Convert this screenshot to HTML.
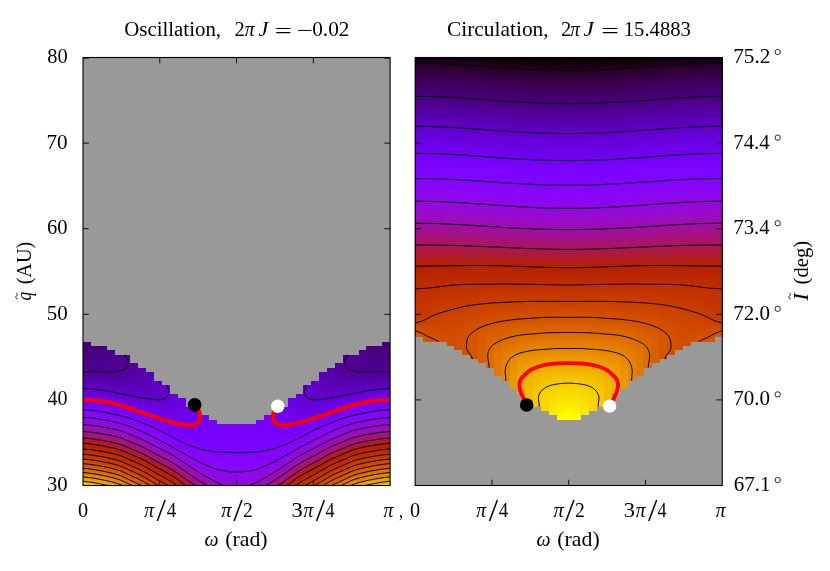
<!DOCTYPE html><html><head><meta charset="utf-8"><title>fig</title><style>html,body{margin:0;padding:0;background:#fff}svg{display:block}text{font-family:"Liberation Serif",serif;fill:#000;font-size:20.5px}.i{font-style:italic}</style></head><body>
<svg width="830" height="571" viewBox="0 0 830 571">
<defs><clipPath id="clL"><rect x="82.98" y="341.80" width="7.91" height="143.70"/><rect x="90.85" y="346.13" width="7.91" height="139.37"/><rect x="98.73" y="346.13" width="7.91" height="139.37"/><rect x="106.60" y="350.46" width="7.91" height="135.04"/><rect x="114.48" y="354.79" width="7.91" height="130.71"/><rect x="122.35" y="354.79" width="7.91" height="130.71"/><rect x="130.23" y="363.45" width="7.91" height="122.05"/><rect x="138.10" y="367.78" width="7.91" height="117.72"/><rect x="145.97" y="372.11" width="7.91" height="113.39"/><rect x="153.85" y="380.77" width="7.91" height="104.73"/><rect x="161.72" y="385.10" width="7.91" height="100.40"/><rect x="169.60" y="393.76" width="7.91" height="91.74"/><rect x="177.47" y="398.09" width="7.91" height="87.41"/><rect x="185.35" y="406.75" width="7.91" height="78.75"/><rect x="193.22" y="411.08" width="7.91" height="74.42"/><rect x="201.10" y="415.41" width="7.91" height="70.09"/><rect x="208.97" y="419.74" width="7.91" height="65.76"/><rect x="216.84" y="424.07" width="7.91" height="61.43"/><rect x="224.72" y="424.07" width="7.91" height="61.43"/><rect x="232.59" y="424.07" width="7.91" height="61.43"/><rect x="240.47" y="424.07" width="7.91" height="61.43"/><rect x="248.34" y="424.07" width="7.91" height="61.43"/><rect x="256.22" y="419.74" width="7.91" height="65.76"/><rect x="264.09" y="415.41" width="7.91" height="70.09"/><rect x="271.96" y="411.08" width="7.91" height="74.42"/><rect x="279.84" y="406.75" width="7.91" height="78.75"/><rect x="287.71" y="398.09" width="7.91" height="87.41"/><rect x="295.59" y="393.76" width="7.91" height="91.74"/><rect x="303.46" y="385.10" width="7.91" height="100.40"/><rect x="311.34" y="380.77" width="7.91" height="104.73"/><rect x="319.21" y="372.11" width="7.91" height="113.39"/><rect x="327.09" y="367.78" width="7.91" height="117.72"/><rect x="334.96" y="363.45" width="7.91" height="122.05"/><rect x="342.83" y="354.79" width="7.91" height="130.71"/><rect x="350.71" y="354.79" width="7.91" height="130.71"/><rect x="358.58" y="350.46" width="7.91" height="135.04"/><rect x="366.46" y="346.13" width="7.91" height="139.37"/><rect x="374.33" y="346.13" width="7.91" height="139.37"/><rect x="382.21" y="341.80" width="7.91" height="143.70"/></clipPath><clipPath id="clR"><rect x="415.13" y="57.50" width="7.91" height="279.97"/><rect x="423.00" y="57.50" width="7.91" height="284.30"/><rect x="430.88" y="57.50" width="7.91" height="284.30"/><rect x="438.75" y="57.50" width="7.91" height="284.30"/><rect x="446.63" y="57.50" width="7.91" height="288.63"/><rect x="454.50" y="57.50" width="7.91" height="292.96"/><rect x="462.38" y="57.50" width="7.91" height="297.29"/><rect x="470.25" y="57.50" width="7.91" height="301.62"/><rect x="478.12" y="57.50" width="7.91" height="305.95"/><rect x="486.00" y="57.50" width="7.91" height="310.28"/><rect x="493.87" y="57.50" width="7.91" height="318.94"/><rect x="501.75" y="57.50" width="7.91" height="323.27"/><rect x="509.62" y="57.50" width="7.91" height="331.93"/><rect x="517.50" y="57.50" width="7.91" height="336.26"/><rect x="525.37" y="57.50" width="7.91" height="344.92"/><rect x="533.25" y="57.50" width="7.91" height="349.25"/><rect x="541.12" y="57.50" width="7.91" height="353.58"/><rect x="548.99" y="57.50" width="7.91" height="357.91"/><rect x="556.87" y="57.50" width="7.91" height="362.24"/><rect x="564.74" y="57.50" width="7.91" height="362.24"/><rect x="572.62" y="57.50" width="7.91" height="362.24"/><rect x="580.49" y="57.50" width="7.91" height="357.91"/><rect x="588.37" y="57.50" width="7.91" height="353.58"/><rect x="596.24" y="57.50" width="7.91" height="349.25"/><rect x="604.11" y="57.50" width="7.91" height="344.92"/><rect x="611.99" y="57.50" width="7.91" height="336.26"/><rect x="619.86" y="57.50" width="7.91" height="331.93"/><rect x="627.74" y="57.50" width="7.91" height="323.27"/><rect x="635.61" y="57.50" width="7.91" height="318.94"/><rect x="643.49" y="57.50" width="7.91" height="310.28"/><rect x="651.36" y="57.50" width="7.91" height="305.95"/><rect x="659.24" y="57.50" width="7.91" height="301.62"/><rect x="667.11" y="57.50" width="7.91" height="297.29"/><rect x="674.98" y="57.50" width="7.91" height="292.96"/><rect x="682.86" y="57.50" width="7.91" height="288.63"/><rect x="690.73" y="57.50" width="7.91" height="284.30"/><rect x="698.61" y="57.50" width="7.91" height="284.30"/><rect x="706.48" y="57.50" width="7.91" height="284.30"/><rect x="714.36" y="57.50" width="7.91" height="279.97"/></clipPath><linearGradient id="gl0" x1="0" y1="0" x2="0" y2="1"><stop offset="0" stop-color="#450072"/><stop offset="0.0303" stop-color="#470078"/><stop offset="0.06061" stop-color="#48007c"/><stop offset="0.09091" stop-color="#4a007f"/><stop offset="0.1212" stop-color="#4b0083"/><stop offset="0.1515" stop-color="#4c0088"/><stop offset="0.1818" stop-color="#4e008e"/><stop offset="0.2121" stop-color="#510097"/><stop offset="0.2424" stop-color="#5500a4"/><stop offset="0.2727" stop-color="#5900b2"/><stop offset="0.303" stop-color="#5e01c2"/><stop offset="0.3333" stop-color="#6401d2"/><stop offset="0.3636" stop-color="#6a01e1"/><stop offset="0.3939" stop-color="#6f02ee"/><stop offset="0.4242" stop-color="#7502f7"/><stop offset="0.4545" stop-color="#7b03fd"/><stop offset="0.4848" stop-color="#8104ff"/><stop offset="0.5152" stop-color="#8806f9"/><stop offset="0.5455" stop-color="#8f08eb"/><stop offset="0.5758" stop-color="#950ad5"/><stop offset="0.6061" stop-color="#9c0db7"/><stop offset="0.6364" stop-color="#a21191"/><stop offset="0.6667" stop-color="#a81563"/><stop offset="0.697" stop-color="#b01b27"/><stop offset="0.7273" stop-color="#b72300"/><stop offset="0.7576" stop-color="#be2b00"/><stop offset="0.7879" stop-color="#c43500"/><stop offset="0.8182" stop-color="#cc4200"/><stop offset="0.8485" stop-color="#d35100"/><stop offset="0.8788" stop-color="#da6300"/><stop offset="0.9091" stop-color="#e17800"/><stop offset="0.9394" stop-color="#e89000"/><stop offset="0.9697" stop-color="#efab00"/><stop offset="1" stop-color="#f5c900"/></linearGradient><linearGradient id="gl1" x1="0" y1="0" x2="0" y2="1"><stop offset="0" stop-color="#48007a"/><stop offset="0.03125" stop-color="#49007e"/><stop offset="0.0625" stop-color="#4a0082"/><stop offset="0.09375" stop-color="#4b0085"/><stop offset="0.125" stop-color="#4d008a"/><stop offset="0.1563" stop-color="#4f0090"/><stop offset="0.1875" stop-color="#510098"/><stop offset="0.2188" stop-color="#5500a3"/><stop offset="0.25" stop-color="#5900b0"/><stop offset="0.2812" stop-color="#5e01bf"/><stop offset="0.3125" stop-color="#6301cf"/><stop offset="0.3437" stop-color="#6901df"/><stop offset="0.375" stop-color="#6f02ec"/><stop offset="0.4062" stop-color="#7402f6"/><stop offset="0.4375" stop-color="#7a03fd"/><stop offset="0.4687" stop-color="#8004ff"/><stop offset="0.5" stop-color="#8706fb"/><stop offset="0.5313" stop-color="#8d07ef"/><stop offset="0.5625" stop-color="#940ada"/><stop offset="0.5938" stop-color="#9a0dbd"/><stop offset="0.625" stop-color="#a11099"/><stop offset="0.6563" stop-color="#a7146e"/><stop offset="0.6875" stop-color="#ae1a35"/><stop offset="0.7188" stop-color="#b52100"/><stop offset="0.75" stop-color="#bc2900"/><stop offset="0.7812" stop-color="#c33300"/><stop offset="0.8125" stop-color="#ca3f00"/><stop offset="0.8437" stop-color="#d14e00"/><stop offset="0.875" stop-color="#d85e00"/><stop offset="0.9062" stop-color="#df7300"/><stop offset="0.9375" stop-color="#e68a00"/><stop offset="0.9688" stop-color="#eda400"/><stop offset="1" stop-color="#f3c100"/></linearGradient><linearGradient id="gl2" x1="0" y1="0" x2="0" y2="1"><stop offset="0" stop-color="#49007f"/><stop offset="0.03125" stop-color="#4b0082"/><stop offset="0.0625" stop-color="#4b0085"/><stop offset="0.09375" stop-color="#4c0088"/><stop offset="0.125" stop-color="#4d008c"/><stop offset="0.1563" stop-color="#4f0090"/><stop offset="0.1875" stop-color="#510097"/><stop offset="0.2188" stop-color="#5400a1"/><stop offset="0.25" stop-color="#5800ae"/><stop offset="0.2812" stop-color="#5d01bc"/><stop offset="0.3125" stop-color="#6201cc"/><stop offset="0.3437" stop-color="#6801dc"/><stop offset="0.375" stop-color="#6e02ea"/><stop offset="0.4062" stop-color="#7302f4"/><stop offset="0.4375" stop-color="#7803fb"/><stop offset="0.4687" stop-color="#7e04ff"/><stop offset="0.5" stop-color="#8505fd"/><stop offset="0.5313" stop-color="#8b07f3"/><stop offset="0.5625" stop-color="#9209e1"/><stop offset="0.5938" stop-color="#990cc6"/><stop offset="0.625" stop-color="#9f0fa4"/><stop offset="0.6563" stop-color="#a5137b"/><stop offset="0.6875" stop-color="#ac1847"/><stop offset="0.7188" stop-color="#b31f08"/><stop offset="0.75" stop-color="#ba2700"/><stop offset="0.7812" stop-color="#c13000"/><stop offset="0.8125" stop-color="#c83b00"/><stop offset="0.8437" stop-color="#cf4900"/><stop offset="0.875" stop-color="#d65900"/><stop offset="0.9062" stop-color="#dd6c00"/><stop offset="0.9375" stop-color="#e48200"/><stop offset="0.9688" stop-color="#eb9b00"/><stop offset="1" stop-color="#f1b700"/></linearGradient><linearGradient id="gl3" x1="0" y1="0" x2="0" y2="1"><stop offset="0" stop-color="#4c0088"/><stop offset="0.03226" stop-color="#4d008b"/><stop offset="0.06452" stop-color="#4e008d"/><stop offset="0.09677" stop-color="#4e008e"/><stop offset="0.129" stop-color="#4f0092"/><stop offset="0.1613" stop-color="#510097"/><stop offset="0.1935" stop-color="#54009f"/><stop offset="0.2258" stop-color="#5700ab"/><stop offset="0.2581" stop-color="#5b01b8"/><stop offset="0.2903" stop-color="#6001c7"/><stop offset="0.3226" stop-color="#6601d6"/><stop offset="0.3548" stop-color="#6b01e5"/><stop offset="0.3871" stop-color="#7102f1"/><stop offset="0.4194" stop-color="#7603f9"/><stop offset="0.4516" stop-color="#7c03fe"/><stop offset="0.4839" stop-color="#8205fe"/><stop offset="0.5161" stop-color="#8906f8"/><stop offset="0.5484" stop-color="#9008e8"/><stop offset="0.5806" stop-color="#960bd0"/><stop offset="0.6129" stop-color="#9d0eb0"/><stop offset="0.6452" stop-color="#a3118a"/><stop offset="0.6774" stop-color="#aa165b"/><stop offset="0.7097" stop-color="#b11c1e"/><stop offset="0.7419" stop-color="#b82400"/><stop offset="0.7742" stop-color="#be2c00"/><stop offset="0.8065" stop-color="#c53600"/><stop offset="0.8387" stop-color="#cc4300"/><stop offset="0.871" stop-color="#d35200"/><stop offset="0.9032" stop-color="#da6400"/><stop offset="0.9355" stop-color="#e17900"/><stop offset="0.9677" stop-color="#e89100"/><stop offset="1" stop-color="#efab00"/></linearGradient><linearGradient id="gl4" x1="0" y1="0" x2="0" y2="1"><stop offset="0" stop-color="#4f0092"/><stop offset="0.03333" stop-color="#500092"/><stop offset="0.06667" stop-color="#500092"/><stop offset="0.1" stop-color="#500094"/><stop offset="0.1333" stop-color="#510098"/><stop offset="0.1667" stop-color="#53009f"/><stop offset="0.2" stop-color="#5600a8"/><stop offset="0.2333" stop-color="#5a00b4"/><stop offset="0.2667" stop-color="#5e01c2"/><stop offset="0.3" stop-color="#6401d0"/><stop offset="0.3333" stop-color="#6901e0"/><stop offset="0.3667" stop-color="#6f02ed"/><stop offset="0.4" stop-color="#7502f6"/><stop offset="0.4333" stop-color="#7a03fd"/><stop offset="0.4667" stop-color="#8004ff"/><stop offset="0.5" stop-color="#8605fb"/><stop offset="0.5333" stop-color="#8d07f0"/><stop offset="0.5667" stop-color="#940adb"/><stop offset="0.6" stop-color="#9a0cbf"/><stop offset="0.6333" stop-color="#a0109b"/><stop offset="0.6667" stop-color="#a71471"/><stop offset="0.7" stop-color="#ae193a"/><stop offset="0.7333" stop-color="#b52000"/><stop offset="0.7667" stop-color="#bb2800"/><stop offset="0.8" stop-color="#c23100"/><stop offset="0.8333" stop-color="#c93d00"/><stop offset="0.8667" stop-color="#d04b00"/><stop offset="0.9" stop-color="#d75b00"/><stop offset="0.9333" stop-color="#de6e00"/><stop offset="0.9667" stop-color="#e58400"/><stop offset="1" stop-color="#eb9d00"/></linearGradient><linearGradient id="gl5" x1="0" y1="0" x2="0" y2="1"><stop offset="0" stop-color="#510097"/><stop offset="0.03333" stop-color="#510096"/><stop offset="0.06667" stop-color="#510096"/><stop offset="0.1" stop-color="#510097"/><stop offset="0.1333" stop-color="#52009b"/><stop offset="0.1667" stop-color="#5400a1"/><stop offset="0.2" stop-color="#5600a9"/><stop offset="0.2333" stop-color="#5a00b3"/><stop offset="0.2667" stop-color="#5d01be"/><stop offset="0.3" stop-color="#6201cb"/><stop offset="0.3333" stop-color="#6701d9"/><stop offset="0.3667" stop-color="#6c01e7"/><stop offset="0.4" stop-color="#7102f1"/><stop offset="0.4333" stop-color="#7703fa"/><stop offset="0.4667" stop-color="#7d04fe"/><stop offset="0.5" stop-color="#8305fe"/><stop offset="0.5333" stop-color="#8a06f7"/><stop offset="0.5667" stop-color="#9008e8"/><stop offset="0.6" stop-color="#960bd2"/><stop offset="0.6333" stop-color="#9c0eb4"/><stop offset="0.6667" stop-color="#a2118e"/><stop offset="0.7" stop-color="#a91561"/><stop offset="0.7333" stop-color="#b01b27"/><stop offset="0.7667" stop-color="#b72300"/><stop offset="0.8" stop-color="#bd2a00"/><stop offset="0.8333" stop-color="#c43400"/><stop offset="0.8667" stop-color="#cb4000"/><stop offset="0.9" stop-color="#d24f00"/><stop offset="0.9333" stop-color="#d85f00"/><stop offset="0.9667" stop-color="#df7300"/><stop offset="1" stop-color="#e68900"/></linearGradient><linearGradient id="gl6" x1="0" y1="0" x2="0" y2="1"><stop offset="0" stop-color="#52009b"/><stop offset="0.03571" stop-color="#53009d"/><stop offset="0.07143" stop-color="#5400a0"/><stop offset="0.1071" stop-color="#5500a5"/><stop offset="0.1429" stop-color="#5700ab"/><stop offset="0.1786" stop-color="#5a00b3"/><stop offset="0.2143" stop-color="#5d01bd"/><stop offset="0.25" stop-color="#6001c7"/><stop offset="0.2857" stop-color="#6501d3"/><stop offset="0.3214" stop-color="#6901df"/><stop offset="0.3571" stop-color="#6e02eb"/><stop offset="0.3929" stop-color="#7302f5"/><stop offset="0.4286" stop-color="#7903fc"/><stop offset="0.4643" stop-color="#7f04ff"/><stop offset="0.5" stop-color="#8505fc"/><stop offset="0.5357" stop-color="#8c07f3"/><stop offset="0.5714" stop-color="#9209e2"/><stop offset="0.6071" stop-color="#980bca"/><stop offset="0.6429" stop-color="#9e0eaa"/><stop offset="0.6786" stop-color="#a41283"/><stop offset="0.7143" stop-color="#aa1754"/><stop offset="0.75" stop-color="#b21d18"/><stop offset="0.7857" stop-color="#b82400"/><stop offset="0.8214" stop-color="#bf2c00"/><stop offset="0.8571" stop-color="#c53600"/><stop offset="0.8929" stop-color="#cc4300"/><stop offset="0.9286" stop-color="#d35100"/><stop offset="0.9643" stop-color="#d96200"/><stop offset="1" stop-color="#e07600"/></linearGradient><linearGradient id="gl7" x1="0" y1="0" x2="0" y2="1"><stop offset="0" stop-color="#5500a5"/><stop offset="0.03704" stop-color="#5600a8"/><stop offset="0.07407" stop-color="#5700ac"/><stop offset="0.1111" stop-color="#5900b0"/><stop offset="0.1481" stop-color="#5b01b6"/><stop offset="0.1852" stop-color="#5d01bd"/><stop offset="0.2222" stop-color="#6001c5"/><stop offset="0.2593" stop-color="#6301cf"/><stop offset="0.2963" stop-color="#6701da"/><stop offset="0.3333" stop-color="#6b01e4"/><stop offset="0.3704" stop-color="#7002ef"/><stop offset="0.4074" stop-color="#7602f8"/><stop offset="0.4444" stop-color="#7b03fe"/><stop offset="0.4815" stop-color="#8104ff"/><stop offset="0.5185" stop-color="#8706fb"/><stop offset="0.5556" stop-color="#8d07f0"/><stop offset="0.5926" stop-color="#9309dd"/><stop offset="0.6296" stop-color="#990cc3"/><stop offset="0.6667" stop-color="#9f0fa2"/><stop offset="0.7037" stop-color="#a5137a"/><stop offset="0.7407" stop-color="#ac1848"/><stop offset="0.7778" stop-color="#b31e0c"/><stop offset="0.8148" stop-color="#b92600"/><stop offset="0.8519" stop-color="#c02e00"/><stop offset="0.8889" stop-color="#c63800"/><stop offset="0.9259" stop-color="#cd4500"/><stop offset="0.963" stop-color="#d45300"/><stop offset="1" stop-color="#da6400"/></linearGradient><linearGradient id="gl8" x1="0" y1="0" x2="0" y2="1"><stop offset="0" stop-color="#5900b1"/><stop offset="0.03846" stop-color="#5a00b4"/><stop offset="0.07692" stop-color="#5b01b7"/><stop offset="0.1154" stop-color="#5c01bb"/><stop offset="0.1538" stop-color="#5e01c0"/><stop offset="0.1923" stop-color="#6001c5"/><stop offset="0.2308" stop-color="#6201cc"/><stop offset="0.2692" stop-color="#6501d5"/><stop offset="0.3077" stop-color="#6901df"/><stop offset="0.3462" stop-color="#6d02e9"/><stop offset="0.3846" stop-color="#7202f3"/><stop offset="0.4231" stop-color="#7703fa"/><stop offset="0.4615" stop-color="#7d03fe"/><stop offset="0.5" stop-color="#8205fe"/><stop offset="0.5385" stop-color="#8806f9"/><stop offset="0.5769" stop-color="#8e07ee"/><stop offset="0.6154" stop-color="#940adc"/><stop offset="0.6538" stop-color="#9a0cc2"/><stop offset="0.6923" stop-color="#a00fa0"/><stop offset="0.7308" stop-color="#a61378"/><stop offset="0.7692" stop-color="#ac1847"/><stop offset="0.8077" stop-color="#b31e0c"/><stop offset="0.8462" stop-color="#b92600"/><stop offset="0.8846" stop-color="#bf2e00"/><stop offset="0.9231" stop-color="#c63800"/><stop offset="0.9615" stop-color="#cd4400"/><stop offset="1" stop-color="#d35200"/></linearGradient><linearGradient id="gl9" x1="0" y1="0" x2="0" y2="1"><stop offset="0" stop-color="#5e01c1"/><stop offset="0.04167" stop-color="#5f01c3"/><stop offset="0.08333" stop-color="#5f01c5"/><stop offset="0.125" stop-color="#6001c7"/><stop offset="0.1667" stop-color="#6201cc"/><stop offset="0.2083" stop-color="#6401d3"/><stop offset="0.25" stop-color="#6701db"/><stop offset="0.2917" stop-color="#6b01e5"/><stop offset="0.3333" stop-color="#6f02ee"/><stop offset="0.375" stop-color="#7402f6"/><stop offset="0.4167" stop-color="#7903fc"/><stop offset="0.4583" stop-color="#7e04ff"/><stop offset="0.5" stop-color="#8305fe"/><stop offset="0.5417" stop-color="#8806f9"/><stop offset="0.5833" stop-color="#8e08ed"/><stop offset="0.625" stop-color="#940ada"/><stop offset="0.6667" stop-color="#9a0cc0"/><stop offset="0.7083" stop-color="#a00f9f"/><stop offset="0.75" stop-color="#a61378"/><stop offset="0.7917" stop-color="#ac1847"/><stop offset="0.8333" stop-color="#b31e0d"/><stop offset="0.875" stop-color="#b92500"/><stop offset="0.9167" stop-color="#bf2d00"/><stop offset="0.9583" stop-color="#c63700"/><stop offset="1" stop-color="#cc4300"/></linearGradient><linearGradient id="gl10" x1="0" y1="0" x2="0" y2="1"><stop offset="0" stop-color="#6201cc"/><stop offset="0.04348" stop-color="#6201cb"/><stop offset="0.08696" stop-color="#6201cb"/><stop offset="0.1304" stop-color="#6301ce"/><stop offset="0.1739" stop-color="#6501d4"/><stop offset="0.2174" stop-color="#6701db"/><stop offset="0.2609" stop-color="#6a01e2"/><stop offset="0.3043" stop-color="#6e02ea"/><stop offset="0.3478" stop-color="#7102f1"/><stop offset="0.3913" stop-color="#7502f8"/><stop offset="0.4348" stop-color="#7a03fc"/><stop offset="0.4783" stop-color="#7e04ff"/><stop offset="0.5217" stop-color="#8305fe"/><stop offset="0.5652" stop-color="#8906f8"/><stop offset="0.6087" stop-color="#8e08ec"/><stop offset="0.6522" stop-color="#940ad8"/><stop offset="0.6957" stop-color="#9a0dbd"/><stop offset="0.7391" stop-color="#a0109c"/><stop offset="0.7826" stop-color="#a61474"/><stop offset="0.8261" stop-color="#ac1843"/><stop offset="0.8696" stop-color="#b31f09"/><stop offset="0.913" stop-color="#b92600"/><stop offset="0.9565" stop-color="#bf2e00"/><stop offset="1" stop-color="#c63700"/></linearGradient><linearGradient id="gl11" x1="0" y1="0" x2="0" y2="1"><stop offset="0" stop-color="#6501d4"/><stop offset="0.04762" stop-color="#6601d6"/><stop offset="0.09524" stop-color="#6701da"/><stop offset="0.1429" stop-color="#6901de"/><stop offset="0.1905" stop-color="#6b01e3"/><stop offset="0.2381" stop-color="#6d02e9"/><stop offset="0.2857" stop-color="#7002ee"/><stop offset="0.3333" stop-color="#7302f4"/><stop offset="0.381" stop-color="#7603f9"/><stop offset="0.4286" stop-color="#7a03fd"/><stop offset="0.4762" stop-color="#7e04ff"/><stop offset="0.5238" stop-color="#8305fe"/><stop offset="0.5714" stop-color="#8906f8"/><stop offset="0.619" stop-color="#8f08ec"/><stop offset="0.6667" stop-color="#950ad8"/><stop offset="0.7143" stop-color="#9b0dbd"/><stop offset="0.7619" stop-color="#a0109c"/><stop offset="0.8095" stop-color="#a61375"/><stop offset="0.8571" stop-color="#ac1845"/><stop offset="0.9048" stop-color="#b31e0c"/><stop offset="0.9524" stop-color="#b92500"/><stop offset="1" stop-color="#bf2d00"/></linearGradient><linearGradient id="gl12" x1="0" y1="0" x2="0" y2="1"><stop offset="0" stop-color="#6901e0"/><stop offset="0.05" stop-color="#6a01e2"/><stop offset="0.1" stop-color="#6b01e5"/><stop offset="0.15" stop-color="#6d02e8"/><stop offset="0.2" stop-color="#6e02eb"/><stop offset="0.25" stop-color="#7002ee"/><stop offset="0.3" stop-color="#7202f2"/><stop offset="0.35" stop-color="#7402f6"/><stop offset="0.4" stop-color="#7703fa"/><stop offset="0.45" stop-color="#7b03fd"/><stop offset="0.5" stop-color="#7f04ff"/><stop offset="0.55" stop-color="#8405fe"/><stop offset="0.6" stop-color="#8906f8"/><stop offset="0.65" stop-color="#8e08ec"/><stop offset="0.7" stop-color="#940adb"/><stop offset="0.75" stop-color="#990cc3"/><stop offset="0.8" stop-color="#9f0fa3"/><stop offset="0.85" stop-color="#a5137e"/><stop offset="0.9" stop-color="#ab1751"/><stop offset="0.95" stop-color="#b11d1a"/><stop offset="1" stop-color="#b72300"/></linearGradient><linearGradient id="gl13" x1="0" y1="0" x2="0" y2="1"><stop offset="0" stop-color="#6f02ec"/><stop offset="0.05556" stop-color="#6f02ed"/><stop offset="0.1111" stop-color="#6f02ee"/><stop offset="0.1667" stop-color="#7002ef"/><stop offset="0.2222" stop-color="#7102f1"/><stop offset="0.2778" stop-color="#7302f4"/><stop offset="0.3333" stop-color="#7502f7"/><stop offset="0.3889" stop-color="#7803fb"/><stop offset="0.4444" stop-color="#7c03fe"/><stop offset="0.5" stop-color="#8004ff"/><stop offset="0.5556" stop-color="#8405fd"/><stop offset="0.6111" stop-color="#8906f8"/><stop offset="0.6667" stop-color="#8e08ee"/><stop offset="0.7222" stop-color="#9309de"/><stop offset="0.7778" stop-color="#980bc9"/><stop offset="0.8333" stop-color="#9e0eab"/><stop offset="0.8889" stop-color="#a31288"/><stop offset="0.9444" stop-color="#a9165f"/><stop offset="1" stop-color="#af1b2b"/></linearGradient><linearGradient id="gl14" x1="0" y1="0" x2="0" y2="1"><stop offset="0" stop-color="#7102f1"/><stop offset="0.05882" stop-color="#7102f1"/><stop offset="0.1176" stop-color="#7102f1"/><stop offset="0.1765" stop-color="#7202f2"/><stop offset="0.2353" stop-color="#7302f4"/><stop offset="0.2941" stop-color="#7502f7"/><stop offset="0.3529" stop-color="#7703fa"/><stop offset="0.4118" stop-color="#7a03fd"/><stop offset="0.4706" stop-color="#7d04ff"/><stop offset="0.5294" stop-color="#8104ff"/><stop offset="0.5882" stop-color="#8505fd"/><stop offset="0.6471" stop-color="#8906f7"/><stop offset="0.7059" stop-color="#8d07ee"/><stop offset="0.7647" stop-color="#9209e1"/><stop offset="0.8235" stop-color="#970bce"/><stop offset="0.8824" stop-color="#9d0eb2"/><stop offset="0.9412" stop-color="#a21190"/><stop offset="1" stop-color="#a81569"/></linearGradient><linearGradient id="gl15" x1="0" y1="0" x2="0" y2="1"><stop offset="0" stop-color="#7302f3"/><stop offset="0.0625" stop-color="#7302f4"/><stop offset="0.125" stop-color="#7302f4"/><stop offset="0.1875" stop-color="#7402f6"/><stop offset="0.25" stop-color="#7502f7"/><stop offset="0.3125" stop-color="#7703fa"/><stop offset="0.375" stop-color="#7903fc"/><stop offset="0.4375" stop-color="#7c03fe"/><stop offset="0.5" stop-color="#7f04ff"/><stop offset="0.5625" stop-color="#8305fe"/><stop offset="0.625" stop-color="#8605fb"/><stop offset="0.6875" stop-color="#8a06f6"/><stop offset="0.75" stop-color="#8e08ee"/><stop offset="0.8125" stop-color="#9209e1"/><stop offset="0.875" stop-color="#960bd0"/><stop offset="0.9375" stop-color="#9c0db5"/><stop offset="1" stop-color="#a21194"/></linearGradient><linearGradient id="gl16" x1="0" y1="0" x2="0" y2="1"><stop offset="0" stop-color="#7402f6"/><stop offset="0.06667" stop-color="#7502f7"/><stop offset="0.1333" stop-color="#7502f8"/><stop offset="0.2" stop-color="#7603f9"/><stop offset="0.2667" stop-color="#7703fa"/><stop offset="0.3333" stop-color="#7903fc"/><stop offset="0.4" stop-color="#7b03fe"/><stop offset="0.4667" stop-color="#7e04ff"/><stop offset="0.5333" stop-color="#8104ff"/><stop offset="0.6" stop-color="#8405fd"/><stop offset="0.6667" stop-color="#8706fa"/><stop offset="0.7333" stop-color="#8b07f4"/><stop offset="0.8" stop-color="#8f08eb"/><stop offset="0.8667" stop-color="#9209e0"/><stop offset="0.9333" stop-color="#960bd0"/><stop offset="1" stop-color="#9c0db4"/></linearGradient><linearGradient id="gl17" x1="0" y1="0" x2="0" y2="1"><stop offset="0" stop-color="#7602f8"/><stop offset="0.07143" stop-color="#7603f9"/><stop offset="0.1429" stop-color="#7703fa"/><stop offset="0.2143" stop-color="#7803fb"/><stop offset="0.2857" stop-color="#7903fc"/><stop offset="0.3571" stop-color="#7b03fe"/><stop offset="0.4286" stop-color="#7e04ff"/><stop offset="0.5" stop-color="#8004ff"/><stop offset="0.5714" stop-color="#8305fe"/><stop offset="0.6429" stop-color="#8605fb"/><stop offset="0.7143" stop-color="#8906f7"/><stop offset="0.7857" stop-color="#8c07f1"/><stop offset="0.8571" stop-color="#9008e8"/><stop offset="0.9286" stop-color="#9309de"/><stop offset="1" stop-color="#970bce"/></linearGradient><linearGradient id="gl18" x1="0" y1="0" x2="0" y2="1"><stop offset="0" stop-color="#7603f9"/><stop offset="0.07143" stop-color="#7703f9"/><stop offset="0.1429" stop-color="#7703fa"/><stop offset="0.2143" stop-color="#7803fb"/><stop offset="0.2857" stop-color="#7a03fc"/><stop offset="0.3571" stop-color="#7b03fe"/><stop offset="0.4286" stop-color="#7e04ff"/><stop offset="0.5" stop-color="#8004ff"/><stop offset="0.5714" stop-color="#8305fe"/><stop offset="0.6429" stop-color="#8605fc"/><stop offset="0.7143" stop-color="#8806f9"/><stop offset="0.7857" stop-color="#8b07f3"/><stop offset="0.8571" stop-color="#8f08ec"/><stop offset="0.9286" stop-color="#9109e3"/><stop offset="1" stop-color="#940ad8"/></linearGradient><linearGradient id="gl19" x1="0" y1="0" x2="0" y2="1"><stop offset="0" stop-color="#7603f9"/><stop offset="0.07143" stop-color="#7703fa"/><stop offset="0.1429" stop-color="#7803fa"/><stop offset="0.2143" stop-color="#7803fb"/><stop offset="0.2857" stop-color="#7a03fd"/><stop offset="0.3571" stop-color="#7b03fe"/><stop offset="0.4286" stop-color="#7e04ff"/><stop offset="0.5" stop-color="#8004ff"/><stop offset="0.5714" stop-color="#8305fe"/><stop offset="0.6429" stop-color="#8605fc"/><stop offset="0.7143" stop-color="#8806f9"/><stop offset="0.7857" stop-color="#8b07f4"/><stop offset="0.8571" stop-color="#8e08ed"/><stop offset="0.9286" stop-color="#9109e5"/><stop offset="1" stop-color="#940adc"/></linearGradient><linearGradient id="gl20" x1="0" y1="0" x2="0" y2="1"><stop offset="0" stop-color="#7603f9"/><stop offset="0.07143" stop-color="#7703f9"/><stop offset="0.1429" stop-color="#7703fa"/><stop offset="0.2143" stop-color="#7803fb"/><stop offset="0.2857" stop-color="#7a03fc"/><stop offset="0.3571" stop-color="#7b03fe"/><stop offset="0.4286" stop-color="#7e04ff"/><stop offset="0.5" stop-color="#8004ff"/><stop offset="0.5714" stop-color="#8305fe"/><stop offset="0.6429" stop-color="#8605fc"/><stop offset="0.7143" stop-color="#8806f9"/><stop offset="0.7857" stop-color="#8b07f3"/><stop offset="0.8571" stop-color="#8f08ec"/><stop offset="0.9286" stop-color="#9109e3"/><stop offset="1" stop-color="#940ad8"/></linearGradient><linearGradient id="gl21" x1="0" y1="0" x2="0" y2="1"><stop offset="0" stop-color="#7602f8"/><stop offset="0.07143" stop-color="#7603f9"/><stop offset="0.1429" stop-color="#7703fa"/><stop offset="0.2143" stop-color="#7803fb"/><stop offset="0.2857" stop-color="#7903fc"/><stop offset="0.3571" stop-color="#7b03fe"/><stop offset="0.4286" stop-color="#7e04ff"/><stop offset="0.5" stop-color="#8004ff"/><stop offset="0.5714" stop-color="#8305fe"/><stop offset="0.6429" stop-color="#8605fb"/><stop offset="0.7143" stop-color="#8906f7"/><stop offset="0.7857" stop-color="#8c07f1"/><stop offset="0.8571" stop-color="#9008e8"/><stop offset="0.9286" stop-color="#9309de"/><stop offset="1" stop-color="#970bce"/></linearGradient><linearGradient id="gl22" x1="0" y1="0" x2="0" y2="1"><stop offset="0" stop-color="#7402f6"/><stop offset="0.06667" stop-color="#7502f7"/><stop offset="0.1333" stop-color="#7502f8"/><stop offset="0.2" stop-color="#7603f9"/><stop offset="0.2667" stop-color="#7703fa"/><stop offset="0.3333" stop-color="#7903fc"/><stop offset="0.4" stop-color="#7b03fe"/><stop offset="0.4667" stop-color="#7e04ff"/><stop offset="0.5333" stop-color="#8104ff"/><stop offset="0.6" stop-color="#8405fd"/><stop offset="0.6667" stop-color="#8706fa"/><stop offset="0.7333" stop-color="#8b07f4"/><stop offset="0.8" stop-color="#8f08eb"/><stop offset="0.8667" stop-color="#9209e0"/><stop offset="0.9333" stop-color="#960bd0"/><stop offset="1" stop-color="#9c0db4"/></linearGradient><linearGradient id="gl23" x1="0" y1="0" x2="0" y2="1"><stop offset="0" stop-color="#7302f3"/><stop offset="0.0625" stop-color="#7302f4"/><stop offset="0.125" stop-color="#7302f4"/><stop offset="0.1875" stop-color="#7402f6"/><stop offset="0.25" stop-color="#7502f7"/><stop offset="0.3125" stop-color="#7703fa"/><stop offset="0.375" stop-color="#7903fc"/><stop offset="0.4375" stop-color="#7c03fe"/><stop offset="0.5" stop-color="#7f04ff"/><stop offset="0.5625" stop-color="#8305fe"/><stop offset="0.625" stop-color="#8605fb"/><stop offset="0.6875" stop-color="#8a06f6"/><stop offset="0.75" stop-color="#8e08ee"/><stop offset="0.8125" stop-color="#9209e1"/><stop offset="0.875" stop-color="#960bd0"/><stop offset="0.9375" stop-color="#9c0db5"/><stop offset="1" stop-color="#a21194"/></linearGradient><linearGradient id="gl24" x1="0" y1="0" x2="0" y2="1"><stop offset="0" stop-color="#7102f1"/><stop offset="0.05882" stop-color="#7102f1"/><stop offset="0.1176" stop-color="#7102f1"/><stop offset="0.1765" stop-color="#7202f2"/><stop offset="0.2353" stop-color="#7302f4"/><stop offset="0.2941" stop-color="#7502f7"/><stop offset="0.3529" stop-color="#7703fa"/><stop offset="0.4118" stop-color="#7a03fd"/><stop offset="0.4706" stop-color="#7d04ff"/><stop offset="0.5294" stop-color="#8104ff"/><stop offset="0.5882" stop-color="#8505fd"/><stop offset="0.6471" stop-color="#8906f7"/><stop offset="0.7059" stop-color="#8d07ee"/><stop offset="0.7647" stop-color="#9209e1"/><stop offset="0.8235" stop-color="#970bce"/><stop offset="0.8824" stop-color="#9d0eb2"/><stop offset="0.9412" stop-color="#a21190"/><stop offset="1" stop-color="#a81569"/></linearGradient><linearGradient id="gl25" x1="0" y1="0" x2="0" y2="1"><stop offset="0" stop-color="#6f02ec"/><stop offset="0.05556" stop-color="#6f02ed"/><stop offset="0.1111" stop-color="#6f02ee"/><stop offset="0.1667" stop-color="#7002ef"/><stop offset="0.2222" stop-color="#7102f1"/><stop offset="0.2778" stop-color="#7302f4"/><stop offset="0.3333" stop-color="#7502f7"/><stop offset="0.3889" stop-color="#7803fb"/><stop offset="0.4444" stop-color="#7c03fe"/><stop offset="0.5" stop-color="#8004ff"/><stop offset="0.5556" stop-color="#8405fd"/><stop offset="0.6111" stop-color="#8906f8"/><stop offset="0.6667" stop-color="#8e08ee"/><stop offset="0.7222" stop-color="#9309de"/><stop offset="0.7778" stop-color="#980bc9"/><stop offset="0.8333" stop-color="#9e0eab"/><stop offset="0.8889" stop-color="#a31288"/><stop offset="0.9444" stop-color="#a9165f"/><stop offset="1" stop-color="#af1b2b"/></linearGradient><linearGradient id="gl26" x1="0" y1="0" x2="0" y2="1"><stop offset="0" stop-color="#6901e0"/><stop offset="0.05" stop-color="#6a01e2"/><stop offset="0.1" stop-color="#6b01e5"/><stop offset="0.15" stop-color="#6d02e8"/><stop offset="0.2" stop-color="#6e02eb"/><stop offset="0.25" stop-color="#7002ee"/><stop offset="0.3" stop-color="#7202f2"/><stop offset="0.35" stop-color="#7402f6"/><stop offset="0.4" stop-color="#7703fa"/><stop offset="0.45" stop-color="#7b03fd"/><stop offset="0.5" stop-color="#7f04ff"/><stop offset="0.55" stop-color="#8405fe"/><stop offset="0.6" stop-color="#8906f8"/><stop offset="0.65" stop-color="#8e08ec"/><stop offset="0.7" stop-color="#940adb"/><stop offset="0.75" stop-color="#990cc3"/><stop offset="0.8" stop-color="#9f0fa3"/><stop offset="0.85" stop-color="#a5137e"/><stop offset="0.9" stop-color="#ab1751"/><stop offset="0.95" stop-color="#b11d1a"/><stop offset="1" stop-color="#b72300"/></linearGradient><linearGradient id="gl27" x1="0" y1="0" x2="0" y2="1"><stop offset="0" stop-color="#6501d4"/><stop offset="0.04762" stop-color="#6601d6"/><stop offset="0.09524" stop-color="#6701da"/><stop offset="0.1429" stop-color="#6901de"/><stop offset="0.1905" stop-color="#6b01e3"/><stop offset="0.2381" stop-color="#6d02e9"/><stop offset="0.2857" stop-color="#7002ee"/><stop offset="0.3333" stop-color="#7302f4"/><stop offset="0.381" stop-color="#7603f9"/><stop offset="0.4286" stop-color="#7a03fd"/><stop offset="0.4762" stop-color="#7e04ff"/><stop offset="0.5238" stop-color="#8305fe"/><stop offset="0.5714" stop-color="#8906f8"/><stop offset="0.619" stop-color="#8f08ec"/><stop offset="0.6667" stop-color="#950ad8"/><stop offset="0.7143" stop-color="#9b0dbd"/><stop offset="0.7619" stop-color="#a0109c"/><stop offset="0.8095" stop-color="#a61375"/><stop offset="0.8571" stop-color="#ac1845"/><stop offset="0.9048" stop-color="#b31e0c"/><stop offset="0.9524" stop-color="#b92500"/><stop offset="1" stop-color="#bf2d00"/></linearGradient><linearGradient id="gl28" x1="0" y1="0" x2="0" y2="1"><stop offset="0" stop-color="#6201cc"/><stop offset="0.04348" stop-color="#6201cb"/><stop offset="0.08696" stop-color="#6201cb"/><stop offset="0.1304" stop-color="#6301ce"/><stop offset="0.1739" stop-color="#6501d4"/><stop offset="0.2174" stop-color="#6701db"/><stop offset="0.2609" stop-color="#6a01e2"/><stop offset="0.3043" stop-color="#6e02ea"/><stop offset="0.3478" stop-color="#7102f1"/><stop offset="0.3913" stop-color="#7502f8"/><stop offset="0.4348" stop-color="#7a03fc"/><stop offset="0.4783" stop-color="#7e04ff"/><stop offset="0.5217" stop-color="#8305fe"/><stop offset="0.5652" stop-color="#8906f8"/><stop offset="0.6087" stop-color="#8e08ec"/><stop offset="0.6522" stop-color="#940ad8"/><stop offset="0.6957" stop-color="#9a0dbd"/><stop offset="0.7391" stop-color="#a0109c"/><stop offset="0.7826" stop-color="#a61474"/><stop offset="0.8261" stop-color="#ac1843"/><stop offset="0.8696" stop-color="#b31f09"/><stop offset="0.913" stop-color="#b92600"/><stop offset="0.9565" stop-color="#bf2e00"/><stop offset="1" stop-color="#c63700"/></linearGradient><linearGradient id="gl29" x1="0" y1="0" x2="0" y2="1"><stop offset="0" stop-color="#5e01c1"/><stop offset="0.04167" stop-color="#5f01c3"/><stop offset="0.08333" stop-color="#5f01c5"/><stop offset="0.125" stop-color="#6001c7"/><stop offset="0.1667" stop-color="#6201cc"/><stop offset="0.2083" stop-color="#6401d3"/><stop offset="0.25" stop-color="#6701db"/><stop offset="0.2917" stop-color="#6b01e5"/><stop offset="0.3333" stop-color="#6f02ee"/><stop offset="0.375" stop-color="#7402f6"/><stop offset="0.4167" stop-color="#7903fc"/><stop offset="0.4583" stop-color="#7e04ff"/><stop offset="0.5" stop-color="#8305fe"/><stop offset="0.5417" stop-color="#8806f9"/><stop offset="0.5833" stop-color="#8e08ed"/><stop offset="0.625" stop-color="#940ada"/><stop offset="0.6667" stop-color="#9a0cc0"/><stop offset="0.7083" stop-color="#a00f9f"/><stop offset="0.75" stop-color="#a61378"/><stop offset="0.7917" stop-color="#ac1847"/><stop offset="0.8333" stop-color="#b31e0d"/><stop offset="0.875" stop-color="#b92500"/><stop offset="0.9167" stop-color="#bf2d00"/><stop offset="0.9583" stop-color="#c63700"/><stop offset="1" stop-color="#cc4300"/></linearGradient><linearGradient id="gl30" x1="0" y1="0" x2="0" y2="1"><stop offset="0" stop-color="#5900b1"/><stop offset="0.03846" stop-color="#5a00b4"/><stop offset="0.07692" stop-color="#5b01b7"/><stop offset="0.1154" stop-color="#5c01bb"/><stop offset="0.1538" stop-color="#5e01c0"/><stop offset="0.1923" stop-color="#6001c5"/><stop offset="0.2308" stop-color="#6201cc"/><stop offset="0.2692" stop-color="#6501d5"/><stop offset="0.3077" stop-color="#6901df"/><stop offset="0.3462" stop-color="#6d02e9"/><stop offset="0.3846" stop-color="#7202f3"/><stop offset="0.4231" stop-color="#7703fa"/><stop offset="0.4615" stop-color="#7d03fe"/><stop offset="0.5" stop-color="#8205fe"/><stop offset="0.5385" stop-color="#8806f9"/><stop offset="0.5769" stop-color="#8e07ee"/><stop offset="0.6154" stop-color="#940adc"/><stop offset="0.6538" stop-color="#9a0cc2"/><stop offset="0.6923" stop-color="#a00fa0"/><stop offset="0.7308" stop-color="#a61378"/><stop offset="0.7692" stop-color="#ac1847"/><stop offset="0.8077" stop-color="#b31e0c"/><stop offset="0.8462" stop-color="#b92600"/><stop offset="0.8846" stop-color="#bf2e00"/><stop offset="0.9231" stop-color="#c63800"/><stop offset="0.9615" stop-color="#cd4400"/><stop offset="1" stop-color="#d35200"/></linearGradient><linearGradient id="gl31" x1="0" y1="0" x2="0" y2="1"><stop offset="0" stop-color="#5500a5"/><stop offset="0.03704" stop-color="#5600a8"/><stop offset="0.07407" stop-color="#5700ac"/><stop offset="0.1111" stop-color="#5900b0"/><stop offset="0.1481" stop-color="#5b01b6"/><stop offset="0.1852" stop-color="#5d01bd"/><stop offset="0.2222" stop-color="#6001c5"/><stop offset="0.2593" stop-color="#6301cf"/><stop offset="0.2963" stop-color="#6701da"/><stop offset="0.3333" stop-color="#6b01e4"/><stop offset="0.3704" stop-color="#7002ef"/><stop offset="0.4074" stop-color="#7602f8"/><stop offset="0.4444" stop-color="#7b03fe"/><stop offset="0.4815" stop-color="#8104ff"/><stop offset="0.5185" stop-color="#8706fb"/><stop offset="0.5556" stop-color="#8d07f0"/><stop offset="0.5926" stop-color="#9309dd"/><stop offset="0.6296" stop-color="#990cc3"/><stop offset="0.6667" stop-color="#9f0fa2"/><stop offset="0.7037" stop-color="#a5137a"/><stop offset="0.7407" stop-color="#ac1848"/><stop offset="0.7778" stop-color="#b31e0c"/><stop offset="0.8148" stop-color="#b92600"/><stop offset="0.8519" stop-color="#c02e00"/><stop offset="0.8889" stop-color="#c63800"/><stop offset="0.9259" stop-color="#cd4500"/><stop offset="0.963" stop-color="#d45300"/><stop offset="1" stop-color="#da6400"/></linearGradient><linearGradient id="gl32" x1="0" y1="0" x2="0" y2="1"><stop offset="0" stop-color="#52009b"/><stop offset="0.03571" stop-color="#53009d"/><stop offset="0.07143" stop-color="#5400a0"/><stop offset="0.1071" stop-color="#5500a5"/><stop offset="0.1429" stop-color="#5700ab"/><stop offset="0.1786" stop-color="#5a00b3"/><stop offset="0.2143" stop-color="#5d01bd"/><stop offset="0.25" stop-color="#6001c7"/><stop offset="0.2857" stop-color="#6501d3"/><stop offset="0.3214" stop-color="#6901df"/><stop offset="0.3571" stop-color="#6e02eb"/><stop offset="0.3929" stop-color="#7302f5"/><stop offset="0.4286" stop-color="#7903fc"/><stop offset="0.4643" stop-color="#7f04ff"/><stop offset="0.5" stop-color="#8505fc"/><stop offset="0.5357" stop-color="#8c07f3"/><stop offset="0.5714" stop-color="#9209e2"/><stop offset="0.6071" stop-color="#980bca"/><stop offset="0.6429" stop-color="#9e0eaa"/><stop offset="0.6786" stop-color="#a41283"/><stop offset="0.7143" stop-color="#aa1754"/><stop offset="0.75" stop-color="#b21d18"/><stop offset="0.7857" stop-color="#b82400"/><stop offset="0.8214" stop-color="#bf2c00"/><stop offset="0.8571" stop-color="#c53600"/><stop offset="0.8929" stop-color="#cc4300"/><stop offset="0.9286" stop-color="#d35100"/><stop offset="0.9643" stop-color="#d96200"/><stop offset="1" stop-color="#e07600"/></linearGradient><linearGradient id="gl33" x1="0" y1="0" x2="0" y2="1"><stop offset="0" stop-color="#510097"/><stop offset="0.03333" stop-color="#510096"/><stop offset="0.06667" stop-color="#510096"/><stop offset="0.1" stop-color="#510097"/><stop offset="0.1333" stop-color="#52009b"/><stop offset="0.1667" stop-color="#5400a1"/><stop offset="0.2" stop-color="#5600a9"/><stop offset="0.2333" stop-color="#5a00b3"/><stop offset="0.2667" stop-color="#5d01be"/><stop offset="0.3" stop-color="#6201cb"/><stop offset="0.3333" stop-color="#6701d9"/><stop offset="0.3667" stop-color="#6c01e7"/><stop offset="0.4" stop-color="#7102f1"/><stop offset="0.4333" stop-color="#7703fa"/><stop offset="0.4667" stop-color="#7d04fe"/><stop offset="0.5" stop-color="#8305fe"/><stop offset="0.5333" stop-color="#8a06f7"/><stop offset="0.5667" stop-color="#9008e8"/><stop offset="0.6" stop-color="#960bd2"/><stop offset="0.6333" stop-color="#9c0eb4"/><stop offset="0.6667" stop-color="#a2118e"/><stop offset="0.7" stop-color="#a91561"/><stop offset="0.7333" stop-color="#b01b27"/><stop offset="0.7667" stop-color="#b72300"/><stop offset="0.8" stop-color="#bd2a00"/><stop offset="0.8333" stop-color="#c43400"/><stop offset="0.8667" stop-color="#cb4000"/><stop offset="0.9" stop-color="#d24f00"/><stop offset="0.9333" stop-color="#d85f00"/><stop offset="0.9667" stop-color="#df7300"/><stop offset="1" stop-color="#e68900"/></linearGradient><linearGradient id="gl34" x1="0" y1="0" x2="0" y2="1"><stop offset="0" stop-color="#4f0092"/><stop offset="0.03333" stop-color="#500092"/><stop offset="0.06667" stop-color="#500092"/><stop offset="0.1" stop-color="#500094"/><stop offset="0.1333" stop-color="#510098"/><stop offset="0.1667" stop-color="#53009f"/><stop offset="0.2" stop-color="#5600a8"/><stop offset="0.2333" stop-color="#5a00b4"/><stop offset="0.2667" stop-color="#5e01c2"/><stop offset="0.3" stop-color="#6401d0"/><stop offset="0.3333" stop-color="#6901e0"/><stop offset="0.3667" stop-color="#6f02ed"/><stop offset="0.4" stop-color="#7502f6"/><stop offset="0.4333" stop-color="#7a03fd"/><stop offset="0.4667" stop-color="#8004ff"/><stop offset="0.5" stop-color="#8605fb"/><stop offset="0.5333" stop-color="#8d07f0"/><stop offset="0.5667" stop-color="#940adb"/><stop offset="0.6" stop-color="#9a0cbf"/><stop offset="0.6333" stop-color="#a0109b"/><stop offset="0.6667" stop-color="#a71471"/><stop offset="0.7" stop-color="#ae193a"/><stop offset="0.7333" stop-color="#b52000"/><stop offset="0.7667" stop-color="#bb2800"/><stop offset="0.8" stop-color="#c23100"/><stop offset="0.8333" stop-color="#c93d00"/><stop offset="0.8667" stop-color="#d04b00"/><stop offset="0.9" stop-color="#d75b00"/><stop offset="0.9333" stop-color="#de6e00"/><stop offset="0.9667" stop-color="#e58400"/><stop offset="1" stop-color="#eb9d00"/></linearGradient><linearGradient id="gl35" x1="0" y1="0" x2="0" y2="1"><stop offset="0" stop-color="#4c0088"/><stop offset="0.03226" stop-color="#4d008b"/><stop offset="0.06452" stop-color="#4e008d"/><stop offset="0.09677" stop-color="#4e008e"/><stop offset="0.129" stop-color="#4f0092"/><stop offset="0.1613" stop-color="#510097"/><stop offset="0.1935" stop-color="#54009f"/><stop offset="0.2258" stop-color="#5700ab"/><stop offset="0.2581" stop-color="#5b01b8"/><stop offset="0.2903" stop-color="#6001c7"/><stop offset="0.3226" stop-color="#6601d6"/><stop offset="0.3548" stop-color="#6b01e5"/><stop offset="0.3871" stop-color="#7102f1"/><stop offset="0.4194" stop-color="#7603f9"/><stop offset="0.4516" stop-color="#7c03fe"/><stop offset="0.4839" stop-color="#8205fe"/><stop offset="0.5161" stop-color="#8906f8"/><stop offset="0.5484" stop-color="#9008e8"/><stop offset="0.5806" stop-color="#960bd0"/><stop offset="0.6129" stop-color="#9d0eb0"/><stop offset="0.6452" stop-color="#a3118a"/><stop offset="0.6774" stop-color="#aa165b"/><stop offset="0.7097" stop-color="#b11c1e"/><stop offset="0.7419" stop-color="#b82400"/><stop offset="0.7742" stop-color="#be2c00"/><stop offset="0.8065" stop-color="#c53600"/><stop offset="0.8387" stop-color="#cc4300"/><stop offset="0.871" stop-color="#d35200"/><stop offset="0.9032" stop-color="#da6400"/><stop offset="0.9355" stop-color="#e17900"/><stop offset="0.9677" stop-color="#e89100"/><stop offset="1" stop-color="#efab00"/></linearGradient><linearGradient id="gl36" x1="0" y1="0" x2="0" y2="1"><stop offset="0" stop-color="#49007f"/><stop offset="0.03125" stop-color="#4b0082"/><stop offset="0.0625" stop-color="#4b0085"/><stop offset="0.09375" stop-color="#4c0088"/><stop offset="0.125" stop-color="#4d008c"/><stop offset="0.1563" stop-color="#4f0090"/><stop offset="0.1875" stop-color="#510097"/><stop offset="0.2188" stop-color="#5400a1"/><stop offset="0.25" stop-color="#5800ae"/><stop offset="0.2812" stop-color="#5d01bc"/><stop offset="0.3125" stop-color="#6201cc"/><stop offset="0.3437" stop-color="#6801dc"/><stop offset="0.375" stop-color="#6e02ea"/><stop offset="0.4062" stop-color="#7302f4"/><stop offset="0.4375" stop-color="#7803fb"/><stop offset="0.4687" stop-color="#7e04ff"/><stop offset="0.5" stop-color="#8505fd"/><stop offset="0.5313" stop-color="#8b07f3"/><stop offset="0.5625" stop-color="#9209e1"/><stop offset="0.5938" stop-color="#990cc6"/><stop offset="0.625" stop-color="#9f0fa4"/><stop offset="0.6563" stop-color="#a5137b"/><stop offset="0.6875" stop-color="#ac1847"/><stop offset="0.7188" stop-color="#b31f08"/><stop offset="0.75" stop-color="#ba2700"/><stop offset="0.7812" stop-color="#c13000"/><stop offset="0.8125" stop-color="#c83b00"/><stop offset="0.8437" stop-color="#cf4900"/><stop offset="0.875" stop-color="#d65900"/><stop offset="0.9062" stop-color="#dd6c00"/><stop offset="0.9375" stop-color="#e48200"/><stop offset="0.9688" stop-color="#eb9b00"/><stop offset="1" stop-color="#f1b700"/></linearGradient><linearGradient id="gl37" x1="0" y1="0" x2="0" y2="1"><stop offset="0" stop-color="#48007a"/><stop offset="0.03125" stop-color="#49007e"/><stop offset="0.0625" stop-color="#4a0082"/><stop offset="0.09375" stop-color="#4b0085"/><stop offset="0.125" stop-color="#4d008a"/><stop offset="0.1563" stop-color="#4f0090"/><stop offset="0.1875" stop-color="#510098"/><stop offset="0.2188" stop-color="#5500a3"/><stop offset="0.25" stop-color="#5900b0"/><stop offset="0.2812" stop-color="#5e01bf"/><stop offset="0.3125" stop-color="#6301cf"/><stop offset="0.3437" stop-color="#6901df"/><stop offset="0.375" stop-color="#6f02ec"/><stop offset="0.4062" stop-color="#7402f6"/><stop offset="0.4375" stop-color="#7a03fd"/><stop offset="0.4687" stop-color="#8004ff"/><stop offset="0.5" stop-color="#8706fb"/><stop offset="0.5313" stop-color="#8d07ef"/><stop offset="0.5625" stop-color="#940ada"/><stop offset="0.5938" stop-color="#9a0dbd"/><stop offset="0.625" stop-color="#a11099"/><stop offset="0.6563" stop-color="#a7146e"/><stop offset="0.6875" stop-color="#ae1a35"/><stop offset="0.7188" stop-color="#b52100"/><stop offset="0.75" stop-color="#bc2900"/><stop offset="0.7812" stop-color="#c33300"/><stop offset="0.8125" stop-color="#ca3f00"/><stop offset="0.8437" stop-color="#d14e00"/><stop offset="0.875" stop-color="#d85e00"/><stop offset="0.9062" stop-color="#df7300"/><stop offset="0.9375" stop-color="#e68a00"/><stop offset="0.9688" stop-color="#eda400"/><stop offset="1" stop-color="#f3c100"/></linearGradient><linearGradient id="gl38" x1="0" y1="0" x2="0" y2="1"><stop offset="0" stop-color="#450072"/><stop offset="0.0303" stop-color="#470078"/><stop offset="0.06061" stop-color="#48007c"/><stop offset="0.09091" stop-color="#4a007f"/><stop offset="0.1212" stop-color="#4b0083"/><stop offset="0.1515" stop-color="#4c0088"/><stop offset="0.1818" stop-color="#4e008e"/><stop offset="0.2121" stop-color="#510097"/><stop offset="0.2424" stop-color="#5500a4"/><stop offset="0.2727" stop-color="#5900b2"/><stop offset="0.303" stop-color="#5e01c2"/><stop offset="0.3333" stop-color="#6401d2"/><stop offset="0.3636" stop-color="#6a01e1"/><stop offset="0.3939" stop-color="#6f02ee"/><stop offset="0.4242" stop-color="#7502f7"/><stop offset="0.4545" stop-color="#7b03fd"/><stop offset="0.4848" stop-color="#8104ff"/><stop offset="0.5152" stop-color="#8806f9"/><stop offset="0.5455" stop-color="#8f08eb"/><stop offset="0.5758" stop-color="#950ad5"/><stop offset="0.6061" stop-color="#9c0db7"/><stop offset="0.6364" stop-color="#a21191"/><stop offset="0.6667" stop-color="#a81563"/><stop offset="0.697" stop-color="#b01b27"/><stop offset="0.7273" stop-color="#b72300"/><stop offset="0.7576" stop-color="#be2b00"/><stop offset="0.7879" stop-color="#c43500"/><stop offset="0.8182" stop-color="#cc4200"/><stop offset="0.8485" stop-color="#d35100"/><stop offset="0.8788" stop-color="#da6300"/><stop offset="0.9091" stop-color="#e17800"/><stop offset="0.9394" stop-color="#e89000"/><stop offset="0.9697" stop-color="#efab00"/><stop offset="1" stop-color="#f5c900"/></linearGradient><linearGradient id="gr0" x1="0" y1="0" x2="0" y2="1"><stop offset="0" stop-color="#100006"/><stop offset="0.02326" stop-color="#270026"/><stop offset="0.04651" stop-color="#33003e"/><stop offset="0.06977" stop-color="#3a0051"/><stop offset="0.09302" stop-color="#3f0061"/><stop offset="0.1163" stop-color="#44006f"/><stop offset="0.1395" stop-color="#49007d"/><stop offset="0.1628" stop-color="#4e008d"/><stop offset="0.186" stop-color="#53009e"/><stop offset="0.2093" stop-color="#5800ae"/><stop offset="0.2326" stop-color="#5d01be"/><stop offset="0.2558" stop-color="#6201cc"/><stop offset="0.2791" stop-color="#6701d9"/><stop offset="0.3023" stop-color="#6b01e5"/><stop offset="0.3256" stop-color="#7002ee"/><stop offset="0.3488" stop-color="#7402f6"/><stop offset="0.3721" stop-color="#7803fb"/><stop offset="0.3953" stop-color="#7c03fe"/><stop offset="0.4186" stop-color="#8004ff"/><stop offset="0.4419" stop-color="#8405fd"/><stop offset="0.4651" stop-color="#8906f8"/><stop offset="0.4884" stop-color="#8d07f0"/><stop offset="0.5116" stop-color="#9108e6"/><stop offset="0.5349" stop-color="#950ad8"/><stop offset="0.5581" stop-color="#980cc7"/><stop offset="0.5814" stop-color="#9c0db4"/><stop offset="0.6047" stop-color="#a0109e"/><stop offset="0.6279" stop-color="#a41287"/><stop offset="0.6512" stop-color="#a7146e"/><stop offset="0.6744" stop-color="#ab1753"/><stop offset="0.6977" stop-color="#ae1a36"/><stop offset="0.7209" stop-color="#b21d19"/><stop offset="0.7442" stop-color="#b52100"/><stop offset="0.7674" stop-color="#b82400"/><stop offset="0.7907" stop-color="#bc2800"/><stop offset="0.814" stop-color="#be2c00"/><stop offset="0.8372" stop-color="#c12f00"/><stop offset="0.8605" stop-color="#c23200"/><stop offset="0.8837" stop-color="#c33400"/><stop offset="0.907" stop-color="#c53600"/><stop offset="0.9302" stop-color="#c73a00"/><stop offset="0.9535" stop-color="#cc4200"/><stop offset="0.9767" stop-color="#d25000"/><stop offset="1" stop-color="#d65900"/></linearGradient><linearGradient id="gr1" x1="0" y1="0" x2="0" y2="1"><stop offset="0" stop-color="#100006"/><stop offset="0.02273" stop-color="#270025"/><stop offset="0.04545" stop-color="#32003e"/><stop offset="0.06818" stop-color="#3a0051"/><stop offset="0.09091" stop-color="#3f0060"/><stop offset="0.1136" stop-color="#44006e"/><stop offset="0.1364" stop-color="#49007d"/><stop offset="0.1591" stop-color="#4e008c"/><stop offset="0.1818" stop-color="#53009c"/><stop offset="0.2045" stop-color="#5800ad"/><stop offset="0.2273" stop-color="#5d01bc"/><stop offset="0.25" stop-color="#6201cb"/><stop offset="0.2727" stop-color="#6601d8"/><stop offset="0.2955" stop-color="#6b01e3"/><stop offset="0.3182" stop-color="#6f02ed"/><stop offset="0.3409" stop-color="#7302f5"/><stop offset="0.3636" stop-color="#7703fa"/><stop offset="0.3864" stop-color="#7c03fe"/><stop offset="0.4091" stop-color="#8004ff"/><stop offset="0.4318" stop-color="#8405fe"/><stop offset="0.4545" stop-color="#8806f9"/><stop offset="0.4773" stop-color="#8c07f2"/><stop offset="0.5" stop-color="#9008e8"/><stop offset="0.5227" stop-color="#940adb"/><stop offset="0.5455" stop-color="#980bcb"/><stop offset="0.5682" stop-color="#9b0db8"/><stop offset="0.5909" stop-color="#9f0fa3"/><stop offset="0.6136" stop-color="#a3118c"/><stop offset="0.6364" stop-color="#a61473"/><stop offset="0.6591" stop-color="#aa1659"/><stop offset="0.6818" stop-color="#ad193d"/><stop offset="0.7045" stop-color="#b11c20"/><stop offset="0.7273" stop-color="#b42002"/><stop offset="0.75" stop-color="#b82300"/><stop offset="0.7727" stop-color="#bb2700"/><stop offset="0.7955" stop-color="#be2b00"/><stop offset="0.8182" stop-color="#c02f00"/><stop offset="0.8409" stop-color="#c23200"/><stop offset="0.8636" stop-color="#c43500"/><stop offset="0.8864" stop-color="#c63800"/><stop offset="0.9091" stop-color="#c83c00"/><stop offset="0.9318" stop-color="#cc4200"/><stop offset="0.9545" stop-color="#cf4a00"/><stop offset="0.9773" stop-color="#d35100"/><stop offset="1" stop-color="#d55800"/></linearGradient><linearGradient id="gr2" x1="0" y1="0" x2="0" y2="1"><stop offset="0" stop-color="#0f0005"/><stop offset="0.02273" stop-color="#260024"/><stop offset="0.04545" stop-color="#32003c"/><stop offset="0.06818" stop-color="#390050"/><stop offset="0.09091" stop-color="#3f0060"/><stop offset="0.1136" stop-color="#44006e"/><stop offset="0.1364" stop-color="#48007c"/><stop offset="0.1591" stop-color="#4d008b"/><stop offset="0.1818" stop-color="#52009c"/><stop offset="0.2045" stop-color="#5800ac"/><stop offset="0.2273" stop-color="#5d01bc"/><stop offset="0.25" stop-color="#6201cb"/><stop offset="0.2727" stop-color="#6601d8"/><stop offset="0.2955" stop-color="#6b01e3"/><stop offset="0.3182" stop-color="#6f02ed"/><stop offset="0.3409" stop-color="#7302f4"/><stop offset="0.3636" stop-color="#7703fa"/><stop offset="0.3864" stop-color="#7b03fe"/><stop offset="0.4091" stop-color="#8004ff"/><stop offset="0.4318" stop-color="#8405fe"/><stop offset="0.4545" stop-color="#8806f9"/><stop offset="0.4773" stop-color="#8c07f2"/><stop offset="0.5" stop-color="#9008e8"/><stop offset="0.5227" stop-color="#940adb"/><stop offset="0.5455" stop-color="#980bcb"/><stop offset="0.5682" stop-color="#9b0db9"/><stop offset="0.5909" stop-color="#9f0fa4"/><stop offset="0.6136" stop-color="#a3118d"/><stop offset="0.6364" stop-color="#a61474"/><stop offset="0.6591" stop-color="#aa1659"/><stop offset="0.6818" stop-color="#ad193d"/><stop offset="0.7045" stop-color="#b11c20"/><stop offset="0.7273" stop-color="#b42002"/><stop offset="0.75" stop-color="#b82400"/><stop offset="0.7727" stop-color="#bb2800"/><stop offset="0.7955" stop-color="#be2c00"/><stop offset="0.8182" stop-color="#c13000"/><stop offset="0.8409" stop-color="#c33300"/><stop offset="0.8636" stop-color="#c53700"/><stop offset="0.8864" stop-color="#c83b00"/><stop offset="0.9091" stop-color="#ca3f00"/><stop offset="0.9318" stop-color="#cd4400"/><stop offset="0.9545" stop-color="#cf4900"/><stop offset="0.9773" stop-color="#d24f00"/><stop offset="1" stop-color="#d45400"/></linearGradient><linearGradient id="gr3" x1="0" y1="0" x2="0" y2="1"><stop offset="0" stop-color="#0c0004"/><stop offset="0.02273" stop-color="#250022"/><stop offset="0.04545" stop-color="#31003b"/><stop offset="0.06818" stop-color="#39004e"/><stop offset="0.09091" stop-color="#3f005f"/><stop offset="0.1136" stop-color="#44006d"/><stop offset="0.1364" stop-color="#48007b"/><stop offset="0.1591" stop-color="#4d008b"/><stop offset="0.1818" stop-color="#52009b"/><stop offset="0.2045" stop-color="#5700ac"/><stop offset="0.2273" stop-color="#5c01bb"/><stop offset="0.25" stop-color="#6101ca"/><stop offset="0.2727" stop-color="#6601d7"/><stop offset="0.2955" stop-color="#6a01e3"/><stop offset="0.3182" stop-color="#6f02ec"/><stop offset="0.3409" stop-color="#7302f4"/><stop offset="0.3636" stop-color="#7703fa"/><stop offset="0.3864" stop-color="#7b03fe"/><stop offset="0.4091" stop-color="#7f04ff"/><stop offset="0.4318" stop-color="#8305fe"/><stop offset="0.4545" stop-color="#8806fa"/><stop offset="0.4773" stop-color="#8c07f3"/><stop offset="0.5" stop-color="#9008e9"/><stop offset="0.5227" stop-color="#940adc"/><stop offset="0.5455" stop-color="#970bcc"/><stop offset="0.5682" stop-color="#9b0db9"/><stop offset="0.5909" stop-color="#9f0fa5"/><stop offset="0.6136" stop-color="#a3118e"/><stop offset="0.6364" stop-color="#a61474"/><stop offset="0.6591" stop-color="#aa165a"/><stop offset="0.6818" stop-color="#ad193d"/><stop offset="0.7045" stop-color="#b11c20"/><stop offset="0.7273" stop-color="#b42001"/><stop offset="0.75" stop-color="#b82400"/><stop offset="0.7727" stop-color="#bb2800"/><stop offset="0.7955" stop-color="#be2c00"/><stop offset="0.8182" stop-color="#c13000"/><stop offset="0.8409" stop-color="#c43400"/><stop offset="0.8636" stop-color="#c63800"/><stop offset="0.8864" stop-color="#c93d00"/><stop offset="0.9091" stop-color="#cb4100"/><stop offset="0.9318" stop-color="#cd4500"/><stop offset="0.9545" stop-color="#cf4900"/><stop offset="0.9773" stop-color="#d14d00"/><stop offset="1" stop-color="#d25100"/></linearGradient><linearGradient id="gr4" x1="0" y1="0" x2="0" y2="1"><stop offset="0" stop-color="#090002"/><stop offset="0.02273" stop-color="#250021"/><stop offset="0.04545" stop-color="#31003a"/><stop offset="0.06818" stop-color="#39004e"/><stop offset="0.09091" stop-color="#3f005e"/><stop offset="0.1136" stop-color="#44006d"/><stop offset="0.1364" stop-color="#48007c"/><stop offset="0.1591" stop-color="#4d008c"/><stop offset="0.1818" stop-color="#53009c"/><stop offset="0.2045" stop-color="#5800ad"/><stop offset="0.2273" stop-color="#5d01bd"/><stop offset="0.25" stop-color="#6201cb"/><stop offset="0.2727" stop-color="#6601d9"/><stop offset="0.2955" stop-color="#6b01e4"/><stop offset="0.3182" stop-color="#6f02ee"/><stop offset="0.3409" stop-color="#7402f5"/><stop offset="0.3636" stop-color="#7803fb"/><stop offset="0.3864" stop-color="#7c03fe"/><stop offset="0.4091" stop-color="#8004ff"/><stop offset="0.4318" stop-color="#8405fd"/><stop offset="0.4545" stop-color="#8906f8"/><stop offset="0.4773" stop-color="#8d07f0"/><stop offset="0.5" stop-color="#9109e5"/><stop offset="0.5227" stop-color="#950ad7"/><stop offset="0.5455" stop-color="#990cc6"/><stop offset="0.5682" stop-color="#9c0eb3"/><stop offset="0.5909" stop-color="#a0109d"/><stop offset="0.6136" stop-color="#a41285"/><stop offset="0.6364" stop-color="#a8156a"/><stop offset="0.6591" stop-color="#ab174e"/><stop offset="0.6818" stop-color="#af1a30"/><stop offset="0.7045" stop-color="#b21e11"/><stop offset="0.7273" stop-color="#b62200"/><stop offset="0.75" stop-color="#ba2600"/><stop offset="0.7727" stop-color="#bd2b00"/><stop offset="0.7955" stop-color="#c02f00"/><stop offset="0.8182" stop-color="#c33400"/><stop offset="0.8409" stop-color="#c63800"/><stop offset="0.8636" stop-color="#c83c00"/><stop offset="0.8864" stop-color="#cb4100"/><stop offset="0.9091" stop-color="#cd4500"/><stop offset="0.9318" stop-color="#cf4900"/><stop offset="0.9545" stop-color="#d04c00"/><stop offset="0.9773" stop-color="#d14e00"/><stop offset="1" stop-color="#d24f00"/></linearGradient><linearGradient id="gr5" x1="0" y1="0" x2="0" y2="1"><stop offset="0" stop-color="#040000"/><stop offset="0.02222" stop-color="#24001f"/><stop offset="0.04444" stop-color="#300038"/><stop offset="0.06667" stop-color="#38004c"/><stop offset="0.08889" stop-color="#3e005c"/><stop offset="0.1111" stop-color="#43006b"/><stop offset="0.1333" stop-color="#48007a"/><stop offset="0.1556" stop-color="#4d008a"/><stop offset="0.1778" stop-color="#52009a"/><stop offset="0.2" stop-color="#5700ab"/><stop offset="0.2222" stop-color="#5c01ba"/><stop offset="0.2444" stop-color="#6101c9"/><stop offset="0.2667" stop-color="#6601d7"/><stop offset="0.2889" stop-color="#6a01e2"/><stop offset="0.3111" stop-color="#6f02ec"/><stop offset="0.3333" stop-color="#7302f4"/><stop offset="0.3556" stop-color="#7703fa"/><stop offset="0.3778" stop-color="#7b03fe"/><stop offset="0.4" stop-color="#7f04ff"/><stop offset="0.4222" stop-color="#8405fe"/><stop offset="0.4444" stop-color="#8806f9"/><stop offset="0.4667" stop-color="#8c07f2"/><stop offset="0.4889" stop-color="#9008e8"/><stop offset="0.5111" stop-color="#940adb"/><stop offset="0.5333" stop-color="#980bcb"/><stop offset="0.5556" stop-color="#9b0db8"/><stop offset="0.5778" stop-color="#9f0fa3"/><stop offset="0.6" stop-color="#a3118b"/><stop offset="0.6222" stop-color="#a71471"/><stop offset="0.6444" stop-color="#aa1755"/><stop offset="0.6667" stop-color="#ae1a37"/><stop offset="0.6889" stop-color="#b21d18"/><stop offset="0.7111" stop-color="#b52100"/><stop offset="0.7333" stop-color="#b92500"/><stop offset="0.7556" stop-color="#bd2a00"/><stop offset="0.7778" stop-color="#c02e00"/><stop offset="0.8" stop-color="#c33300"/><stop offset="0.8222" stop-color="#c63800"/><stop offset="0.8444" stop-color="#c83c00"/><stop offset="0.8667" stop-color="#cb4100"/><stop offset="0.8889" stop-color="#cd4500"/><stop offset="0.9111" stop-color="#cf4900"/><stop offset="0.9333" stop-color="#d04c00"/><stop offset="0.9556" stop-color="#d14e00"/><stop offset="0.9778" stop-color="#d24f00"/><stop offset="1" stop-color="#d25000"/></linearGradient><linearGradient id="gr6" x1="0" y1="0" x2="0" y2="1"><stop offset="0" stop-color="#000000"/><stop offset="0.02174" stop-color="#22001d"/><stop offset="0.04348" stop-color="#2f0035"/><stop offset="0.06522" stop-color="#370049"/><stop offset="0.08696" stop-color="#3d005a"/><stop offset="0.1087" stop-color="#420069"/><stop offset="0.1304" stop-color="#470078"/><stop offset="0.1522" stop-color="#4c0088"/><stop offset="0.1739" stop-color="#510098"/><stop offset="0.1957" stop-color="#5600a8"/><stop offset="0.2174" stop-color="#5b01b8"/><stop offset="0.2391" stop-color="#6001c7"/><stop offset="0.2609" stop-color="#6501d4"/><stop offset="0.2826" stop-color="#6901e0"/><stop offset="0.3043" stop-color="#6e02ea"/><stop offset="0.3261" stop-color="#7202f3"/><stop offset="0.3478" stop-color="#7603f9"/><stop offset="0.3696" stop-color="#7a03fd"/><stop offset="0.3913" stop-color="#7f04ff"/><stop offset="0.413" stop-color="#8305fe"/><stop offset="0.4348" stop-color="#8706fb"/><stop offset="0.4565" stop-color="#8b07f4"/><stop offset="0.4783" stop-color="#8f08eb"/><stop offset="0.5" stop-color="#9309de"/><stop offset="0.5217" stop-color="#970bcf"/><stop offset="0.5435" stop-color="#9a0dbd"/><stop offset="0.5652" stop-color="#9e0fa9"/><stop offset="0.587" stop-color="#a21192"/><stop offset="0.6087" stop-color="#a61378"/><stop offset="0.6304" stop-color="#a9165c"/><stop offset="0.6522" stop-color="#ad193f"/><stop offset="0.6739" stop-color="#b11c20"/><stop offset="0.6957" stop-color="#b42000"/><stop offset="0.7174" stop-color="#b82400"/><stop offset="0.7391" stop-color="#bc2900"/><stop offset="0.7609" stop-color="#bf2d00"/><stop offset="0.7826" stop-color="#c33200"/><stop offset="0.8043" stop-color="#c63700"/><stop offset="0.8261" stop-color="#c83c00"/><stop offset="0.8478" stop-color="#cb4100"/><stop offset="0.8696" stop-color="#cd4600"/><stop offset="0.8913" stop-color="#cf4a00"/><stop offset="0.913" stop-color="#d14e00"/><stop offset="0.9348" stop-color="#d35100"/><stop offset="0.9565" stop-color="#d35200"/><stop offset="0.9783" stop-color="#d35200"/><stop offset="1" stop-color="#d25100"/></linearGradient><linearGradient id="gr7" x1="0" y1="0" x2="0" y2="1"><stop offset="0" stop-color="#000000"/><stop offset="0.02174" stop-color="#21001b"/><stop offset="0.04348" stop-color="#2e0034"/><stop offset="0.06522" stop-color="#360048"/><stop offset="0.08696" stop-color="#3d0059"/><stop offset="0.1087" stop-color="#420069"/><stop offset="0.1304" stop-color="#470078"/><stop offset="0.1522" stop-color="#4c0088"/><stop offset="0.1739" stop-color="#510098"/><stop offset="0.1957" stop-color="#5700a9"/><stop offset="0.2174" stop-color="#5c01b9"/><stop offset="0.2391" stop-color="#6101c8"/><stop offset="0.2609" stop-color="#6501d6"/><stop offset="0.2826" stop-color="#6a01e1"/><stop offset="0.3043" stop-color="#6e02eb"/><stop offset="0.3261" stop-color="#7302f4"/><stop offset="0.3478" stop-color="#7703fa"/><stop offset="0.3696" stop-color="#7b03fe"/><stop offset="0.3913" stop-color="#7f04ff"/><stop offset="0.413" stop-color="#8405fe"/><stop offset="0.4348" stop-color="#8806fa"/><stop offset="0.4565" stop-color="#8c07f2"/><stop offset="0.4783" stop-color="#9008e8"/><stop offset="0.5" stop-color="#940adb"/><stop offset="0.5217" stop-color="#980bcb"/><stop offset="0.5435" stop-color="#9c0db8"/><stop offset="0.5652" stop-color="#9f0fa2"/><stop offset="0.587" stop-color="#a31289"/><stop offset="0.6087" stop-color="#a7146e"/><stop offset="0.6304" stop-color="#ab1751"/><stop offset="0.6522" stop-color="#af1a32"/><stop offset="0.6739" stop-color="#b21e11"/><stop offset="0.6957" stop-color="#b62200"/><stop offset="0.7174" stop-color="#ba2600"/><stop offset="0.7391" stop-color="#be2b00"/><stop offset="0.7609" stop-color="#c13000"/><stop offset="0.7826" stop-color="#c43500"/><stop offset="0.8043" stop-color="#c83a00"/><stop offset="0.8261" stop-color="#ca4000"/><stop offset="0.8478" stop-color="#cd4500"/><stop offset="0.8696" stop-color="#d04a00"/><stop offset="0.8913" stop-color="#d24f00"/><stop offset="0.913" stop-color="#d45300"/><stop offset="0.9348" stop-color="#d55600"/><stop offset="0.9565" stop-color="#d55700"/><stop offset="0.9783" stop-color="#d55600"/><stop offset="1" stop-color="#d45400"/></linearGradient><linearGradient id="gr8" x1="0" y1="0" x2="0" y2="1"><stop offset="0" stop-color="#000000"/><stop offset="0.02128" stop-color="#200019"/><stop offset="0.04255" stop-color="#2d0031"/><stop offset="0.06383" stop-color="#350046"/><stop offset="0.08511" stop-color="#3c0057"/><stop offset="0.1064" stop-color="#410067"/><stop offset="0.1277" stop-color="#470076"/><stop offset="0.1489" stop-color="#4c0086"/><stop offset="0.1702" stop-color="#510096"/><stop offset="0.1915" stop-color="#5600a7"/><stop offset="0.2128" stop-color="#5b01b7"/><stop offset="0.234" stop-color="#6001c6"/><stop offset="0.2553" stop-color="#6501d3"/><stop offset="0.2766" stop-color="#6901df"/><stop offset="0.2979" stop-color="#6e02ea"/><stop offset="0.3191" stop-color="#7202f2"/><stop offset="0.3404" stop-color="#7603f9"/><stop offset="0.3617" stop-color="#7a03fd"/><stop offset="0.383" stop-color="#7e04ff"/><stop offset="0.4043" stop-color="#8305fe"/><stop offset="0.4255" stop-color="#8706fb"/><stop offset="0.4468" stop-color="#8b07f4"/><stop offset="0.4681" stop-color="#8f08eb"/><stop offset="0.4894" stop-color="#9309de"/><stop offset="0.5106" stop-color="#970bcf"/><stop offset="0.5319" stop-color="#9b0dbd"/><stop offset="0.5532" stop-color="#9e0fa8"/><stop offset="0.5745" stop-color="#a21190"/><stop offset="0.5957" stop-color="#a61376"/><stop offset="0.617" stop-color="#aa1659"/><stop offset="0.6383" stop-color="#ae193a"/><stop offset="0.6596" stop-color="#b11d19"/><stop offset="0.6809" stop-color="#b52100"/><stop offset="0.7021" stop-color="#b92500"/><stop offset="0.7234" stop-color="#bd2a00"/><stop offset="0.7447" stop-color="#c02f00"/><stop offset="0.766" stop-color="#c43400"/><stop offset="0.7872" stop-color="#c73a00"/><stop offset="0.8085" stop-color="#ca3f00"/><stop offset="0.8298" stop-color="#cd4500"/><stop offset="0.8511" stop-color="#d04a00"/><stop offset="0.8723" stop-color="#d25000"/><stop offset="0.8936" stop-color="#d55600"/><stop offset="0.9149" stop-color="#d75b00"/><stop offset="0.9362" stop-color="#d85e00"/><stop offset="0.9574" stop-color="#d96000"/><stop offset="0.9787" stop-color="#d96000"/><stop offset="1" stop-color="#d85f00"/></linearGradient><linearGradient id="gr9" x1="0" y1="0" x2="0" y2="1"><stop offset="0" stop-color="#000000"/><stop offset="0.02083" stop-color="#1e0016"/><stop offset="0.04167" stop-color="#2c002f"/><stop offset="0.0625" stop-color="#340043"/><stop offset="0.08333" stop-color="#3b0055"/><stop offset="0.1042" stop-color="#410064"/><stop offset="0.125" stop-color="#460074"/><stop offset="0.1458" stop-color="#4b0083"/><stop offset="0.1667" stop-color="#500094"/><stop offset="0.1875" stop-color="#5500a4"/><stop offset="0.2083" stop-color="#5a00b4"/><stop offset="0.2292" stop-color="#5f01c3"/><stop offset="0.25" stop-color="#6401d1"/><stop offset="0.2708" stop-color="#6801dd"/><stop offset="0.2917" stop-color="#6d02e8"/><stop offset="0.3125" stop-color="#7102f1"/><stop offset="0.3333" stop-color="#7502f8"/><stop offset="0.3542" stop-color="#7903fc"/><stop offset="0.375" stop-color="#7e04ff"/><stop offset="0.3958" stop-color="#8204ff"/><stop offset="0.4167" stop-color="#8605fc"/><stop offset="0.4375" stop-color="#8a06f6"/><stop offset="0.4583" stop-color="#8e08ed"/><stop offset="0.4792" stop-color="#9209e2"/><stop offset="0.5" stop-color="#960ad3"/><stop offset="0.5208" stop-color="#9a0cc2"/><stop offset="0.5417" stop-color="#9d0eae"/><stop offset="0.5625" stop-color="#a11097"/><stop offset="0.5833" stop-color="#a5137d"/><stop offset="0.6042" stop-color="#a91561"/><stop offset="0.625" stop-color="#ad1942"/><stop offset="0.6458" stop-color="#b11c21"/><stop offset="0.6667" stop-color="#b42000"/><stop offset="0.6875" stop-color="#b82400"/><stop offset="0.7083" stop-color="#bc2900"/><stop offset="0.7292" stop-color="#bf2e00"/><stop offset="0.75" stop-color="#c33300"/><stop offset="0.7708" stop-color="#c63900"/><stop offset="0.7917" stop-color="#ca3e00"/><stop offset="0.8125" stop-color="#cd4400"/><stop offset="0.8333" stop-color="#d04a00"/><stop offset="0.8542" stop-color="#d25100"/><stop offset="0.875" stop-color="#d55700"/><stop offset="0.8958" stop-color="#d85e00"/><stop offset="0.9167" stop-color="#da6500"/><stop offset="0.9375" stop-color="#dc6a00"/><stop offset="0.9583" stop-color="#dd6d00"/><stop offset="0.9792" stop-color="#dd6c00"/><stop offset="1" stop-color="#dd6b00"/></linearGradient><linearGradient id="gr10" x1="0" y1="0" x2="0" y2="1"><stop offset="0" stop-color="#000000"/><stop offset="0.02041" stop-color="#1d0015"/><stop offset="0.04082" stop-color="#2b002d"/><stop offset="0.06122" stop-color="#340041"/><stop offset="0.08163" stop-color="#3b0053"/><stop offset="0.102" stop-color="#400063"/><stop offset="0.1224" stop-color="#460073"/><stop offset="0.1429" stop-color="#4b0083"/><stop offset="0.1633" stop-color="#500093"/><stop offset="0.1837" stop-color="#5500a4"/><stop offset="0.2041" stop-color="#5a00b4"/><stop offset="0.2245" stop-color="#5f01c3"/><stop offset="0.2449" stop-color="#6401d1"/><stop offset="0.2653" stop-color="#6801dd"/><stop offset="0.2857" stop-color="#6d02e8"/><stop offset="0.3061" stop-color="#7102f1"/><stop offset="0.3265" stop-color="#7502f8"/><stop offset="0.3469" stop-color="#7a03fc"/><stop offset="0.3673" stop-color="#7e04ff"/><stop offset="0.3878" stop-color="#8204ff"/><stop offset="0.4082" stop-color="#8605fc"/><stop offset="0.4286" stop-color="#8a06f6"/><stop offset="0.449" stop-color="#8e08ed"/><stop offset="0.4694" stop-color="#9209e1"/><stop offset="0.4898" stop-color="#960bd2"/><stop offset="0.5102" stop-color="#9a0cc0"/><stop offset="0.5306" stop-color="#9e0eac"/><stop offset="0.551" stop-color="#a21194"/><stop offset="0.5714" stop-color="#a51379"/><stop offset="0.5918" stop-color="#a9165c"/><stop offset="0.6122" stop-color="#ad193d"/><stop offset="0.6327" stop-color="#b11d1b"/><stop offset="0.6531" stop-color="#b52100"/><stop offset="0.6735" stop-color="#b92500"/><stop offset="0.6939" stop-color="#bd2a00"/><stop offset="0.7143" stop-color="#c02f00"/><stop offset="0.7347" stop-color="#c43400"/><stop offset="0.7551" stop-color="#c73a00"/><stop offset="0.7755" stop-color="#cb4000"/><stop offset="0.7959" stop-color="#ce4700"/><stop offset="0.8163" stop-color="#d14e00"/><stop offset="0.8367" stop-color="#d45500"/><stop offset="0.8571" stop-color="#d75d00"/><stop offset="0.8776" stop-color="#da6400"/><stop offset="0.898" stop-color="#dd6c00"/><stop offset="0.9184" stop-color="#df7300"/><stop offset="0.9388" stop-color="#e17700"/><stop offset="0.9592" stop-color="#e17800"/><stop offset="0.9796" stop-color="#e17800"/><stop offset="1" stop-color="#e17800"/></linearGradient><linearGradient id="gr11" x1="0" y1="0" x2="0" y2="1"><stop offset="0" stop-color="#000000"/><stop offset="0.02" stop-color="#1b0012"/><stop offset="0.04" stop-color="#2a002a"/><stop offset="0.06" stop-color="#33003f"/><stop offset="0.08" stop-color="#3a0051"/><stop offset="0.1" stop-color="#400061"/><stop offset="0.12" stop-color="#450071"/><stop offset="0.14" stop-color="#4a0081"/><stop offset="0.16" stop-color="#4f0091"/><stop offset="0.18" stop-color="#5400a2"/><stop offset="0.2" stop-color="#5900b2"/><stop offset="0.22" stop-color="#5e01c1"/><stop offset="0.24" stop-color="#6301cf"/><stop offset="0.26" stop-color="#6701db"/><stop offset="0.28" stop-color="#6c01e6"/><stop offset="0.3" stop-color="#7002ef"/><stop offset="0.32" stop-color="#7502f7"/><stop offset="0.34" stop-color="#7903fc"/><stop offset="0.36" stop-color="#7d04ff"/><stop offset="0.38" stop-color="#8104ff"/><stop offset="0.4" stop-color="#8505fc"/><stop offset="0.42" stop-color="#8906f7"/><stop offset="0.44" stop-color="#8d07ef"/><stop offset="0.46" stop-color="#9109e4"/><stop offset="0.48" stop-color="#950ad6"/><stop offset="0.5" stop-color="#990cc5"/><stop offset="0.52" stop-color="#9d0eb1"/><stop offset="0.54" stop-color="#a1109a"/><stop offset="0.56" stop-color="#a41280"/><stop offset="0.58" stop-color="#a81564"/><stop offset="0.6" stop-color="#ac1845"/><stop offset="0.62" stop-color="#b01c24"/><stop offset="0.64" stop-color="#b42001"/><stop offset="0.66" stop-color="#b82400"/><stop offset="0.68" stop-color="#bc2900"/><stop offset="0.7" stop-color="#bf2e00"/><stop offset="0.72" stop-color="#c33300"/><stop offset="0.74" stop-color="#c73900"/><stop offset="0.76" stop-color="#ca3f00"/><stop offset="0.78" stop-color="#cd4600"/><stop offset="0.8" stop-color="#d14d00"/><stop offset="0.82" stop-color="#d45500"/><stop offset="0.84" stop-color="#d85d00"/><stop offset="0.86" stop-color="#db6600"/><stop offset="0.88" stop-color="#de6e00"/><stop offset="0.9" stop-color="#e17700"/><stop offset="0.92" stop-color="#e37e00"/><stop offset="0.94" stop-color="#e48300"/><stop offset="0.96" stop-color="#e58600"/><stop offset="0.98" stop-color="#e58600"/><stop offset="1" stop-color="#e58500"/></linearGradient><linearGradient id="gr12" x1="0" y1="0" x2="0" y2="1"><stop offset="0" stop-color="#000000"/><stop offset="0.01961" stop-color="#1a0011"/><stop offset="0.03922" stop-color="#290029"/><stop offset="0.05882" stop-color="#32003d"/><stop offset="0.07843" stop-color="#390050"/><stop offset="0.09804" stop-color="#3f0060"/><stop offset="0.1176" stop-color="#450070"/><stop offset="0.1373" stop-color="#4a0080"/><stop offset="0.1569" stop-color="#4f0091"/><stop offset="0.1765" stop-color="#5400a1"/><stop offset="0.1961" stop-color="#5900b1"/><stop offset="0.2157" stop-color="#5e01c1"/><stop offset="0.2353" stop-color="#6301cf"/><stop offset="0.2549" stop-color="#6701db"/><stop offset="0.2745" stop-color="#6c01e6"/><stop offset="0.2941" stop-color="#7002ef"/><stop offset="0.3137" stop-color="#7502f7"/><stop offset="0.3333" stop-color="#7903fc"/><stop offset="0.3529" stop-color="#7d04ff"/><stop offset="0.3725" stop-color="#8104ff"/><stop offset="0.3922" stop-color="#8505fc"/><stop offset="0.4118" stop-color="#8906f7"/><stop offset="0.4314" stop-color="#8d07ee"/><stop offset="0.451" stop-color="#9109e3"/><stop offset="0.4706" stop-color="#950ad5"/><stop offset="0.4902" stop-color="#990cc3"/><stop offset="0.5098" stop-color="#9d0eaf"/><stop offset="0.5294" stop-color="#a11097"/><stop offset="0.549" stop-color="#a5137d"/><stop offset="0.5686" stop-color="#a91660"/><stop offset="0.5882" stop-color="#ad1940"/><stop offset="0.6078" stop-color="#b11c1e"/><stop offset="0.6275" stop-color="#b52000"/><stop offset="0.6471" stop-color="#b92500"/><stop offset="0.6667" stop-color="#bd2a00"/><stop offset="0.6863" stop-color="#c02f00"/><stop offset="0.7059" stop-color="#c43500"/><stop offset="0.7255" stop-color="#c83b00"/><stop offset="0.7451" stop-color="#cb4100"/><stop offset="0.7647" stop-color="#cf4800"/><stop offset="0.7843" stop-color="#d25000"/><stop offset="0.8039" stop-color="#d65800"/><stop offset="0.8235" stop-color="#d96200"/><stop offset="0.8431" stop-color="#dd6b00"/><stop offset="0.8627" stop-color="#e07500"/><stop offset="0.8824" stop-color="#e37e00"/><stop offset="0.902" stop-color="#e58700"/><stop offset="0.9216" stop-color="#e78e00"/><stop offset="0.9412" stop-color="#e99300"/><stop offset="0.9608" stop-color="#ea9700"/><stop offset="0.9804" stop-color="#ea9a00"/><stop offset="1" stop-color="#eb9b00"/></linearGradient><linearGradient id="gr13" x1="0" y1="0" x2="0" y2="1"><stop offset="0" stop-color="#000000"/><stop offset="0.01923" stop-color="#19000f"/><stop offset="0.03846" stop-color="#280027"/><stop offset="0.05769" stop-color="#31003b"/><stop offset="0.07692" stop-color="#39004d"/><stop offset="0.09615" stop-color="#3f005e"/><stop offset="0.1154" stop-color="#44006e"/><stop offset="0.1346" stop-color="#49007e"/><stop offset="0.1538" stop-color="#4e008f"/><stop offset="0.1731" stop-color="#54009f"/><stop offset="0.1923" stop-color="#5900af"/><stop offset="0.2115" stop-color="#5d01bf"/><stop offset="0.2308" stop-color="#6201cd"/><stop offset="0.25" stop-color="#6701d9"/><stop offset="0.2692" stop-color="#6b01e4"/><stop offset="0.2885" stop-color="#7002ee"/><stop offset="0.3077" stop-color="#7402f6"/><stop offset="0.3269" stop-color="#7803fb"/><stop offset="0.3462" stop-color="#7c03fe"/><stop offset="0.3654" stop-color="#8004ff"/><stop offset="0.3846" stop-color="#8505fd"/><stop offset="0.4038" stop-color="#8906f8"/><stop offset="0.4231" stop-color="#8d07f0"/><stop offset="0.4423" stop-color="#9108e6"/><stop offset="0.4615" stop-color="#940ad8"/><stop offset="0.4808" stop-color="#980cc8"/><stop offset="0.5" stop-color="#9c0db4"/><stop offset="0.5192" stop-color="#a0109d"/><stop offset="0.5385" stop-color="#a41284"/><stop offset="0.5577" stop-color="#a81567"/><stop offset="0.5769" stop-color="#ac1848"/><stop offset="0.5962" stop-color="#b01b27"/><stop offset="0.6154" stop-color="#b41f04"/><stop offset="0.6346" stop-color="#b82400"/><stop offset="0.6538" stop-color="#bc2800"/><stop offset="0.6731" stop-color="#bf2e00"/><stop offset="0.6923" stop-color="#c33300"/><stop offset="0.7115" stop-color="#c73900"/><stop offset="0.7308" stop-color="#ca4000"/><stop offset="0.75" stop-color="#ce4700"/><stop offset="0.7692" stop-color="#d24f00"/><stop offset="0.7885" stop-color="#d55700"/><stop offset="0.8077" stop-color="#d96100"/><stop offset="0.8269" stop-color="#dd6b00"/><stop offset="0.8462" stop-color="#e07500"/><stop offset="0.8654" stop-color="#e37f00"/><stop offset="0.8846" stop-color="#e68900"/><stop offset="0.9038" stop-color="#e99300"/><stop offset="0.9231" stop-color="#eb9c00"/><stop offset="0.9423" stop-color="#eda400"/><stop offset="0.9615" stop-color="#eeab00"/><stop offset="0.9808" stop-color="#efad00"/><stop offset="1" stop-color="#eeaa00"/></linearGradient><linearGradient id="gr14" x1="0" y1="0" x2="0" y2="1"><stop offset="0" stop-color="#000000"/><stop offset="0.01887" stop-color="#18000e"/><stop offset="0.03774" stop-color="#270026"/><stop offset="0.0566" stop-color="#31003a"/><stop offset="0.07547" stop-color="#38004d"/><stop offset="0.09434" stop-color="#3e005e"/><stop offset="0.1132" stop-color="#44006e"/><stop offset="0.1321" stop-color="#49007e"/><stop offset="0.1509" stop-color="#4e008f"/><stop offset="0.1698" stop-color="#54009f"/><stop offset="0.1887" stop-color="#5900af"/><stop offset="0.2075" stop-color="#5e01bf"/><stop offset="0.2264" stop-color="#6201cd"/><stop offset="0.2453" stop-color="#6701da"/><stop offset="0.2642" stop-color="#6b01e5"/><stop offset="0.283" stop-color="#7002ee"/><stop offset="0.3019" stop-color="#7402f6"/><stop offset="0.3208" stop-color="#7803fb"/><stop offset="0.3396" stop-color="#7d03fe"/><stop offset="0.3585" stop-color="#8104ff"/><stop offset="0.3774" stop-color="#8505fd"/><stop offset="0.3962" stop-color="#8906f8"/><stop offset="0.4151" stop-color="#8d07f0"/><stop offset="0.434" stop-color="#9109e5"/><stop offset="0.4528" stop-color="#950ad7"/><stop offset="0.4717" stop-color="#990cc6"/><stop offset="0.4906" stop-color="#9d0eb1"/><stop offset="0.5094" stop-color="#a1109a"/><stop offset="0.5283" stop-color="#a51280"/><stop offset="0.5472" stop-color="#a81563"/><stop offset="0.566" stop-color="#ac1843"/><stop offset="0.5849" stop-color="#b01c22"/><stop offset="0.6038" stop-color="#b42000"/><stop offset="0.6226" stop-color="#b82500"/><stop offset="0.6415" stop-color="#bc2900"/><stop offset="0.6604" stop-color="#c02f00"/><stop offset="0.6792" stop-color="#c43500"/><stop offset="0.6981" stop-color="#c83b00"/><stop offset="0.717" stop-color="#cc4200"/><stop offset="0.7358" stop-color="#cf4900"/><stop offset="0.7547" stop-color="#d35100"/><stop offset="0.7736" stop-color="#d75a00"/><stop offset="0.7925" stop-color="#da6400"/><stop offset="0.8113" stop-color="#de6f00"/><stop offset="0.8302" stop-color="#e17a00"/><stop offset="0.8491" stop-color="#e58500"/><stop offset="0.8679" stop-color="#e89000"/><stop offset="0.8868" stop-color="#eb9b00"/><stop offset="0.9057" stop-color="#eda600"/><stop offset="0.9245" stop-color="#f0b000"/><stop offset="0.9434" stop-color="#f1b700"/><stop offset="0.9623" stop-color="#f2ba00"/><stop offset="0.9811" stop-color="#f2b900"/><stop offset="1" stop-color="#f2b800"/></linearGradient><linearGradient id="gr15" x1="0" y1="0" x2="0" y2="1"><stop offset="0" stop-color="#000000"/><stop offset="0.01852" stop-color="#17000d"/><stop offset="0.03704" stop-color="#260024"/><stop offset="0.05556" stop-color="#300039"/><stop offset="0.07407" stop-color="#38004b"/><stop offset="0.09259" stop-color="#3e005c"/><stop offset="0.1111" stop-color="#43006c"/><stop offset="0.1296" stop-color="#49007d"/><stop offset="0.1481" stop-color="#4e008d"/><stop offset="0.1667" stop-color="#53009e"/><stop offset="0.1852" stop-color="#5800ae"/><stop offset="0.2037" stop-color="#5d01bd"/><stop offset="0.2222" stop-color="#6201cb"/><stop offset="0.2407" stop-color="#6601d8"/><stop offset="0.2593" stop-color="#6b01e3"/><stop offset="0.2778" stop-color="#6f02ed"/><stop offset="0.2963" stop-color="#7302f5"/><stop offset="0.3148" stop-color="#7803fb"/><stop offset="0.3333" stop-color="#7c03fe"/><stop offset="0.3519" stop-color="#8004ff"/><stop offset="0.3704" stop-color="#8405fd"/><stop offset="0.3889" stop-color="#8806f9"/><stop offset="0.4074" stop-color="#8c07f2"/><stop offset="0.4259" stop-color="#9008e7"/><stop offset="0.4444" stop-color="#940ada"/><stop offset="0.463" stop-color="#980bc9"/><stop offset="0.4815" stop-color="#9c0db6"/><stop offset="0.5" stop-color="#a00f9f"/><stop offset="0.5185" stop-color="#a41286"/><stop offset="0.537" stop-color="#a8156a"/><stop offset="0.5556" stop-color="#ac184b"/><stop offset="0.5741" stop-color="#b01b2a"/><stop offset="0.5926" stop-color="#b41f07"/><stop offset="0.6111" stop-color="#b72300"/><stop offset="0.6296" stop-color="#bb2800"/><stop offset="0.6481" stop-color="#bf2d00"/><stop offset="0.6667" stop-color="#c33300"/><stop offset="0.6852" stop-color="#c73a00"/><stop offset="0.7037" stop-color="#cb4000"/><stop offset="0.7222" stop-color="#ce4800"/><stop offset="0.7407" stop-color="#d25000"/><stop offset="0.7593" stop-color="#d65900"/><stop offset="0.7778" stop-color="#da6300"/><stop offset="0.7963" stop-color="#dd6d00"/><stop offset="0.8148" stop-color="#e17800"/><stop offset="0.8333" stop-color="#e48300"/><stop offset="0.8519" stop-color="#e88f00"/><stop offset="0.8704" stop-color="#eb9c00"/><stop offset="0.8889" stop-color="#eea800"/><stop offset="0.9074" stop-color="#f0b300"/><stop offset="0.9259" stop-color="#f3bd00"/><stop offset="0.9444" stop-color="#f4c400"/><stop offset="0.963" stop-color="#f5c800"/><stop offset="0.9815" stop-color="#f5c900"/><stop offset="1" stop-color="#f5c800"/></linearGradient><linearGradient id="gr16" x1="0" y1="0" x2="0" y2="1"><stop offset="0" stop-color="#000000"/><stop offset="0.01852" stop-color="#16000c"/><stop offset="0.03704" stop-color="#260024"/><stop offset="0.05556" stop-color="#300038"/><stop offset="0.07407" stop-color="#38004b"/><stop offset="0.09259" stop-color="#3e005c"/><stop offset="0.1111" stop-color="#44006d"/><stop offset="0.1296" stop-color="#49007d"/><stop offset="0.1481" stop-color="#4e008e"/><stop offset="0.1667" stop-color="#53009f"/><stop offset="0.1852" stop-color="#5800af"/><stop offset="0.2037" stop-color="#5d01be"/><stop offset="0.2222" stop-color="#6201cd"/><stop offset="0.2407" stop-color="#6701d9"/><stop offset="0.2593" stop-color="#6b01e5"/><stop offset="0.2778" stop-color="#7002ee"/><stop offset="0.2963" stop-color="#7402f6"/><stop offset="0.3148" stop-color="#7803fb"/><stop offset="0.3333" stop-color="#7d03fe"/><stop offset="0.3519" stop-color="#8104ff"/><stop offset="0.3704" stop-color="#8505fd"/><stop offset="0.3889" stop-color="#8906f7"/><stop offset="0.4074" stop-color="#8d07ef"/><stop offset="0.4259" stop-color="#9109e4"/><stop offset="0.4444" stop-color="#950ad6"/><stop offset="0.463" stop-color="#990cc4"/><stop offset="0.4815" stop-color="#9d0eb0"/><stop offset="0.5" stop-color="#a11098"/><stop offset="0.5185" stop-color="#a5137d"/><stop offset="0.537" stop-color="#a91660"/><stop offset="0.5556" stop-color="#ad1940"/><stop offset="0.5741" stop-color="#b11c1e"/><stop offset="0.5926" stop-color="#b52100"/><stop offset="0.6111" stop-color="#b92500"/><stop offset="0.6296" stop-color="#bd2a00"/><stop offset="0.6481" stop-color="#c13000"/><stop offset="0.6667" stop-color="#c53600"/><stop offset="0.6852" stop-color="#c93d00"/><stop offset="0.7037" stop-color="#cd4400"/><stop offset="0.7222" stop-color="#d04c00"/><stop offset="0.7407" stop-color="#d45500"/><stop offset="0.7593" stop-color="#d85f00"/><stop offset="0.7778" stop-color="#dc6900"/><stop offset="0.7963" stop-color="#e07400"/><stop offset="0.8148" stop-color="#e37f00"/><stop offset="0.8333" stop-color="#e78b00"/><stop offset="0.8519" stop-color="#ea9900"/><stop offset="0.8704" stop-color="#eea700"/><stop offset="0.8889" stop-color="#f0b300"/><stop offset="0.9074" stop-color="#f3be00"/><stop offset="0.9259" stop-color="#f5c800"/><stop offset="0.9444" stop-color="#f6cf00"/><stop offset="0.963" stop-color="#f7d400"/><stop offset="0.9815" stop-color="#f8d600"/><stop offset="1" stop-color="#f8d900"/></linearGradient><linearGradient id="gr17" x1="0" y1="0" x2="0" y2="1"><stop offset="0" stop-color="#000000"/><stop offset="0.01818" stop-color="#16000c"/><stop offset="0.03636" stop-color="#260023"/><stop offset="0.05455" stop-color="#300037"/><stop offset="0.07273" stop-color="#37004a"/><stop offset="0.09091" stop-color="#3d005b"/><stop offset="0.1091" stop-color="#43006c"/><stop offset="0.1273" stop-color="#49007c"/><stop offset="0.1455" stop-color="#4e008d"/><stop offset="0.1636" stop-color="#53009d"/><stop offset="0.1818" stop-color="#5800ae"/><stop offset="0.2" stop-color="#5d01bd"/><stop offset="0.2182" stop-color="#6201cb"/><stop offset="0.2364" stop-color="#6601d8"/><stop offset="0.2545" stop-color="#6b01e3"/><stop offset="0.2727" stop-color="#6f02ed"/><stop offset="0.2909" stop-color="#7302f5"/><stop offset="0.3091" stop-color="#7803fb"/><stop offset="0.3273" stop-color="#7c03fe"/><stop offset="0.3455" stop-color="#8004ff"/><stop offset="0.3636" stop-color="#8405fd"/><stop offset="0.3818" stop-color="#8806f9"/><stop offset="0.4" stop-color="#8c07f1"/><stop offset="0.4182" stop-color="#9008e7"/><stop offset="0.4364" stop-color="#940ad9"/><stop offset="0.4545" stop-color="#980cc8"/><stop offset="0.4727" stop-color="#9c0db4"/><stop offset="0.4909" stop-color="#a0109d"/><stop offset="0.5091" stop-color="#a41283"/><stop offset="0.5273" stop-color="#a81566"/><stop offset="0.5455" stop-color="#ac1847"/><stop offset="0.5636" stop-color="#b01c26"/><stop offset="0.5818" stop-color="#b42003"/><stop offset="0.6" stop-color="#b82400"/><stop offset="0.6182" stop-color="#bc2900"/><stop offset="0.6364" stop-color="#c02e00"/><stop offset="0.6545" stop-color="#c43400"/><stop offset="0.6727" stop-color="#c83b00"/><stop offset="0.6909" stop-color="#cc4200"/><stop offset="0.7091" stop-color="#d04a00"/><stop offset="0.7273" stop-color="#d35300"/><stop offset="0.7455" stop-color="#d75d00"/><stop offset="0.7636" stop-color="#db6700"/><stop offset="0.7818" stop-color="#df7100"/><stop offset="0.8" stop-color="#e27d00"/><stop offset="0.8182" stop-color="#e68900"/><stop offset="0.8364" stop-color="#ea9700"/><stop offset="0.8545" stop-color="#eda500"/><stop offset="0.8727" stop-color="#f0b200"/><stop offset="0.8909" stop-color="#f3be00"/><stop offset="0.9091" stop-color="#f5c800"/><stop offset="0.9273" stop-color="#f7d100"/><stop offset="0.9455" stop-color="#f8d900"/><stop offset="0.9636" stop-color="#f9df00"/><stop offset="0.9818" stop-color="#fae500"/><stop offset="1" stop-color="#fcec00"/></linearGradient><linearGradient id="gr18" x1="0" y1="0" x2="0" y2="1"><stop offset="0" stop-color="#000000"/><stop offset="0.01786" stop-color="#15000b"/><stop offset="0.03571" stop-color="#250022"/><stop offset="0.05357" stop-color="#2f0036"/><stop offset="0.07143" stop-color="#370049"/><stop offset="0.08929" stop-color="#3d005a"/><stop offset="0.1071" stop-color="#43006b"/><stop offset="0.125" stop-color="#48007b"/><stop offset="0.1429" stop-color="#4d008c"/><stop offset="0.1607" stop-color="#53009c"/><stop offset="0.1786" stop-color="#5800ac"/><stop offset="0.1964" stop-color="#5d01bc"/><stop offset="0.2143" stop-color="#6101ca"/><stop offset="0.2321" stop-color="#6601d7"/><stop offset="0.25" stop-color="#6a01e2"/><stop offset="0.2679" stop-color="#6f02ec"/><stop offset="0.2857" stop-color="#7302f4"/><stop offset="0.3036" stop-color="#7703fa"/><stop offset="0.3214" stop-color="#7c03fe"/><stop offset="0.3393" stop-color="#8004ff"/><stop offset="0.3571" stop-color="#8405fe"/><stop offset="0.375" stop-color="#8806f9"/><stop offset="0.3929" stop-color="#8c07f2"/><stop offset="0.4107" stop-color="#9008e8"/><stop offset="0.4286" stop-color="#940adb"/><stop offset="0.4464" stop-color="#980bcb"/><stop offset="0.4643" stop-color="#9c0db8"/><stop offset="0.4821" stop-color="#9f0fa1"/><stop offset="0.5" stop-color="#a31288"/><stop offset="0.5179" stop-color="#a7146c"/><stop offset="0.5357" stop-color="#ab174d"/><stop offset="0.5536" stop-color="#af1b2d"/><stop offset="0.5714" stop-color="#b31f0a"/><stop offset="0.5893" stop-color="#b72300"/><stop offset="0.6071" stop-color="#bb2800"/><stop offset="0.625" stop-color="#bf2d00"/><stop offset="0.6429" stop-color="#c33300"/><stop offset="0.6607" stop-color="#c73900"/><stop offset="0.6786" stop-color="#cb4000"/><stop offset="0.6964" stop-color="#cf4800"/><stop offset="0.7143" stop-color="#d35100"/><stop offset="0.7321" stop-color="#d65a00"/><stop offset="0.75" stop-color="#da6400"/><stop offset="0.7679" stop-color="#de6f00"/><stop offset="0.7857" stop-color="#e17a00"/><stop offset="0.8036" stop-color="#e58600"/><stop offset="0.8214" stop-color="#e99400"/><stop offset="0.8393" stop-color="#eca200"/><stop offset="0.8571" stop-color="#f0b000"/><stop offset="0.875" stop-color="#f2bc00"/><stop offset="0.8929" stop-color="#f5c700"/><stop offset="0.9107" stop-color="#f7d100"/><stop offset="0.9286" stop-color="#f8da00"/><stop offset="0.9464" stop-color="#fae200"/><stop offset="0.9643" stop-color="#fceb00"/><stop offset="0.9821" stop-color="#fdf500"/><stop offset="1" stop-color="#fffd00"/></linearGradient><linearGradient id="gr19" x1="0" y1="0" x2="0" y2="1"><stop offset="0" stop-color="#000000"/><stop offset="0.01786" stop-color="#15000b"/><stop offset="0.03571" stop-color="#250022"/><stop offset="0.05357" stop-color="#2f0036"/><stop offset="0.07143" stop-color="#370049"/><stop offset="0.08929" stop-color="#3d005a"/><stop offset="0.1071" stop-color="#43006b"/><stop offset="0.125" stop-color="#48007b"/><stop offset="0.1429" stop-color="#4d008c"/><stop offset="0.1607" stop-color="#53009c"/><stop offset="0.1786" stop-color="#5800ac"/><stop offset="0.1964" stop-color="#5d01bc"/><stop offset="0.2143" stop-color="#6101ca"/><stop offset="0.2321" stop-color="#6601d7"/><stop offset="0.25" stop-color="#6a01e2"/><stop offset="0.2679" stop-color="#6f02ec"/><stop offset="0.2857" stop-color="#7302f4"/><stop offset="0.3036" stop-color="#7703fa"/><stop offset="0.3214" stop-color="#7b03fe"/><stop offset="0.3393" stop-color="#8004ff"/><stop offset="0.3571" stop-color="#8405fe"/><stop offset="0.375" stop-color="#8806f9"/><stop offset="0.3929" stop-color="#8c07f2"/><stop offset="0.4107" stop-color="#9008e8"/><stop offset="0.4286" stop-color="#940adb"/><stop offset="0.4464" stop-color="#980bcb"/><stop offset="0.4643" stop-color="#9c0db8"/><stop offset="0.4821" stop-color="#9f0fa1"/><stop offset="0.5" stop-color="#a31288"/><stop offset="0.5179" stop-color="#a7146c"/><stop offset="0.5357" stop-color="#ab174e"/><stop offset="0.5536" stop-color="#af1b2d"/><stop offset="0.5714" stop-color="#b31f0a"/><stop offset="0.5893" stop-color="#b72300"/><stop offset="0.6071" stop-color="#bb2800"/><stop offset="0.625" stop-color="#bf2d00"/><stop offset="0.6429" stop-color="#c33300"/><stop offset="0.6607" stop-color="#c73900"/><stop offset="0.6786" stop-color="#cb4000"/><stop offset="0.6964" stop-color="#cf4800"/><stop offset="0.7143" stop-color="#d25100"/><stop offset="0.7321" stop-color="#d65a00"/><stop offset="0.75" stop-color="#da6500"/><stop offset="0.7679" stop-color="#de6f00"/><stop offset="0.7857" stop-color="#e17a00"/><stop offset="0.8036" stop-color="#e58600"/><stop offset="0.8214" stop-color="#e99400"/><stop offset="0.8393" stop-color="#eda300"/><stop offset="0.8571" stop-color="#f0b000"/><stop offset="0.875" stop-color="#f3bd00"/><stop offset="0.8929" stop-color="#f5c800"/><stop offset="0.9107" stop-color="#f7d200"/><stop offset="0.9286" stop-color="#f9db00"/><stop offset="0.9464" stop-color="#fae400"/><stop offset="0.9643" stop-color="#fcee00"/><stop offset="0.9821" stop-color="#fef900"/><stop offset="1" stop-color="#ffff00"/></linearGradient><linearGradient id="gr20" x1="0" y1="0" x2="0" y2="1"><stop offset="0" stop-color="#000000"/><stop offset="0.01786" stop-color="#15000b"/><stop offset="0.03571" stop-color="#250022"/><stop offset="0.05357" stop-color="#2f0036"/><stop offset="0.07143" stop-color="#370049"/><stop offset="0.08929" stop-color="#3d005a"/><stop offset="0.1071" stop-color="#43006b"/><stop offset="0.125" stop-color="#48007b"/><stop offset="0.1429" stop-color="#4d008c"/><stop offset="0.1607" stop-color="#53009c"/><stop offset="0.1786" stop-color="#5800ac"/><stop offset="0.1964" stop-color="#5d01bc"/><stop offset="0.2143" stop-color="#6101ca"/><stop offset="0.2321" stop-color="#6601d7"/><stop offset="0.25" stop-color="#6a01e2"/><stop offset="0.2679" stop-color="#6f02ec"/><stop offset="0.2857" stop-color="#7302f4"/><stop offset="0.3036" stop-color="#7703fa"/><stop offset="0.3214" stop-color="#7c03fe"/><stop offset="0.3393" stop-color="#8004ff"/><stop offset="0.3571" stop-color="#8405fe"/><stop offset="0.375" stop-color="#8806f9"/><stop offset="0.3929" stop-color="#8c07f2"/><stop offset="0.4107" stop-color="#9008e8"/><stop offset="0.4286" stop-color="#940adb"/><stop offset="0.4464" stop-color="#980bcb"/><stop offset="0.4643" stop-color="#9c0db8"/><stop offset="0.4821" stop-color="#9f0fa1"/><stop offset="0.5" stop-color="#a31288"/><stop offset="0.5179" stop-color="#a7146c"/><stop offset="0.5357" stop-color="#ab174d"/><stop offset="0.5536" stop-color="#af1b2d"/><stop offset="0.5714" stop-color="#b31f0a"/><stop offset="0.5893" stop-color="#b72300"/><stop offset="0.6071" stop-color="#bb2800"/><stop offset="0.625" stop-color="#bf2d00"/><stop offset="0.6429" stop-color="#c33300"/><stop offset="0.6607" stop-color="#c73900"/><stop offset="0.6786" stop-color="#cb4000"/><stop offset="0.6964" stop-color="#cf4800"/><stop offset="0.7143" stop-color="#d35100"/><stop offset="0.7321" stop-color="#d65a00"/><stop offset="0.75" stop-color="#da6400"/><stop offset="0.7679" stop-color="#de6f00"/><stop offset="0.7857" stop-color="#e17a00"/><stop offset="0.8036" stop-color="#e58600"/><stop offset="0.8214" stop-color="#e99400"/><stop offset="0.8393" stop-color="#eca200"/><stop offset="0.8571" stop-color="#f0b000"/><stop offset="0.875" stop-color="#f2bc00"/><stop offset="0.8929" stop-color="#f5c700"/><stop offset="0.9107" stop-color="#f7d100"/><stop offset="0.9286" stop-color="#f8da00"/><stop offset="0.9464" stop-color="#fae200"/><stop offset="0.9643" stop-color="#fceb00"/><stop offset="0.9821" stop-color="#fdf500"/><stop offset="1" stop-color="#fffd00"/></linearGradient><linearGradient id="gr21" x1="0" y1="0" x2="0" y2="1"><stop offset="0" stop-color="#000000"/><stop offset="0.01818" stop-color="#16000c"/><stop offset="0.03636" stop-color="#260023"/><stop offset="0.05455" stop-color="#300037"/><stop offset="0.07273" stop-color="#37004a"/><stop offset="0.09091" stop-color="#3d005b"/><stop offset="0.1091" stop-color="#43006c"/><stop offset="0.1273" stop-color="#49007c"/><stop offset="0.1455" stop-color="#4e008d"/><stop offset="0.1636" stop-color="#53009d"/><stop offset="0.1818" stop-color="#5800ae"/><stop offset="0.2" stop-color="#5d01bd"/><stop offset="0.2182" stop-color="#6201cb"/><stop offset="0.2364" stop-color="#6601d8"/><stop offset="0.2545" stop-color="#6b01e3"/><stop offset="0.2727" stop-color="#6f02ed"/><stop offset="0.2909" stop-color="#7302f5"/><stop offset="0.3091" stop-color="#7803fb"/><stop offset="0.3273" stop-color="#7c03fe"/><stop offset="0.3455" stop-color="#8004ff"/><stop offset="0.3636" stop-color="#8405fd"/><stop offset="0.3818" stop-color="#8806f9"/><stop offset="0.4" stop-color="#8c07f1"/><stop offset="0.4182" stop-color="#9008e7"/><stop offset="0.4364" stop-color="#940ad9"/><stop offset="0.4545" stop-color="#980cc8"/><stop offset="0.4727" stop-color="#9c0db4"/><stop offset="0.4909" stop-color="#a0109d"/><stop offset="0.5091" stop-color="#a41283"/><stop offset="0.5273" stop-color="#a81566"/><stop offset="0.5455" stop-color="#ac1847"/><stop offset="0.5636" stop-color="#b01c26"/><stop offset="0.5818" stop-color="#b42003"/><stop offset="0.6" stop-color="#b82400"/><stop offset="0.6182" stop-color="#bc2900"/><stop offset="0.6364" stop-color="#c02e00"/><stop offset="0.6545" stop-color="#c43400"/><stop offset="0.6727" stop-color="#c83b00"/><stop offset="0.6909" stop-color="#cc4200"/><stop offset="0.7091" stop-color="#d04a00"/><stop offset="0.7273" stop-color="#d35300"/><stop offset="0.7455" stop-color="#d75d00"/><stop offset="0.7636" stop-color="#db6700"/><stop offset="0.7818" stop-color="#df7100"/><stop offset="0.8" stop-color="#e27d00"/><stop offset="0.8182" stop-color="#e68900"/><stop offset="0.8364" stop-color="#ea9700"/><stop offset="0.8545" stop-color="#eda500"/><stop offset="0.8727" stop-color="#f0b200"/><stop offset="0.8909" stop-color="#f3be00"/><stop offset="0.9091" stop-color="#f5c800"/><stop offset="0.9273" stop-color="#f7d100"/><stop offset="0.9455" stop-color="#f8d900"/><stop offset="0.9636" stop-color="#f9df00"/><stop offset="0.9818" stop-color="#fae500"/><stop offset="1" stop-color="#fcec00"/></linearGradient><linearGradient id="gr22" x1="0" y1="0" x2="0" y2="1"><stop offset="0" stop-color="#000000"/><stop offset="0.01852" stop-color="#16000c"/><stop offset="0.03704" stop-color="#260024"/><stop offset="0.05556" stop-color="#300038"/><stop offset="0.07407" stop-color="#38004b"/><stop offset="0.09259" stop-color="#3e005c"/><stop offset="0.1111" stop-color="#44006d"/><stop offset="0.1296" stop-color="#49007d"/><stop offset="0.1481" stop-color="#4e008e"/><stop offset="0.1667" stop-color="#53009f"/><stop offset="0.1852" stop-color="#5800af"/><stop offset="0.2037" stop-color="#5d01be"/><stop offset="0.2222" stop-color="#6201cd"/><stop offset="0.2407" stop-color="#6701d9"/><stop offset="0.2593" stop-color="#6b01e5"/><stop offset="0.2778" stop-color="#7002ee"/><stop offset="0.2963" stop-color="#7402f6"/><stop offset="0.3148" stop-color="#7803fb"/><stop offset="0.3333" stop-color="#7d03fe"/><stop offset="0.3519" stop-color="#8104ff"/><stop offset="0.3704" stop-color="#8505fd"/><stop offset="0.3889" stop-color="#8906f7"/><stop offset="0.4074" stop-color="#8d07ef"/><stop offset="0.4259" stop-color="#9109e4"/><stop offset="0.4444" stop-color="#950ad6"/><stop offset="0.463" stop-color="#990cc4"/><stop offset="0.4815" stop-color="#9d0eb0"/><stop offset="0.5" stop-color="#a11098"/><stop offset="0.5185" stop-color="#a5137d"/><stop offset="0.537" stop-color="#a91660"/><stop offset="0.5556" stop-color="#ad1940"/><stop offset="0.5741" stop-color="#b11c1e"/><stop offset="0.5926" stop-color="#b52100"/><stop offset="0.6111" stop-color="#b92500"/><stop offset="0.6296" stop-color="#bd2a00"/><stop offset="0.6481" stop-color="#c13000"/><stop offset="0.6667" stop-color="#c53600"/><stop offset="0.6852" stop-color="#c93d00"/><stop offset="0.7037" stop-color="#cd4400"/><stop offset="0.7222" stop-color="#d04c00"/><stop offset="0.7407" stop-color="#d45500"/><stop offset="0.7593" stop-color="#d85f00"/><stop offset="0.7778" stop-color="#dc6900"/><stop offset="0.7963" stop-color="#e07400"/><stop offset="0.8148" stop-color="#e37f00"/><stop offset="0.8333" stop-color="#e78b00"/><stop offset="0.8519" stop-color="#ea9900"/><stop offset="0.8704" stop-color="#eea700"/><stop offset="0.8889" stop-color="#f0b300"/><stop offset="0.9074" stop-color="#f3be00"/><stop offset="0.9259" stop-color="#f5c800"/><stop offset="0.9444" stop-color="#f6cf00"/><stop offset="0.963" stop-color="#f7d400"/><stop offset="0.9815" stop-color="#f8d600"/><stop offset="1" stop-color="#f8d900"/></linearGradient><linearGradient id="gr23" x1="0" y1="0" x2="0" y2="1"><stop offset="0" stop-color="#000000"/><stop offset="0.01852" stop-color="#17000d"/><stop offset="0.03704" stop-color="#260024"/><stop offset="0.05556" stop-color="#300039"/><stop offset="0.07407" stop-color="#38004b"/><stop offset="0.09259" stop-color="#3e005c"/><stop offset="0.1111" stop-color="#43006c"/><stop offset="0.1296" stop-color="#49007d"/><stop offset="0.1481" stop-color="#4e008d"/><stop offset="0.1667" stop-color="#53009e"/><stop offset="0.1852" stop-color="#5800ae"/><stop offset="0.2037" stop-color="#5d01bd"/><stop offset="0.2222" stop-color="#6201cb"/><stop offset="0.2407" stop-color="#6601d8"/><stop offset="0.2593" stop-color="#6b01e3"/><stop offset="0.2778" stop-color="#6f02ed"/><stop offset="0.2963" stop-color="#7302f5"/><stop offset="0.3148" stop-color="#7803fb"/><stop offset="0.3333" stop-color="#7c03fe"/><stop offset="0.3519" stop-color="#8004ff"/><stop offset="0.3704" stop-color="#8405fd"/><stop offset="0.3889" stop-color="#8806f9"/><stop offset="0.4074" stop-color="#8c07f2"/><stop offset="0.4259" stop-color="#9008e7"/><stop offset="0.4444" stop-color="#940ada"/><stop offset="0.463" stop-color="#980bc9"/><stop offset="0.4815" stop-color="#9c0db6"/><stop offset="0.5" stop-color="#a00f9f"/><stop offset="0.5185" stop-color="#a41286"/><stop offset="0.537" stop-color="#a8156a"/><stop offset="0.5556" stop-color="#ac184b"/><stop offset="0.5741" stop-color="#b01b2a"/><stop offset="0.5926" stop-color="#b41f07"/><stop offset="0.6111" stop-color="#b72300"/><stop offset="0.6296" stop-color="#bb2800"/><stop offset="0.6481" stop-color="#bf2d00"/><stop offset="0.6667" stop-color="#c33300"/><stop offset="0.6852" stop-color="#c73a00"/><stop offset="0.7037" stop-color="#cb4000"/><stop offset="0.7222" stop-color="#ce4800"/><stop offset="0.7407" stop-color="#d25000"/><stop offset="0.7593" stop-color="#d65900"/><stop offset="0.7778" stop-color="#da6300"/><stop offset="0.7963" stop-color="#dd6d00"/><stop offset="0.8148" stop-color="#e17800"/><stop offset="0.8333" stop-color="#e48300"/><stop offset="0.8519" stop-color="#e88f00"/><stop offset="0.8704" stop-color="#eb9c00"/><stop offset="0.8889" stop-color="#eea800"/><stop offset="0.9074" stop-color="#f0b300"/><stop offset="0.9259" stop-color="#f3bd00"/><stop offset="0.9444" stop-color="#f4c400"/><stop offset="0.963" stop-color="#f5c800"/><stop offset="0.9815" stop-color="#f5c900"/><stop offset="1" stop-color="#f5c800"/></linearGradient><linearGradient id="gr24" x1="0" y1="0" x2="0" y2="1"><stop offset="0" stop-color="#000000"/><stop offset="0.01887" stop-color="#18000e"/><stop offset="0.03774" stop-color="#270026"/><stop offset="0.0566" stop-color="#31003a"/><stop offset="0.07547" stop-color="#38004d"/><stop offset="0.09434" stop-color="#3e005e"/><stop offset="0.1132" stop-color="#44006e"/><stop offset="0.1321" stop-color="#49007e"/><stop offset="0.1509" stop-color="#4e008f"/><stop offset="0.1698" stop-color="#54009f"/><stop offset="0.1887" stop-color="#5900af"/><stop offset="0.2075" stop-color="#5e01bf"/><stop offset="0.2264" stop-color="#6201cd"/><stop offset="0.2453" stop-color="#6701da"/><stop offset="0.2642" stop-color="#6b01e5"/><stop offset="0.283" stop-color="#7002ee"/><stop offset="0.3019" stop-color="#7402f6"/><stop offset="0.3208" stop-color="#7803fb"/><stop offset="0.3396" stop-color="#7d03fe"/><stop offset="0.3585" stop-color="#8104ff"/><stop offset="0.3774" stop-color="#8505fd"/><stop offset="0.3962" stop-color="#8906f8"/><stop offset="0.4151" stop-color="#8d07f0"/><stop offset="0.434" stop-color="#9109e5"/><stop offset="0.4528" stop-color="#950ad7"/><stop offset="0.4717" stop-color="#990cc6"/><stop offset="0.4906" stop-color="#9d0eb1"/><stop offset="0.5094" stop-color="#a1109a"/><stop offset="0.5283" stop-color="#a51280"/><stop offset="0.5472" stop-color="#a81563"/><stop offset="0.566" stop-color="#ac1843"/><stop offset="0.5849" stop-color="#b01c22"/><stop offset="0.6038" stop-color="#b42000"/><stop offset="0.6226" stop-color="#b82500"/><stop offset="0.6415" stop-color="#bc2900"/><stop offset="0.6604" stop-color="#c02f00"/><stop offset="0.6792" stop-color="#c43500"/><stop offset="0.6981" stop-color="#c83b00"/><stop offset="0.717" stop-color="#cc4200"/><stop offset="0.7358" stop-color="#cf4900"/><stop offset="0.7547" stop-color="#d35100"/><stop offset="0.7736" stop-color="#d75a00"/><stop offset="0.7925" stop-color="#da6400"/><stop offset="0.8113" stop-color="#de6f00"/><stop offset="0.8302" stop-color="#e17a00"/><stop offset="0.8491" stop-color="#e58500"/><stop offset="0.8679" stop-color="#e89000"/><stop offset="0.8868" stop-color="#eb9b00"/><stop offset="0.9057" stop-color="#eda600"/><stop offset="0.9245" stop-color="#f0b000"/><stop offset="0.9434" stop-color="#f1b700"/><stop offset="0.9623" stop-color="#f2ba00"/><stop offset="0.9811" stop-color="#f2b900"/><stop offset="1" stop-color="#f2b800"/></linearGradient><linearGradient id="gr25" x1="0" y1="0" x2="0" y2="1"><stop offset="0" stop-color="#000000"/><stop offset="0.01923" stop-color="#19000f"/><stop offset="0.03846" stop-color="#280027"/><stop offset="0.05769" stop-color="#31003b"/><stop offset="0.07692" stop-color="#39004d"/><stop offset="0.09615" stop-color="#3f005e"/><stop offset="0.1154" stop-color="#44006e"/><stop offset="0.1346" stop-color="#49007e"/><stop offset="0.1538" stop-color="#4e008f"/><stop offset="0.1731" stop-color="#54009f"/><stop offset="0.1923" stop-color="#5900af"/><stop offset="0.2115" stop-color="#5d01bf"/><stop offset="0.2308" stop-color="#6201cd"/><stop offset="0.25" stop-color="#6701d9"/><stop offset="0.2692" stop-color="#6b01e4"/><stop offset="0.2885" stop-color="#7002ee"/><stop offset="0.3077" stop-color="#7402f6"/><stop offset="0.3269" stop-color="#7803fb"/><stop offset="0.3462" stop-color="#7c03fe"/><stop offset="0.3654" stop-color="#8004ff"/><stop offset="0.3846" stop-color="#8505fd"/><stop offset="0.4038" stop-color="#8906f8"/><stop offset="0.4231" stop-color="#8d07f0"/><stop offset="0.4423" stop-color="#9108e6"/><stop offset="0.4615" stop-color="#940ad8"/><stop offset="0.4808" stop-color="#980cc8"/><stop offset="0.5" stop-color="#9c0db4"/><stop offset="0.5192" stop-color="#a0109d"/><stop offset="0.5385" stop-color="#a41284"/><stop offset="0.5577" stop-color="#a81567"/><stop offset="0.5769" stop-color="#ac1848"/><stop offset="0.5962" stop-color="#b01b27"/><stop offset="0.6154" stop-color="#b41f04"/><stop offset="0.6346" stop-color="#b82400"/><stop offset="0.6538" stop-color="#bc2800"/><stop offset="0.6731" stop-color="#bf2e00"/><stop offset="0.6923" stop-color="#c33300"/><stop offset="0.7115" stop-color="#c73900"/><stop offset="0.7308" stop-color="#ca4000"/><stop offset="0.75" stop-color="#ce4700"/><stop offset="0.7692" stop-color="#d24f00"/><stop offset="0.7885" stop-color="#d55700"/><stop offset="0.8077" stop-color="#d96100"/><stop offset="0.8269" stop-color="#dd6b00"/><stop offset="0.8462" stop-color="#e07500"/><stop offset="0.8654" stop-color="#e37f00"/><stop offset="0.8846" stop-color="#e68900"/><stop offset="0.9038" stop-color="#e99300"/><stop offset="0.9231" stop-color="#eb9c00"/><stop offset="0.9423" stop-color="#eda400"/><stop offset="0.9615" stop-color="#eeab00"/><stop offset="0.9808" stop-color="#efad00"/><stop offset="1" stop-color="#eeaa00"/></linearGradient><linearGradient id="gr26" x1="0" y1="0" x2="0" y2="1"><stop offset="0" stop-color="#000000"/><stop offset="0.01961" stop-color="#1a0011"/><stop offset="0.03922" stop-color="#290029"/><stop offset="0.05882" stop-color="#32003d"/><stop offset="0.07843" stop-color="#390050"/><stop offset="0.09804" stop-color="#3f0060"/><stop offset="0.1176" stop-color="#450070"/><stop offset="0.1373" stop-color="#4a0080"/><stop offset="0.1569" stop-color="#4f0091"/><stop offset="0.1765" stop-color="#5400a1"/><stop offset="0.1961" stop-color="#5900b1"/><stop offset="0.2157" stop-color="#5e01c1"/><stop offset="0.2353" stop-color="#6301cf"/><stop offset="0.2549" stop-color="#6701db"/><stop offset="0.2745" stop-color="#6c01e6"/><stop offset="0.2941" stop-color="#7002ef"/><stop offset="0.3137" stop-color="#7502f7"/><stop offset="0.3333" stop-color="#7903fc"/><stop offset="0.3529" stop-color="#7d04ff"/><stop offset="0.3725" stop-color="#8104ff"/><stop offset="0.3922" stop-color="#8505fc"/><stop offset="0.4118" stop-color="#8906f7"/><stop offset="0.4314" stop-color="#8d07ee"/><stop offset="0.451" stop-color="#9109e3"/><stop offset="0.4706" stop-color="#950ad5"/><stop offset="0.4902" stop-color="#990cc3"/><stop offset="0.5098" stop-color="#9d0eaf"/><stop offset="0.5294" stop-color="#a11097"/><stop offset="0.549" stop-color="#a5137d"/><stop offset="0.5686" stop-color="#a91660"/><stop offset="0.5882" stop-color="#ad1940"/><stop offset="0.6078" stop-color="#b11c1e"/><stop offset="0.6275" stop-color="#b52000"/><stop offset="0.6471" stop-color="#b92500"/><stop offset="0.6667" stop-color="#bd2a00"/><stop offset="0.6863" stop-color="#c02f00"/><stop offset="0.7059" stop-color="#c43500"/><stop offset="0.7255" stop-color="#c83b00"/><stop offset="0.7451" stop-color="#cb4100"/><stop offset="0.7647" stop-color="#cf4800"/><stop offset="0.7843" stop-color="#d25000"/><stop offset="0.8039" stop-color="#d65800"/><stop offset="0.8235" stop-color="#d96200"/><stop offset="0.8431" stop-color="#dd6b00"/><stop offset="0.8627" stop-color="#e07500"/><stop offset="0.8824" stop-color="#e37e00"/><stop offset="0.902" stop-color="#e58700"/><stop offset="0.9216" stop-color="#e78e00"/><stop offset="0.9412" stop-color="#e99300"/><stop offset="0.9608" stop-color="#ea9700"/><stop offset="0.9804" stop-color="#ea9a00"/><stop offset="1" stop-color="#eb9b00"/></linearGradient><linearGradient id="gr27" x1="0" y1="0" x2="0" y2="1"><stop offset="0" stop-color="#000000"/><stop offset="0.02" stop-color="#1b0012"/><stop offset="0.04" stop-color="#2a002a"/><stop offset="0.06" stop-color="#33003f"/><stop offset="0.08" stop-color="#3a0051"/><stop offset="0.1" stop-color="#400061"/><stop offset="0.12" stop-color="#450071"/><stop offset="0.14" stop-color="#4a0081"/><stop offset="0.16" stop-color="#4f0091"/><stop offset="0.18" stop-color="#5400a2"/><stop offset="0.2" stop-color="#5900b2"/><stop offset="0.22" stop-color="#5e01c1"/><stop offset="0.24" stop-color="#6301cf"/><stop offset="0.26" stop-color="#6701db"/><stop offset="0.28" stop-color="#6c01e6"/><stop offset="0.3" stop-color="#7002ef"/><stop offset="0.32" stop-color="#7502f7"/><stop offset="0.34" stop-color="#7903fc"/><stop offset="0.36" stop-color="#7d04ff"/><stop offset="0.38" stop-color="#8104ff"/><stop offset="0.4" stop-color="#8505fc"/><stop offset="0.42" stop-color="#8906f7"/><stop offset="0.44" stop-color="#8d07ef"/><stop offset="0.46" stop-color="#9109e4"/><stop offset="0.48" stop-color="#950ad6"/><stop offset="0.5" stop-color="#990cc5"/><stop offset="0.52" stop-color="#9d0eb1"/><stop offset="0.54" stop-color="#a1109a"/><stop offset="0.56" stop-color="#a41280"/><stop offset="0.58" stop-color="#a81564"/><stop offset="0.6" stop-color="#ac1845"/><stop offset="0.62" stop-color="#b01c24"/><stop offset="0.64" stop-color="#b42001"/><stop offset="0.66" stop-color="#b82400"/><stop offset="0.68" stop-color="#bc2900"/><stop offset="0.7" stop-color="#bf2e00"/><stop offset="0.72" stop-color="#c33300"/><stop offset="0.74" stop-color="#c73900"/><stop offset="0.76" stop-color="#ca3f00"/><stop offset="0.78" stop-color="#cd4600"/><stop offset="0.8" stop-color="#d14d00"/><stop offset="0.82" stop-color="#d45500"/><stop offset="0.84" stop-color="#d85d00"/><stop offset="0.86" stop-color="#db6600"/><stop offset="0.88" stop-color="#de6e00"/><stop offset="0.9" stop-color="#e17700"/><stop offset="0.92" stop-color="#e37e00"/><stop offset="0.94" stop-color="#e48300"/><stop offset="0.96" stop-color="#e58600"/><stop offset="0.98" stop-color="#e58600"/><stop offset="1" stop-color="#e58500"/></linearGradient><linearGradient id="gr28" x1="0" y1="0" x2="0" y2="1"><stop offset="0" stop-color="#000000"/><stop offset="0.02041" stop-color="#1d0015"/><stop offset="0.04082" stop-color="#2b002d"/><stop offset="0.06122" stop-color="#340041"/><stop offset="0.08163" stop-color="#3b0053"/><stop offset="0.102" stop-color="#400063"/><stop offset="0.1224" stop-color="#460073"/><stop offset="0.1429" stop-color="#4b0083"/><stop offset="0.1633" stop-color="#500093"/><stop offset="0.1837" stop-color="#5500a4"/><stop offset="0.2041" stop-color="#5a00b4"/><stop offset="0.2245" stop-color="#5f01c3"/><stop offset="0.2449" stop-color="#6401d1"/><stop offset="0.2653" stop-color="#6801dd"/><stop offset="0.2857" stop-color="#6d02e8"/><stop offset="0.3061" stop-color="#7102f1"/><stop offset="0.3265" stop-color="#7502f8"/><stop offset="0.3469" stop-color="#7a03fc"/><stop offset="0.3673" stop-color="#7e04ff"/><stop offset="0.3878" stop-color="#8204ff"/><stop offset="0.4082" stop-color="#8605fc"/><stop offset="0.4286" stop-color="#8a06f6"/><stop offset="0.449" stop-color="#8e08ed"/><stop offset="0.4694" stop-color="#9209e1"/><stop offset="0.4898" stop-color="#960bd2"/><stop offset="0.5102" stop-color="#9a0cc0"/><stop offset="0.5306" stop-color="#9e0eac"/><stop offset="0.551" stop-color="#a21194"/><stop offset="0.5714" stop-color="#a51379"/><stop offset="0.5918" stop-color="#a9165c"/><stop offset="0.6122" stop-color="#ad193d"/><stop offset="0.6327" stop-color="#b11d1b"/><stop offset="0.6531" stop-color="#b52100"/><stop offset="0.6735" stop-color="#b92500"/><stop offset="0.6939" stop-color="#bd2a00"/><stop offset="0.7143" stop-color="#c02f00"/><stop offset="0.7347" stop-color="#c43400"/><stop offset="0.7551" stop-color="#c73a00"/><stop offset="0.7755" stop-color="#cb4000"/><stop offset="0.7959" stop-color="#ce4700"/><stop offset="0.8163" stop-color="#d14e00"/><stop offset="0.8367" stop-color="#d45500"/><stop offset="0.8571" stop-color="#d75d00"/><stop offset="0.8776" stop-color="#da6400"/><stop offset="0.898" stop-color="#dd6c00"/><stop offset="0.9184" stop-color="#df7300"/><stop offset="0.9388" stop-color="#e17700"/><stop offset="0.9592" stop-color="#e17800"/><stop offset="0.9796" stop-color="#e17800"/><stop offset="1" stop-color="#e17800"/></linearGradient><linearGradient id="gr29" x1="0" y1="0" x2="0" y2="1"><stop offset="0" stop-color="#000000"/><stop offset="0.02083" stop-color="#1e0016"/><stop offset="0.04167" stop-color="#2c002f"/><stop offset="0.0625" stop-color="#340043"/><stop offset="0.08333" stop-color="#3b0055"/><stop offset="0.1042" stop-color="#410064"/><stop offset="0.125" stop-color="#460074"/><stop offset="0.1458" stop-color="#4b0083"/><stop offset="0.1667" stop-color="#500094"/><stop offset="0.1875" stop-color="#5500a4"/><stop offset="0.2083" stop-color="#5a00b4"/><stop offset="0.2292" stop-color="#5f01c3"/><stop offset="0.25" stop-color="#6401d1"/><stop offset="0.2708" stop-color="#6801dd"/><stop offset="0.2917" stop-color="#6d02e8"/><stop offset="0.3125" stop-color="#7102f1"/><stop offset="0.3333" stop-color="#7502f8"/><stop offset="0.3542" stop-color="#7903fc"/><stop offset="0.375" stop-color="#7e04ff"/><stop offset="0.3958" stop-color="#8204ff"/><stop offset="0.4167" stop-color="#8605fc"/><stop offset="0.4375" stop-color="#8a06f6"/><stop offset="0.4583" stop-color="#8e08ed"/><stop offset="0.4792" stop-color="#9209e2"/><stop offset="0.5" stop-color="#960ad3"/><stop offset="0.5208" stop-color="#9a0cc2"/><stop offset="0.5417" stop-color="#9d0eae"/><stop offset="0.5625" stop-color="#a11097"/><stop offset="0.5833" stop-color="#a5137d"/><stop offset="0.6042" stop-color="#a91561"/><stop offset="0.625" stop-color="#ad1942"/><stop offset="0.6458" stop-color="#b11c21"/><stop offset="0.6667" stop-color="#b42000"/><stop offset="0.6875" stop-color="#b82400"/><stop offset="0.7083" stop-color="#bc2900"/><stop offset="0.7292" stop-color="#bf2e00"/><stop offset="0.75" stop-color="#c33300"/><stop offset="0.7708" stop-color="#c63900"/><stop offset="0.7917" stop-color="#ca3e00"/><stop offset="0.8125" stop-color="#cd4400"/><stop offset="0.8333" stop-color="#d04a00"/><stop offset="0.8542" stop-color="#d25100"/><stop offset="0.875" stop-color="#d55700"/><stop offset="0.8958" stop-color="#d85e00"/><stop offset="0.9167" stop-color="#da6500"/><stop offset="0.9375" stop-color="#dc6a00"/><stop offset="0.9583" stop-color="#dd6d00"/><stop offset="0.9792" stop-color="#dd6c00"/><stop offset="1" stop-color="#dd6b00"/></linearGradient><linearGradient id="gr30" x1="0" y1="0" x2="0" y2="1"><stop offset="0" stop-color="#000000"/><stop offset="0.02128" stop-color="#200019"/><stop offset="0.04255" stop-color="#2d0031"/><stop offset="0.06383" stop-color="#350046"/><stop offset="0.08511" stop-color="#3c0057"/><stop offset="0.1064" stop-color="#410067"/><stop offset="0.1277" stop-color="#470076"/><stop offset="0.1489" stop-color="#4c0086"/><stop offset="0.1702" stop-color="#510096"/><stop offset="0.1915" stop-color="#5600a7"/><stop offset="0.2128" stop-color="#5b01b7"/><stop offset="0.234" stop-color="#6001c6"/><stop offset="0.2553" stop-color="#6501d3"/><stop offset="0.2766" stop-color="#6901df"/><stop offset="0.2979" stop-color="#6e02ea"/><stop offset="0.3191" stop-color="#7202f2"/><stop offset="0.3404" stop-color="#7603f9"/><stop offset="0.3617" stop-color="#7a03fd"/><stop offset="0.383" stop-color="#7e04ff"/><stop offset="0.4043" stop-color="#8305fe"/><stop offset="0.4255" stop-color="#8706fb"/><stop offset="0.4468" stop-color="#8b07f4"/><stop offset="0.4681" stop-color="#8f08eb"/><stop offset="0.4894" stop-color="#9309de"/><stop offset="0.5106" stop-color="#970bcf"/><stop offset="0.5319" stop-color="#9b0dbd"/><stop offset="0.5532" stop-color="#9e0fa8"/><stop offset="0.5745" stop-color="#a21190"/><stop offset="0.5957" stop-color="#a61376"/><stop offset="0.617" stop-color="#aa1659"/><stop offset="0.6383" stop-color="#ae193a"/><stop offset="0.6596" stop-color="#b11d19"/><stop offset="0.6809" stop-color="#b52100"/><stop offset="0.7021" stop-color="#b92500"/><stop offset="0.7234" stop-color="#bd2a00"/><stop offset="0.7447" stop-color="#c02f00"/><stop offset="0.766" stop-color="#c43400"/><stop offset="0.7872" stop-color="#c73a00"/><stop offset="0.8085" stop-color="#ca3f00"/><stop offset="0.8298" stop-color="#cd4500"/><stop offset="0.8511" stop-color="#d04a00"/><stop offset="0.8723" stop-color="#d25000"/><stop offset="0.8936" stop-color="#d55600"/><stop offset="0.9149" stop-color="#d75b00"/><stop offset="0.9362" stop-color="#d85e00"/><stop offset="0.9574" stop-color="#d96000"/><stop offset="0.9787" stop-color="#d96000"/><stop offset="1" stop-color="#d85f00"/></linearGradient><linearGradient id="gr31" x1="0" y1="0" x2="0" y2="1"><stop offset="0" stop-color="#000000"/><stop offset="0.02174" stop-color="#21001b"/><stop offset="0.04348" stop-color="#2e0034"/><stop offset="0.06522" stop-color="#360048"/><stop offset="0.08696" stop-color="#3d0059"/><stop offset="0.1087" stop-color="#420069"/><stop offset="0.1304" stop-color="#470078"/><stop offset="0.1522" stop-color="#4c0088"/><stop offset="0.1739" stop-color="#510098"/><stop offset="0.1957" stop-color="#5700a9"/><stop offset="0.2174" stop-color="#5c01b9"/><stop offset="0.2391" stop-color="#6101c8"/><stop offset="0.2609" stop-color="#6501d6"/><stop offset="0.2826" stop-color="#6a01e1"/><stop offset="0.3043" stop-color="#6e02eb"/><stop offset="0.3261" stop-color="#7302f4"/><stop offset="0.3478" stop-color="#7703fa"/><stop offset="0.3696" stop-color="#7b03fe"/><stop offset="0.3913" stop-color="#7f04ff"/><stop offset="0.413" stop-color="#8405fe"/><stop offset="0.4348" stop-color="#8806fa"/><stop offset="0.4565" stop-color="#8c07f2"/><stop offset="0.4783" stop-color="#9008e8"/><stop offset="0.5" stop-color="#940adb"/><stop offset="0.5217" stop-color="#980bcb"/><stop offset="0.5435" stop-color="#9c0db8"/><stop offset="0.5652" stop-color="#9f0fa2"/><stop offset="0.587" stop-color="#a31289"/><stop offset="0.6087" stop-color="#a7146e"/><stop offset="0.6304" stop-color="#ab1751"/><stop offset="0.6522" stop-color="#af1a32"/><stop offset="0.6739" stop-color="#b21e11"/><stop offset="0.6957" stop-color="#b62200"/><stop offset="0.7174" stop-color="#ba2600"/><stop offset="0.7391" stop-color="#be2b00"/><stop offset="0.7609" stop-color="#c13000"/><stop offset="0.7826" stop-color="#c43500"/><stop offset="0.8043" stop-color="#c83a00"/><stop offset="0.8261" stop-color="#ca4000"/><stop offset="0.8478" stop-color="#cd4500"/><stop offset="0.8696" stop-color="#d04a00"/><stop offset="0.8913" stop-color="#d24f00"/><stop offset="0.913" stop-color="#d45300"/><stop offset="0.9348" stop-color="#d55600"/><stop offset="0.9565" stop-color="#d55700"/><stop offset="0.9783" stop-color="#d55600"/><stop offset="1" stop-color="#d45400"/></linearGradient><linearGradient id="gr32" x1="0" y1="0" x2="0" y2="1"><stop offset="0" stop-color="#000000"/><stop offset="0.02174" stop-color="#22001d"/><stop offset="0.04348" stop-color="#2f0035"/><stop offset="0.06522" stop-color="#370049"/><stop offset="0.08696" stop-color="#3d005a"/><stop offset="0.1087" stop-color="#420069"/><stop offset="0.1304" stop-color="#470078"/><stop offset="0.1522" stop-color="#4c0088"/><stop offset="0.1739" stop-color="#510098"/><stop offset="0.1957" stop-color="#5600a8"/><stop offset="0.2174" stop-color="#5b01b8"/><stop offset="0.2391" stop-color="#6001c7"/><stop offset="0.2609" stop-color="#6501d4"/><stop offset="0.2826" stop-color="#6901e0"/><stop offset="0.3043" stop-color="#6e02ea"/><stop offset="0.3261" stop-color="#7202f3"/><stop offset="0.3478" stop-color="#7603f9"/><stop offset="0.3696" stop-color="#7a03fd"/><stop offset="0.3913" stop-color="#7f04ff"/><stop offset="0.413" stop-color="#8305fe"/><stop offset="0.4348" stop-color="#8706fb"/><stop offset="0.4565" stop-color="#8b07f4"/><stop offset="0.4783" stop-color="#8f08eb"/><stop offset="0.5" stop-color="#9309de"/><stop offset="0.5217" stop-color="#970bcf"/><stop offset="0.5435" stop-color="#9a0dbd"/><stop offset="0.5652" stop-color="#9e0fa9"/><stop offset="0.587" stop-color="#a21192"/><stop offset="0.6087" stop-color="#a61378"/><stop offset="0.6304" stop-color="#a9165c"/><stop offset="0.6522" stop-color="#ad193f"/><stop offset="0.6739" stop-color="#b11c20"/><stop offset="0.6957" stop-color="#b42000"/><stop offset="0.7174" stop-color="#b82400"/><stop offset="0.7391" stop-color="#bc2900"/><stop offset="0.7609" stop-color="#bf2d00"/><stop offset="0.7826" stop-color="#c33200"/><stop offset="0.8043" stop-color="#c63700"/><stop offset="0.8261" stop-color="#c83c00"/><stop offset="0.8478" stop-color="#cb4100"/><stop offset="0.8696" stop-color="#cd4600"/><stop offset="0.8913" stop-color="#cf4a00"/><stop offset="0.913" stop-color="#d14e00"/><stop offset="0.9348" stop-color="#d35100"/><stop offset="0.9565" stop-color="#d35200"/><stop offset="0.9783" stop-color="#d35200"/><stop offset="1" stop-color="#d25100"/></linearGradient><linearGradient id="gr33" x1="0" y1="0" x2="0" y2="1"><stop offset="0" stop-color="#040000"/><stop offset="0.02222" stop-color="#24001f"/><stop offset="0.04444" stop-color="#300038"/><stop offset="0.06667" stop-color="#38004c"/><stop offset="0.08889" stop-color="#3e005c"/><stop offset="0.1111" stop-color="#43006b"/><stop offset="0.1333" stop-color="#48007a"/><stop offset="0.1556" stop-color="#4d008a"/><stop offset="0.1778" stop-color="#52009a"/><stop offset="0.2" stop-color="#5700ab"/><stop offset="0.2222" stop-color="#5c01ba"/><stop offset="0.2444" stop-color="#6101c9"/><stop offset="0.2667" stop-color="#6601d7"/><stop offset="0.2889" stop-color="#6a01e2"/><stop offset="0.3111" stop-color="#6f02ec"/><stop offset="0.3333" stop-color="#7302f4"/><stop offset="0.3556" stop-color="#7703fa"/><stop offset="0.3778" stop-color="#7b03fe"/><stop offset="0.4" stop-color="#7f04ff"/><stop offset="0.4222" stop-color="#8405fe"/><stop offset="0.4444" stop-color="#8806f9"/><stop offset="0.4667" stop-color="#8c07f2"/><stop offset="0.4889" stop-color="#9008e8"/><stop offset="0.5111" stop-color="#940adb"/><stop offset="0.5333" stop-color="#980bcb"/><stop offset="0.5556" stop-color="#9b0db8"/><stop offset="0.5778" stop-color="#9f0fa3"/><stop offset="0.6" stop-color="#a3118b"/><stop offset="0.6222" stop-color="#a71471"/><stop offset="0.6444" stop-color="#aa1755"/><stop offset="0.6667" stop-color="#ae1a37"/><stop offset="0.6889" stop-color="#b21d18"/><stop offset="0.7111" stop-color="#b52100"/><stop offset="0.7333" stop-color="#b92500"/><stop offset="0.7556" stop-color="#bd2a00"/><stop offset="0.7778" stop-color="#c02e00"/><stop offset="0.8" stop-color="#c33300"/><stop offset="0.8222" stop-color="#c63800"/><stop offset="0.8444" stop-color="#c83c00"/><stop offset="0.8667" stop-color="#cb4100"/><stop offset="0.8889" stop-color="#cd4500"/><stop offset="0.9111" stop-color="#cf4900"/><stop offset="0.9333" stop-color="#d04c00"/><stop offset="0.9556" stop-color="#d14e00"/><stop offset="0.9778" stop-color="#d24f00"/><stop offset="1" stop-color="#d25000"/></linearGradient><linearGradient id="gr34" x1="0" y1="0" x2="0" y2="1"><stop offset="0" stop-color="#090002"/><stop offset="0.02273" stop-color="#250021"/><stop offset="0.04545" stop-color="#31003a"/><stop offset="0.06818" stop-color="#39004e"/><stop offset="0.09091" stop-color="#3f005e"/><stop offset="0.1136" stop-color="#44006d"/><stop offset="0.1364" stop-color="#48007c"/><stop offset="0.1591" stop-color="#4d008c"/><stop offset="0.1818" stop-color="#53009c"/><stop offset="0.2045" stop-color="#5800ad"/><stop offset="0.2273" stop-color="#5d01bd"/><stop offset="0.25" stop-color="#6201cb"/><stop offset="0.2727" stop-color="#6601d9"/><stop offset="0.2955" stop-color="#6b01e4"/><stop offset="0.3182" stop-color="#6f02ee"/><stop offset="0.3409" stop-color="#7402f5"/><stop offset="0.3636" stop-color="#7803fb"/><stop offset="0.3864" stop-color="#7c03fe"/><stop offset="0.4091" stop-color="#8004ff"/><stop offset="0.4318" stop-color="#8405fd"/><stop offset="0.4545" stop-color="#8906f8"/><stop offset="0.4773" stop-color="#8d07f0"/><stop offset="0.5" stop-color="#9109e5"/><stop offset="0.5227" stop-color="#950ad7"/><stop offset="0.5455" stop-color="#990cc6"/><stop offset="0.5682" stop-color="#9c0eb3"/><stop offset="0.5909" stop-color="#a0109d"/><stop offset="0.6136" stop-color="#a41285"/><stop offset="0.6364" stop-color="#a8156a"/><stop offset="0.6591" stop-color="#ab174e"/><stop offset="0.6818" stop-color="#af1a30"/><stop offset="0.7045" stop-color="#b21e11"/><stop offset="0.7273" stop-color="#b62200"/><stop offset="0.75" stop-color="#ba2600"/><stop offset="0.7727" stop-color="#bd2b00"/><stop offset="0.7955" stop-color="#c02f00"/><stop offset="0.8182" stop-color="#c33400"/><stop offset="0.8409" stop-color="#c63800"/><stop offset="0.8636" stop-color="#c83c00"/><stop offset="0.8864" stop-color="#cb4100"/><stop offset="0.9091" stop-color="#cd4500"/><stop offset="0.9318" stop-color="#cf4900"/><stop offset="0.9545" stop-color="#d04c00"/><stop offset="0.9773" stop-color="#d14e00"/><stop offset="1" stop-color="#d24f00"/></linearGradient><linearGradient id="gr35" x1="0" y1="0" x2="0" y2="1"><stop offset="0" stop-color="#0c0004"/><stop offset="0.02273" stop-color="#250022"/><stop offset="0.04545" stop-color="#31003b"/><stop offset="0.06818" stop-color="#39004e"/><stop offset="0.09091" stop-color="#3f005f"/><stop offset="0.1136" stop-color="#44006d"/><stop offset="0.1364" stop-color="#48007b"/><stop offset="0.1591" stop-color="#4d008b"/><stop offset="0.1818" stop-color="#52009b"/><stop offset="0.2045" stop-color="#5700ac"/><stop offset="0.2273" stop-color="#5c01bb"/><stop offset="0.25" stop-color="#6101ca"/><stop offset="0.2727" stop-color="#6601d7"/><stop offset="0.2955" stop-color="#6a01e3"/><stop offset="0.3182" stop-color="#6f02ec"/><stop offset="0.3409" stop-color="#7302f4"/><stop offset="0.3636" stop-color="#7703fa"/><stop offset="0.3864" stop-color="#7b03fe"/><stop offset="0.4091" stop-color="#7f04ff"/><stop offset="0.4318" stop-color="#8305fe"/><stop offset="0.4545" stop-color="#8806fa"/><stop offset="0.4773" stop-color="#8c07f3"/><stop offset="0.5" stop-color="#9008e9"/><stop offset="0.5227" stop-color="#940adc"/><stop offset="0.5455" stop-color="#970bcc"/><stop offset="0.5682" stop-color="#9b0db9"/><stop offset="0.5909" stop-color="#9f0fa5"/><stop offset="0.6136" stop-color="#a3118e"/><stop offset="0.6364" stop-color="#a61474"/><stop offset="0.6591" stop-color="#aa165a"/><stop offset="0.6818" stop-color="#ad193d"/><stop offset="0.7045" stop-color="#b11c20"/><stop offset="0.7273" stop-color="#b42001"/><stop offset="0.75" stop-color="#b82400"/><stop offset="0.7727" stop-color="#bb2800"/><stop offset="0.7955" stop-color="#be2c00"/><stop offset="0.8182" stop-color="#c13000"/><stop offset="0.8409" stop-color="#c43400"/><stop offset="0.8636" stop-color="#c63800"/><stop offset="0.8864" stop-color="#c93d00"/><stop offset="0.9091" stop-color="#cb4100"/><stop offset="0.9318" stop-color="#cd4500"/><stop offset="0.9545" stop-color="#cf4900"/><stop offset="0.9773" stop-color="#d14d00"/><stop offset="1" stop-color="#d25100"/></linearGradient><linearGradient id="gr36" x1="0" y1="0" x2="0" y2="1"><stop offset="0" stop-color="#0f0005"/><stop offset="0.02273" stop-color="#260024"/><stop offset="0.04545" stop-color="#32003c"/><stop offset="0.06818" stop-color="#390050"/><stop offset="0.09091" stop-color="#3f0060"/><stop offset="0.1136" stop-color="#44006e"/><stop offset="0.1364" stop-color="#48007c"/><stop offset="0.1591" stop-color="#4d008b"/><stop offset="0.1818" stop-color="#52009c"/><stop offset="0.2045" stop-color="#5800ac"/><stop offset="0.2273" stop-color="#5d01bc"/><stop offset="0.25" stop-color="#6201cb"/><stop offset="0.2727" stop-color="#6601d8"/><stop offset="0.2955" stop-color="#6b01e3"/><stop offset="0.3182" stop-color="#6f02ed"/><stop offset="0.3409" stop-color="#7302f4"/><stop offset="0.3636" stop-color="#7703fa"/><stop offset="0.3864" stop-color="#7b03fe"/><stop offset="0.4091" stop-color="#8004ff"/><stop offset="0.4318" stop-color="#8405fe"/><stop offset="0.4545" stop-color="#8806f9"/><stop offset="0.4773" stop-color="#8c07f2"/><stop offset="0.5" stop-color="#9008e8"/><stop offset="0.5227" stop-color="#940adb"/><stop offset="0.5455" stop-color="#980bcb"/><stop offset="0.5682" stop-color="#9b0db9"/><stop offset="0.5909" stop-color="#9f0fa4"/><stop offset="0.6136" stop-color="#a3118d"/><stop offset="0.6364" stop-color="#a61474"/><stop offset="0.6591" stop-color="#aa1659"/><stop offset="0.6818" stop-color="#ad193d"/><stop offset="0.7045" stop-color="#b11c20"/><stop offset="0.7273" stop-color="#b42002"/><stop offset="0.75" stop-color="#b82400"/><stop offset="0.7727" stop-color="#bb2800"/><stop offset="0.7955" stop-color="#be2c00"/><stop offset="0.8182" stop-color="#c13000"/><stop offset="0.8409" stop-color="#c33300"/><stop offset="0.8636" stop-color="#c53700"/><stop offset="0.8864" stop-color="#c83b00"/><stop offset="0.9091" stop-color="#ca3f00"/><stop offset="0.9318" stop-color="#cd4400"/><stop offset="0.9545" stop-color="#cf4900"/><stop offset="0.9773" stop-color="#d24f00"/><stop offset="1" stop-color="#d45400"/></linearGradient><linearGradient id="gr37" x1="0" y1="0" x2="0" y2="1"><stop offset="0" stop-color="#100006"/><stop offset="0.02273" stop-color="#270025"/><stop offset="0.04545" stop-color="#32003e"/><stop offset="0.06818" stop-color="#3a0051"/><stop offset="0.09091" stop-color="#3f0060"/><stop offset="0.1136" stop-color="#44006e"/><stop offset="0.1364" stop-color="#49007d"/><stop offset="0.1591" stop-color="#4e008c"/><stop offset="0.1818" stop-color="#53009c"/><stop offset="0.2045" stop-color="#5800ad"/><stop offset="0.2273" stop-color="#5d01bc"/><stop offset="0.25" stop-color="#6201cb"/><stop offset="0.2727" stop-color="#6601d8"/><stop offset="0.2955" stop-color="#6b01e3"/><stop offset="0.3182" stop-color="#6f02ed"/><stop offset="0.3409" stop-color="#7302f5"/><stop offset="0.3636" stop-color="#7703fa"/><stop offset="0.3864" stop-color="#7c03fe"/><stop offset="0.4091" stop-color="#8004ff"/><stop offset="0.4318" stop-color="#8405fe"/><stop offset="0.4545" stop-color="#8806f9"/><stop offset="0.4773" stop-color="#8c07f2"/><stop offset="0.5" stop-color="#9008e8"/><stop offset="0.5227" stop-color="#940adb"/><stop offset="0.5455" stop-color="#980bcb"/><stop offset="0.5682" stop-color="#9b0db8"/><stop offset="0.5909" stop-color="#9f0fa3"/><stop offset="0.6136" stop-color="#a3118c"/><stop offset="0.6364" stop-color="#a61473"/><stop offset="0.6591" stop-color="#aa1659"/><stop offset="0.6818" stop-color="#ad193d"/><stop offset="0.7045" stop-color="#b11c20"/><stop offset="0.7273" stop-color="#b42002"/><stop offset="0.75" stop-color="#b82300"/><stop offset="0.7727" stop-color="#bb2700"/><stop offset="0.7955" stop-color="#be2b00"/><stop offset="0.8182" stop-color="#c02f00"/><stop offset="0.8409" stop-color="#c23200"/><stop offset="0.8636" stop-color="#c43500"/><stop offset="0.8864" stop-color="#c63800"/><stop offset="0.9091" stop-color="#c83c00"/><stop offset="0.9318" stop-color="#cc4200"/><stop offset="0.9545" stop-color="#cf4a00"/><stop offset="0.9773" stop-color="#d35100"/><stop offset="1" stop-color="#d55800"/></linearGradient><linearGradient id="gr38" x1="0" y1="0" x2="0" y2="1"><stop offset="0" stop-color="#100006"/><stop offset="0.02326" stop-color="#270026"/><stop offset="0.04651" stop-color="#33003e"/><stop offset="0.06977" stop-color="#3a0051"/><stop offset="0.09302" stop-color="#3f0061"/><stop offset="0.1163" stop-color="#44006f"/><stop offset="0.1395" stop-color="#49007d"/><stop offset="0.1628" stop-color="#4e008d"/><stop offset="0.186" stop-color="#53009e"/><stop offset="0.2093" stop-color="#5800ae"/><stop offset="0.2326" stop-color="#5d01be"/><stop offset="0.2558" stop-color="#6201cc"/><stop offset="0.2791" stop-color="#6701d9"/><stop offset="0.3023" stop-color="#6b01e5"/><stop offset="0.3256" stop-color="#7002ee"/><stop offset="0.3488" stop-color="#7402f6"/><stop offset="0.3721" stop-color="#7803fb"/><stop offset="0.3953" stop-color="#7c03fe"/><stop offset="0.4186" stop-color="#8004ff"/><stop offset="0.4419" stop-color="#8405fd"/><stop offset="0.4651" stop-color="#8906f8"/><stop offset="0.4884" stop-color="#8d07f0"/><stop offset="0.5116" stop-color="#9108e6"/><stop offset="0.5349" stop-color="#950ad8"/><stop offset="0.5581" stop-color="#980cc7"/><stop offset="0.5814" stop-color="#9c0db4"/><stop offset="0.6047" stop-color="#a0109e"/><stop offset="0.6279" stop-color="#a41287"/><stop offset="0.6512" stop-color="#a7146e"/><stop offset="0.6744" stop-color="#ab1753"/><stop offset="0.6977" stop-color="#ae1a36"/><stop offset="0.7209" stop-color="#b21d19"/><stop offset="0.7442" stop-color="#b52100"/><stop offset="0.7674" stop-color="#b82400"/><stop offset="0.7907" stop-color="#bc2800"/><stop offset="0.814" stop-color="#be2c00"/><stop offset="0.8372" stop-color="#c12f00"/><stop offset="0.8605" stop-color="#c23200"/><stop offset="0.8837" stop-color="#c33400"/><stop offset="0.907" stop-color="#c53600"/><stop offset="0.9302" stop-color="#c73a00"/><stop offset="0.9535" stop-color="#cc4200"/><stop offset="0.9767" stop-color="#d25000"/><stop offset="1" stop-color="#d65900"/></linearGradient></defs>
<rect width="830" height="571" fill="#fff"/>
<rect x="83.00" y="57.50" width="307.10" height="428.00" fill="#999999"/>
<rect x="415.15" y="57.50" width="307.10" height="428.00" fill="#999999"/>
<g shape-rendering="crispEdges"><rect x="82.95" y="341.80" width="8.17" height="143.70" fill="url(#gl0)"/><rect x="90.82" y="346.13" width="8.17" height="139.37" fill="url(#gl1)"/><rect x="98.70" y="346.13" width="8.17" height="139.37" fill="url(#gl2)"/><rect x="106.57" y="350.46" width="8.17" height="135.04" fill="url(#gl3)"/><rect x="114.45" y="354.79" width="8.17" height="130.71" fill="url(#gl4)"/><rect x="122.32" y="354.79" width="8.17" height="130.71" fill="url(#gl5)"/><rect x="130.20" y="363.45" width="8.17" height="122.05" fill="url(#gl6)"/><rect x="138.07" y="367.78" width="8.17" height="117.72" fill="url(#gl7)"/><rect x="145.94" y="372.11" width="8.17" height="113.39" fill="url(#gl8)"/><rect x="153.82" y="380.77" width="8.17" height="104.73" fill="url(#gl9)"/><rect x="161.69" y="385.10" width="8.17" height="100.40" fill="url(#gl10)"/><rect x="169.57" y="393.76" width="8.17" height="91.74" fill="url(#gl11)"/><rect x="177.44" y="398.09" width="8.17" height="87.41" fill="url(#gl12)"/><rect x="185.32" y="406.75" width="8.17" height="78.75" fill="url(#gl13)"/><rect x="193.19" y="411.08" width="8.17" height="74.42" fill="url(#gl14)"/><rect x="201.07" y="415.41" width="8.17" height="70.09" fill="url(#gl15)"/><rect x="208.94" y="419.74" width="8.17" height="65.76" fill="url(#gl16)"/><rect x="216.81" y="424.07" width="8.17" height="61.43" fill="url(#gl17)"/><rect x="224.69" y="424.07" width="8.17" height="61.43" fill="url(#gl18)"/><rect x="232.56" y="424.07" width="8.17" height="61.43" fill="url(#gl19)"/><rect x="240.44" y="424.07" width="8.17" height="61.43" fill="url(#gl20)"/><rect x="248.31" y="424.07" width="8.17" height="61.43" fill="url(#gl21)"/><rect x="256.19" y="419.74" width="8.17" height="65.76" fill="url(#gl22)"/><rect x="264.06" y="415.41" width="8.17" height="70.09" fill="url(#gl23)"/><rect x="271.93" y="411.08" width="8.17" height="74.42" fill="url(#gl24)"/><rect x="279.81" y="406.75" width="8.17" height="78.75" fill="url(#gl25)"/><rect x="287.68" y="398.09" width="8.17" height="87.41" fill="url(#gl26)"/><rect x="295.56" y="393.76" width="8.17" height="91.74" fill="url(#gl27)"/><rect x="303.43" y="385.10" width="8.17" height="100.40" fill="url(#gl28)"/><rect x="311.31" y="380.77" width="8.17" height="104.73" fill="url(#gl29)"/><rect x="319.18" y="372.11" width="8.17" height="113.39" fill="url(#gl30)"/><rect x="327.06" y="367.78" width="8.17" height="117.72" fill="url(#gl31)"/><rect x="334.93" y="363.45" width="8.17" height="122.05" fill="url(#gl32)"/><rect x="342.80" y="354.79" width="8.17" height="130.71" fill="url(#gl33)"/><rect x="350.68" y="354.79" width="8.17" height="130.71" fill="url(#gl34)"/><rect x="358.55" y="350.46" width="8.17" height="135.04" fill="url(#gl35)"/><rect x="366.43" y="346.13" width="8.17" height="139.37" fill="url(#gl36)"/><rect x="374.30" y="346.13" width="8.17" height="139.37" fill="url(#gl37)"/><rect x="382.18" y="341.80" width="8.17" height="143.70" fill="url(#gl38)"/><rect x="415.10" y="57.50" width="8.17" height="279.97" fill="url(#gr0)"/><rect x="422.97" y="57.50" width="8.17" height="284.30" fill="url(#gr1)"/><rect x="430.85" y="57.50" width="8.17" height="284.30" fill="url(#gr2)"/><rect x="438.72" y="57.50" width="8.17" height="284.30" fill="url(#gr3)"/><rect x="446.60" y="57.50" width="8.17" height="288.63" fill="url(#gr4)"/><rect x="454.47" y="57.50" width="8.17" height="292.96" fill="url(#gr5)"/><rect x="462.35" y="57.50" width="8.17" height="297.29" fill="url(#gr6)"/><rect x="470.22" y="57.50" width="8.17" height="301.62" fill="url(#gr7)"/><rect x="478.09" y="57.50" width="8.17" height="305.95" fill="url(#gr8)"/><rect x="485.97" y="57.50" width="8.17" height="310.28" fill="url(#gr9)"/><rect x="493.84" y="57.50" width="8.17" height="318.94" fill="url(#gr10)"/><rect x="501.72" y="57.50" width="8.17" height="323.27" fill="url(#gr11)"/><rect x="509.59" y="57.50" width="8.17" height="331.93" fill="url(#gr12)"/><rect x="517.47" y="57.50" width="8.17" height="336.26" fill="url(#gr13)"/><rect x="525.34" y="57.50" width="8.17" height="344.92" fill="url(#gr14)"/><rect x="533.22" y="57.50" width="8.17" height="349.25" fill="url(#gr15)"/><rect x="541.09" y="57.50" width="8.17" height="353.58" fill="url(#gr16)"/><rect x="548.96" y="57.50" width="8.17" height="357.91" fill="url(#gr17)"/><rect x="556.84" y="57.50" width="8.17" height="362.24" fill="url(#gr18)"/><rect x="564.71" y="57.50" width="8.17" height="362.24" fill="url(#gr19)"/><rect x="572.59" y="57.50" width="8.17" height="362.24" fill="url(#gr20)"/><rect x="580.46" y="57.50" width="8.17" height="357.91" fill="url(#gr21)"/><rect x="588.34" y="57.50" width="8.17" height="353.58" fill="url(#gr22)"/><rect x="596.21" y="57.50" width="8.17" height="349.25" fill="url(#gr23)"/><rect x="604.08" y="57.50" width="8.17" height="344.92" fill="url(#gr24)"/><rect x="611.96" y="57.50" width="8.17" height="336.26" fill="url(#gr25)"/><rect x="619.83" y="57.50" width="8.17" height="331.93" fill="url(#gr26)"/><rect x="627.71" y="57.50" width="8.17" height="323.27" fill="url(#gr27)"/><rect x="635.58" y="57.50" width="8.17" height="318.94" fill="url(#gr28)"/><rect x="643.46" y="57.50" width="8.17" height="310.28" fill="url(#gr29)"/><rect x="651.33" y="57.50" width="8.17" height="305.95" fill="url(#gr30)"/><rect x="659.21" y="57.50" width="8.17" height="301.62" fill="url(#gr31)"/><rect x="667.08" y="57.50" width="8.17" height="297.29" fill="url(#gr32)"/><rect x="674.95" y="57.50" width="8.17" height="292.96" fill="url(#gr33)"/><rect x="682.83" y="57.50" width="8.17" height="288.63" fill="url(#gr34)"/><rect x="690.70" y="57.50" width="8.17" height="284.30" fill="url(#gr35)"/><rect x="698.58" y="57.50" width="8.17" height="284.30" fill="url(#gr36)"/><rect x="706.45" y="57.50" width="8.17" height="284.30" fill="url(#gr37)"/><rect x="714.33" y="57.50" width="8.17" height="279.97" fill="url(#gr38)"/></g>
<path d="M83.0 372.0 85.0 372.1 87.0 372.1 89.0 372.0 91.0 371.8 93.0 371.6 95.0 371.6 97.0 371.6 99.0 371.7 100.9 371.8 102.9 372.0 104.9 372.2 106.9 372.2 108.9 372.2 110.9 372.2 112.9 372.0 114.9 371.9 116.9 371.6 117.8 371.5 118.9 371.3 120.9 370.7 122.9 370.0 124.0 369.5 124.9 368.9 126.5 367.5 126.9 367.1 127.9 365.5 128.5 363.5 128.5 361.5 128.0 359.5 127.0 357.5 126.9 357.3 124.9 355.6 124.8 355.5 124.9 355.3 126.1 353.5 126.9 353.1 128.9 352.1 129.7 351.5 130.9 351.0 132.9 350.0 133.7 349.5 134.8 349.0 136.8 347.9 137.5 347.5 138.8 346.8 140.8 345.8 141.3 345.5 142.8 344.7 144.8 343.7 145.1 343.5 146.8 342.7 148.8 341.7 149.1 341.5 150.8 340.7 152.8 339.7 153.3 339.5 154.8 338.8 156.8 337.9 157.7 337.5 158.8 337.0 160.8 336.2 162.4 335.5 162.8 335.4 164.8 334.6 166.8 333.8 167.6 333.5 168.7 333.1 170.7 332.4 172.7 331.7 173.3 331.5 174.7 331.0 176.7 330.4 178.7 329.8 179.6 329.5 180.7 329.2 182.7 328.6 184.7 328.1 186.7 327.5 186.8 327.5 188.7 327.0 190.7 326.6 192.7 326.1 194.7 325.7 195.5 325.5 196.7 325.3 198.7 324.9 200.7 324.5 202.6 324.2 204.6 323.8 206.6 323.5 206.8 323.5 208.6 323.2 210.6 323.0 212.6 322.7 214.6 322.5 216.6 322.3 218.6 322.1 220.6 322.0 222.6 321.8 224.6 321.7 226.6 321.6 228.3 321.5 228.6 321.5 230.6 321.4 232.6 321.4 234.6 321.3 236.6 321.3 238.5 321.3 240.5 321.4 242.5 321.4 244.5 321.5 244.8 321.5 246.5 321.6 248.5 321.7 250.5 321.8 252.5 322.0 254.5 322.1 256.5 322.3 258.5 322.5 260.5 322.7 262.5 323.0 264.5 323.2 266.3 323.5 266.5 323.5 268.5 323.8 270.5 324.2 272.4 324.5 274.4 324.9 276.4 325.3 277.6 325.5 278.4 325.7 280.4 326.1 282.4 326.6 284.4 327.0 286.3 327.5 286.4 327.5 288.4 328.1 290.4 328.6 292.4 329.2 293.5 329.5 294.4 329.8 296.4 330.4 298.4 331.0 299.8 331.5 300.4 331.7 302.4 332.4 304.4 333.1 305.5 333.5 306.3 333.8 308.3 334.6 310.3 335.4 310.7 335.5 312.3 336.2 314.3 337.0 315.4 337.5 316.3 337.9 318.3 338.8 319.8 339.5 320.3 339.7 322.3 340.7 324.0 341.5 324.3 341.7 326.3 342.7 328.0 343.5 328.3 343.7 330.3 344.7 331.8 345.5 332.3 345.8 334.3 346.8 335.6 347.5 336.3 347.9 338.3 349.0 339.4 349.5 340.2 350.0 342.2 351.0 343.4 351.5 344.2 352.1 346.2 353.1 347.0 353.5 348.2 355.3 348.3 355.5 348.2 355.6 346.2 357.3 346.1 357.5 345.1 359.5 344.6 361.5 344.6 363.5 345.2 365.5 346.2 367.1 346.6 367.5 348.2 368.9 349.1 369.5 350.2 370.0 352.2 370.7 354.2 371.3 355.3 371.5 356.2 371.6 358.2 371.9 360.2 372.0 362.2 372.2 364.2 372.2 366.2 372.2 368.2 372.2 370.2 372.0 372.2 371.8 374.1 371.7 376.1 371.6 378.1 371.6 380.1 371.6 382.1 371.8 384.1 372.0 386.1 372.1 388.1 372.1 390.1 372.0M83.0 388.1 85.0 388.4 87.0 388.7 89.0 388.9 91.0 389.1 93.0 389.3 95.0 389.4 95.9 389.5 97.0 389.6 99.0 389.8 100.9 390.0 102.9 390.3 104.9 390.6 106.9 390.9 108.9 391.3 109.9 391.5 110.9 391.7 112.9 392.1 114.9 392.5 116.9 392.9 118.9 393.4 119.5 393.5 120.9 393.8 122.9 394.1 124.9 394.5 126.9 394.9 128.9 395.3 130.0 395.5 130.9 395.7 132.9 396.1 134.8 396.5 136.8 396.9 138.8 397.3 140.1 397.5 140.8 397.6 142.8 398.0 144.8 398.3 146.8 398.6 148.8 398.9 150.8 399.2 152.8 399.4 153.3 399.5 154.8 399.6 156.8 399.8 158.8 399.8 160.8 399.6 161.5 399.5 162.8 399.2 164.8 398.4 166.2 397.5 166.8 397.0 167.9 395.5 168.7 393.5 168.7 393.2 168.9 391.5 168.7 390.6 168.5 389.5 167.7 387.5 167.3 385.5 167.5 383.5 168.2 381.5 168.7 380.3 169.1 379.5 170.2 377.5 170.7 376.5 171.4 375.5 172.7 373.5 172.7 373.4 174.2 371.5 174.7 370.8 175.8 369.5 176.7 368.4 177.6 367.5 178.7 366.3 179.6 365.5 180.7 364.5 181.8 363.5 182.7 362.8 184.3 361.5 184.7 361.2 186.7 359.8 187.1 359.5 188.7 358.5 190.4 357.5 190.7 357.3 192.7 356.2 194.1 355.5 194.7 355.2 196.7 354.3 198.6 353.5 198.7 353.5 200.7 352.7 202.6 352.0 204.0 351.5 204.6 351.3 206.6 350.7 208.6 350.1 210.6 349.6 211.0 349.5 212.6 349.1 214.6 348.7 216.6 348.3 218.6 348.0 220.6 347.7 221.9 347.5 222.6 347.4 224.6 347.2 226.6 347.0 228.6 346.8 230.6 346.7 232.6 346.6 234.6 346.6 236.6 346.6 238.5 346.6 240.5 346.6 242.5 346.7 244.5 346.8 246.5 347.0 248.5 347.2 250.5 347.4 251.2 347.5 252.5 347.7 254.5 348.0 256.5 348.3 258.5 348.7 260.5 349.1 262.1 349.5 262.5 349.6 264.5 350.1 266.5 350.7 268.5 351.3 269.1 351.5 270.5 352.0 272.4 352.7 274.4 353.5 274.5 353.5 276.4 354.3 278.4 355.2 279.0 355.5 280.4 356.2 282.4 357.3 282.7 357.5 284.4 358.5 286.0 359.5 286.4 359.8 288.4 361.2 288.8 361.5 290.4 362.8 291.3 363.5 292.4 364.5 293.5 365.5 294.4 366.3 295.5 367.5 296.4 368.4 297.3 369.5 298.4 370.8 298.9 371.5 300.4 373.4 300.4 373.5 301.7 375.5 302.4 376.5 302.9 377.5 304.0 379.5 304.4 380.3 304.9 381.5 305.6 383.5 305.8 385.5 305.4 387.5 304.6 389.5 304.4 390.6 304.2 391.5 304.4 393.2 304.4 393.5 305.2 395.5 306.3 397.0 306.9 397.5 308.3 398.4 310.3 399.2 311.6 399.5 312.3 399.6 314.3 399.8 316.3 399.8 318.3 399.6 319.8 399.5 320.3 399.4 322.3 399.2 324.3 398.9 326.3 398.6 328.3 398.3 330.3 398.0 332.3 397.6 333.0 397.5 334.3 397.3 336.3 396.9 338.3 396.5 340.2 396.1 342.2 395.7 343.1 395.5 344.2 395.3 346.2 394.9 348.2 394.5 350.2 394.1 352.2 393.8 353.6 393.5 354.2 393.4 356.2 392.9 358.2 392.5 360.2 392.1 362.2 391.7 363.2 391.5 364.2 391.3 366.2 390.9 368.2 390.6 370.2 390.3 372.2 390.0 374.1 389.8 376.1 389.6 377.2 389.5 378.1 389.4 380.1 389.3 382.1 389.1 384.1 388.9 386.1 388.7 388.1 388.4 390.1 388.1M83.0 409.5 83.0 409.5 85.0 409.7 87.0 409.9 89.0 410.0 91.0 410.2 93.0 410.4 95.0 410.6 97.0 411.0 99.0 411.3 100.2 411.5 100.9 411.6 102.9 412.0 104.9 412.3 106.9 412.7 108.9 413.1 110.7 413.5 110.9 413.5 112.9 414.0 114.9 414.4 116.9 414.8 118.9 415.3 119.8 415.5 120.9 415.8 122.9 416.3 124.9 416.8 126.9 417.3 127.4 417.5 128.9 417.9 130.9 418.6 132.9 419.3 133.5 419.5 134.8 420.0 136.8 420.7 138.8 421.5 138.9 421.5 140.8 422.3 142.8 423.1 143.8 423.5 144.8 423.9 146.8 424.8 148.5 425.5 148.8 425.6 150.8 426.5 152.8 427.4 153.0 427.5 154.8 428.3 156.8 429.2 157.4 429.5 158.8 430.1 160.8 431.1 161.6 431.5 162.8 432.1 164.8 433.2 165.4 433.5 166.8 434.2 168.7 435.3 169.1 435.5 170.7 436.3 172.7 437.4 172.9 437.5 174.7 438.5 176.7 439.5 176.8 439.5 178.7 440.4 180.7 441.5 180.8 441.5 182.7 442.4 184.7 443.3 185.2 443.5 186.7 444.1 188.7 444.9 190.1 445.5 190.7 445.7 192.7 446.5 194.7 447.2 195.5 447.5 196.7 447.9 198.7 448.5 200.7 449.1 202.2 449.5 202.6 449.6 204.6 450.1 206.6 450.5 208.6 450.9 210.6 451.2 212.3 451.5 212.6 451.6 214.6 451.8 216.6 451.9 218.6 452.1 220.6 452.2 222.6 452.3 224.6 452.3 226.6 452.4 228.6 452.5 230.6 452.5 232.6 452.6 234.6 452.6 236.6 452.6 238.5 452.6 240.5 452.6 242.5 452.5 244.5 452.5 246.5 452.4 248.5 452.3 250.5 452.3 252.5 452.2 254.5 452.1 256.5 451.9 258.5 451.8 260.5 451.6 260.8 451.5 262.5 451.2 264.5 450.9 266.5 450.5 268.5 450.1 270.5 449.6 270.9 449.5 272.4 449.1 274.4 448.5 276.4 447.9 277.6 447.5 278.4 447.2 280.4 446.5 282.4 445.7 283.0 445.5 284.4 444.9 286.4 444.1 287.9 443.5 288.4 443.3 290.4 442.4 292.3 441.5 292.4 441.5 294.4 440.4 296.3 439.5 296.4 439.5 298.4 438.5 300.2 437.5 300.4 437.4 302.4 436.3 304.0 435.5 304.4 435.3 306.3 434.2 307.7 433.5 308.3 433.2 310.3 432.1 311.5 431.5 312.3 431.1 314.3 430.1 315.7 429.5 316.3 429.2 318.3 428.3 320.1 427.5 320.3 427.4 322.3 426.5 324.3 425.6 324.6 425.5 326.3 424.8 328.3 423.9 329.3 423.5 330.3 423.1 332.3 422.3 334.2 421.5 334.3 421.5 336.3 420.7 338.3 420.0 339.6 419.5 340.2 419.3 342.2 418.6 344.2 417.9 345.7 417.5 346.2 417.3 348.2 416.8 350.2 416.3 352.2 415.8 353.3 415.5 354.2 415.3 356.2 414.8 358.2 414.4 360.2 414.0 362.2 413.5 362.4 413.5 364.2 413.1 366.2 412.7 368.2 412.3 370.2 412.0 372.2 411.6 372.9 411.5 374.1 411.3 376.1 411.0 378.1 410.6 380.1 410.4 382.1 410.2 384.1 410.0 386.1 409.9 388.1 409.7 390.1 409.5 390.1 409.5M83.0 417.3 84.7 417.5 85.0 417.5 87.0 417.7 89.0 417.8 91.0 418.0 93.0 418.2 95.0 418.5 97.0 418.7 99.0 419.1 100.9 419.4 101.4 419.5 102.9 419.8 104.9 420.1 106.9 420.5 108.9 421.0 110.9 421.4 111.4 421.5 112.9 421.8 114.9 422.3 116.9 422.7 118.9 423.2 120.0 423.5 120.9 423.7 122.9 424.3 124.9 424.8 126.9 425.4 127.1 425.5 128.9 426.1 130.9 426.9 132.5 427.5 132.9 427.7 134.8 428.5 136.8 429.3 137.4 429.5 138.8 430.1 140.8 431.0 141.8 431.5 142.8 432.0 144.8 432.9 146.0 433.5 146.8 433.9 148.8 434.9 150.0 435.5 150.8 435.9 152.8 436.9 154.0 437.5 154.8 437.9 156.8 438.8 158.1 439.5 158.8 439.9 160.8 440.9 162.0 441.5 162.8 441.9 164.8 442.9 165.8 443.5 166.8 444.0 168.7 445.1 169.5 445.5 170.7 446.1 172.7 447.2 173.2 447.5 174.7 448.4 176.7 449.5 176.7 449.5 178.7 450.6 180.4 451.5 180.7 451.7 182.7 452.8 183.9 453.5 184.7 453.9 186.7 455.0 187.5 455.5 188.7 456.2 190.7 457.3 191.1 457.5 192.7 458.4 194.6 459.5 194.7 459.5 196.7 460.7 198.2 461.5 198.7 461.7 200.7 462.7 202.4 463.5 202.6 463.6 204.6 464.5 206.6 465.4 206.8 465.5 208.6 466.2 210.6 467.0 211.8 467.5 212.6 467.8 214.6 468.5 216.6 469.1 218.1 469.5 218.6 469.7 220.6 470.2 222.6 470.6 224.6 471.0 226.6 471.3 227.9 471.5 228.6 471.6 230.6 471.8 232.6 471.9 234.6 472.0 236.6 472.1 238.5 472.0 240.5 471.9 242.5 471.8 244.5 471.6 245.2 471.5 246.5 471.3 248.5 471.0 250.5 470.6 252.5 470.2 254.5 469.7 255.0 469.5 256.5 469.1 258.5 468.5 260.5 467.8 261.3 467.5 262.5 467.0 264.5 466.2 266.3 465.5 266.5 465.4 268.5 464.5 270.5 463.6 270.7 463.5 272.4 462.7 274.4 461.7 274.9 461.5 276.4 460.7 278.4 459.5 278.5 459.5 280.4 458.4 282.0 457.5 282.4 457.3 284.4 456.2 285.6 455.5 286.4 455.0 288.4 453.9 289.2 453.5 290.4 452.8 292.4 451.7 292.7 451.5 294.4 450.6 296.4 449.5 296.4 449.5 298.4 448.4 299.9 447.5 300.4 447.2 302.4 446.1 303.6 445.5 304.4 445.1 306.3 444.0 307.3 443.5 308.3 442.9 310.3 441.9 311.1 441.5 312.3 440.9 314.3 439.9 315.0 439.5 316.3 438.8 318.3 437.9 319.1 437.5 320.3 436.9 322.3 435.9 323.1 435.5 324.3 434.9 326.3 433.9 327.1 433.5 328.3 432.9 330.3 432.0 331.3 431.5 332.3 431.0 334.3 430.1 335.7 429.5 336.3 429.3 338.3 428.5 340.2 427.7 340.6 427.5 342.2 426.9 344.2 426.1 346.0 425.5 346.2 425.4 348.2 424.8 350.2 424.3 352.2 423.7 353.1 423.5 354.2 423.2 356.2 422.7 358.2 422.3 360.2 421.8 361.7 421.5 362.2 421.4 364.2 421.0 366.2 420.5 368.2 420.1 370.2 419.8 371.7 419.5 372.2 419.4 374.1 419.1 376.1 418.7 378.1 418.5 380.1 418.2 382.1 418.0 384.1 417.8 386.1 417.7 388.1 417.5 388.4 417.5 390.1 417.3M83.0 424.5 85.0 424.7 87.0 424.9 89.0 425.0 91.0 425.2 93.0 425.5 93.1 425.5 95.0 425.7 97.0 426.0 99.0 426.3 100.9 426.6 102.9 427.0 104.9 427.3 106.0 427.5 106.9 427.7 108.9 428.1 110.9 428.5 112.9 428.9 114.9 429.3 115.6 429.5 116.9 429.8 118.9 430.4 120.9 430.9 122.5 431.5 122.9 431.6 124.9 432.4 126.9 433.2 127.5 433.5 128.9 434.1 130.9 434.9 132.5 435.5 132.9 435.6 134.8 436.4 136.8 437.2 137.6 437.5 138.8 438.0 140.8 438.9 142.2 439.5 142.8 439.8 144.8 440.8 146.2 441.5 146.8 441.8 148.8 442.9 150.0 443.5 150.8 443.9 152.8 445.0 153.7 445.5 154.8 446.0 156.8 447.1 157.6 447.5 158.8 448.1 160.8 449.1 161.6 449.5 162.8 450.1 164.8 451.0 165.7 451.5 166.8 452.0 168.7 453.1 169.5 453.5 170.7 454.2 172.7 455.3 173.1 455.5 174.7 456.5 176.4 457.5 176.7 457.7 178.7 459.0 179.4 459.5 180.7 460.4 182.3 461.5 182.7 461.8 184.7 463.0 185.4 463.5 186.7 464.4 188.3 465.5 188.7 465.8 190.7 467.2 191.2 467.5 192.7 468.4 194.4 469.5 194.7 469.7 196.7 471.0 197.4 471.5 198.7 472.3 200.7 473.4 200.8 473.5 202.6 474.6 204.1 475.5 204.6 475.8 206.6 476.9 207.7 477.5 208.6 478.0 210.6 479.0 211.4 479.5 212.6 480.2 214.6 481.3 215.1 481.5 216.6 482.2 218.6 483.3 219.0 483.5 220.6 484.3 222.6 485.1 223.9 485.5M249.2 485.5 250.5 485.1 252.5 484.3 254.1 483.5 254.5 483.3 256.5 482.2 258.0 481.5 258.5 481.3 260.5 480.2 261.7 479.5 262.5 479.0 264.5 478.0 265.4 477.5 266.5 476.9 268.5 475.8 269.0 475.5 270.5 474.6 272.3 473.5 272.4 473.4 274.4 472.3 275.7 471.5 276.4 471.0 278.4 469.7 278.7 469.5 280.4 468.4 281.9 467.5 282.4 467.2 284.4 465.8 284.8 465.5 286.4 464.4 287.7 463.5 288.4 463.0 290.4 461.8 290.8 461.5 292.4 460.4 293.7 459.5 294.4 459.0 296.4 457.7 296.7 457.5 298.4 456.5 300.0 455.5 300.4 455.3 302.4 454.2 303.6 453.5 304.4 453.1 306.3 452.0 307.4 451.5 308.3 451.0 310.3 450.1 311.5 449.5 312.3 449.1 314.3 448.1 315.5 447.5 316.3 447.1 318.3 446.0 319.4 445.5 320.3 445.0 322.3 443.9 323.1 443.5 324.3 442.9 326.3 441.8 326.9 441.5 328.3 440.8 330.3 439.8 330.9 439.5 332.3 438.9 334.3 438.0 335.5 437.5 336.3 437.2 338.3 436.4 340.2 435.6 340.6 435.5 342.2 434.9 344.2 434.1 345.6 433.5 346.2 433.2 348.2 432.4 350.2 431.6 350.6 431.5 352.2 430.9 354.2 430.4 356.2 429.8 357.5 429.5 358.2 429.3 360.2 428.9 362.2 428.5 364.2 428.1 366.2 427.7 367.1 427.5 368.2 427.3 370.2 427.0 372.2 426.6 374.1 426.3 376.1 426.0 378.1 425.7 380.0 425.5 380.1 425.5 382.1 425.2 384.1 425.0 386.1 424.9 388.1 424.7 390.1 424.5M83.0 431.4 83.9 431.5 85.0 431.6 87.0 431.8 89.0 432.0 91.0 432.2 93.0 432.4 95.0 432.7 97.0 433.0 99.0 433.3 100.3 433.5 100.9 433.6 102.9 433.9 104.9 434.3 106.9 434.6 108.9 435.0 110.9 435.4 111.2 435.5 112.9 435.9 114.9 436.3 116.9 436.8 118.9 437.4 119.3 437.5 120.9 438.0 122.9 438.7 124.7 439.5 124.9 439.6 126.9 440.4 128.9 441.2 129.5 441.5 130.9 442.1 132.9 442.8 134.6 443.5 134.8 443.6 136.8 444.4 138.8 445.2 139.4 445.5 140.8 446.1 142.8 447.1 143.7 447.5 144.8 448.1 146.8 449.1 147.5 449.5 148.8 450.2 150.8 451.3 151.2 451.5 152.8 452.4 154.8 453.5 154.8 453.5 156.8 454.6 158.6 455.5 158.8 455.6 160.8 456.6 162.6 457.5 162.8 457.6 164.8 458.6 166.7 459.5 166.8 459.5 168.7 460.6 170.3 461.5 170.7 461.7 172.7 462.9 173.8 463.5 174.7 464.1 176.7 465.4 176.8 465.5 178.7 466.8 179.8 467.5 180.7 468.1 182.7 469.5 182.7 469.5 184.7 470.9 185.5 471.5 186.7 472.3 188.4 473.5 188.7 473.7 190.7 475.0 191.4 475.5 192.7 476.4 194.3 477.5 194.7 477.8 196.7 479.0 197.4 479.5 198.7 480.3 200.5 481.5 200.7 481.6 202.6 482.8 203.9 483.5 204.6 483.9 206.6 485.1 207.3 485.5M265.8 485.5 266.5 485.1 268.5 483.9 269.2 483.5 270.5 482.8 272.4 481.6 272.6 481.5 274.4 480.3 275.7 479.5 276.4 479.0 278.4 477.8 278.8 477.5 280.4 476.4 281.7 475.5 282.4 475.0 284.4 473.7 284.7 473.5 286.4 472.3 287.6 471.5 288.4 470.9 290.4 469.5 290.4 469.5 292.4 468.1 293.3 467.5 294.4 466.8 296.3 465.5 296.4 465.4 298.4 464.1 299.3 463.5 300.4 462.9 302.4 461.7 302.8 461.5 304.4 460.6 306.3 459.5 306.4 459.5 308.3 458.6 310.3 457.6 310.5 457.5 312.3 456.6 314.3 455.6 314.5 455.5 316.3 454.6 318.3 453.5 318.3 453.5 320.3 452.4 321.9 451.5 322.3 451.3 324.3 450.2 325.6 449.5 326.3 449.1 328.3 448.1 329.4 447.5 330.3 447.1 332.3 446.1 333.7 445.5 334.3 445.2 336.3 444.4 338.3 443.6 338.5 443.5 340.2 442.8 342.2 442.1 343.6 441.5 344.2 441.2 346.2 440.4 348.2 439.6 348.4 439.5 350.2 438.7 352.2 438.0 353.8 437.5 354.2 437.4 356.2 436.8 358.2 436.3 360.2 435.9 361.9 435.5 362.2 435.4 364.2 435.0 366.2 434.6 368.2 434.3 370.2 433.9 372.2 433.6 372.8 433.5 374.1 433.3 376.1 433.0 378.1 432.7 380.1 432.4 382.1 432.2 384.1 432.0 386.1 431.8 388.1 431.6 389.2 431.5 390.1 431.4M83.0 438.0 85.0 438.1 87.0 438.3 89.0 438.5 91.0 438.7 93.0 438.9 95.0 439.2 96.5 439.5 97.0 439.6 99.0 439.9 100.9 440.2 102.9 440.5 104.9 440.9 106.9 441.3 108.2 441.5 108.9 441.6 110.9 442.0 112.9 442.5 114.9 443.0 116.9 443.4 117.1 443.5 118.9 444.0 120.9 444.7 122.9 445.4 123.1 445.5 124.9 446.2 126.9 447.1 127.8 447.5 128.9 448.0 130.9 448.8 132.7 449.5 132.9 449.6 134.8 450.4 136.8 451.2 137.5 451.5 138.8 452.0 140.8 452.9 142.0 453.5 142.8 453.9 144.8 455.0 145.9 455.5 146.8 456.0 148.8 457.1 149.5 457.5 150.8 458.2 152.8 459.4 153.0 459.5 154.8 460.4 156.7 461.5 156.8 461.5 158.8 462.6 160.4 463.5 160.8 463.7 162.8 464.6 164.5 465.5 164.8 465.6 166.8 466.7 168.2 467.5 168.7 467.8 170.7 468.8 171.9 469.5 172.7 470.0 174.7 471.4 174.9 471.5 176.7 472.6 178.1 473.5 178.7 473.9 180.7 475.4 180.9 475.5 182.7 476.9 183.6 477.5 184.7 478.2 186.5 479.5 186.7 479.6 188.7 481.1 189.3 481.5 190.7 482.5 192.2 483.5 192.7 483.8 194.7 485.2 195.2 485.5M277.9 485.5 278.4 485.2 280.4 483.8 280.9 483.5 282.4 482.5 283.8 481.5 284.4 481.1 286.4 479.6 286.6 479.5 288.4 478.2 289.5 477.5 290.4 476.9 292.2 475.5 292.4 475.4 294.4 473.9 295.0 473.5 296.4 472.6 298.2 471.5 298.4 471.4 300.4 470.0 301.2 469.5 302.4 468.8 304.4 467.8 304.9 467.5 306.3 466.7 308.3 465.6 308.6 465.5 310.3 464.6 312.3 463.7 312.7 463.5 314.3 462.6 316.3 461.5 316.4 461.5 318.3 460.4 320.1 459.5 320.3 459.4 322.3 458.2 323.6 457.5 324.3 457.1 326.3 456.0 327.2 455.5 328.3 455.0 330.3 453.9 331.1 453.5 332.3 452.9 334.3 452.0 335.6 451.5 336.3 451.2 338.3 450.4 340.2 449.6 340.4 449.5 342.2 448.8 344.2 448.0 345.3 447.5 346.2 447.1 348.2 446.2 350.0 445.5 350.2 445.4 352.2 444.7 354.2 444.0 356.0 443.5 356.2 443.4 358.2 443.0 360.2 442.5 362.2 442.0 364.2 441.6 364.9 441.5 366.2 441.3 368.2 440.9 370.2 440.5 372.2 440.2 374.1 439.9 376.1 439.6 376.6 439.5 378.1 439.2 380.1 438.9 382.1 438.7 384.1 438.5 386.1 438.3 388.1 438.1 390.1 438.0M83.0 443.2 85.0 443.4 85.6 443.5 87.0 443.7 89.0 443.8 91.0 444.0 93.0 444.3 95.0 444.6 97.0 444.9 99.0 445.2 100.7 445.5 100.9 445.5 102.9 445.9 104.9 446.2 106.9 446.6 108.9 447.0 110.9 447.5 111.1 447.5 112.9 447.9 114.9 448.4 116.9 448.9 118.9 449.5 119.0 449.5 120.9 450.1 122.9 450.9 124.3 451.5 124.9 451.8 126.9 452.6 128.9 453.5 129.0 453.5 130.9 454.4 132.9 455.2 133.7 455.5 134.8 456.0 136.8 456.8 138.5 457.5 138.8 457.7 140.8 458.6 142.7 459.5 142.8 459.6 144.8 460.6 146.4 461.5 146.8 461.7 148.8 462.9 149.9 463.5 150.8 464.0 152.8 465.1 153.4 465.5 154.8 466.3 156.8 467.4 156.9 467.5 158.8 468.5 160.8 469.5 160.8 469.5 162.8 470.6 164.6 471.5 164.8 471.6 166.8 472.6 168.4 473.5 168.7 473.7 170.7 474.9 171.7 475.5 172.7 476.1 174.7 477.3 175.0 477.5 176.7 478.7 177.8 479.5 178.7 480.2 180.6 481.5 180.7 481.6 182.7 483.0 183.4 483.5 184.7 484.5 186.1 485.5M287.0 485.5 288.4 484.5 289.7 483.5 290.4 483.0 292.4 481.6 292.5 481.5 294.4 480.2 295.3 479.5 296.4 478.7 298.1 477.5 298.4 477.3 300.4 476.1 301.4 475.5 302.4 474.9 304.4 473.7 304.7 473.5 306.3 472.6 308.3 471.6 308.5 471.5 310.3 470.6 312.3 469.5 312.3 469.5 314.3 468.5 316.2 467.5 316.3 467.4 318.3 466.3 319.7 465.5 320.3 465.1 322.3 464.0 323.2 463.5 324.3 462.9 326.3 461.7 326.7 461.5 328.3 460.6 330.3 459.6 330.4 459.5 332.3 458.6 334.3 457.7 334.6 457.5 336.3 456.8 338.3 456.0 339.4 455.5 340.2 455.2 342.2 454.4 344.1 453.5 344.2 453.5 346.2 452.6 348.2 451.8 348.8 451.5 350.2 450.9 352.2 450.1 354.1 449.5 354.2 449.5 356.2 448.9 358.2 448.4 360.2 447.9 362.0 447.5 362.2 447.5 364.2 447.0 366.2 446.6 368.2 446.2 370.2 445.9 372.2 445.5 372.4 445.5 374.1 445.2 376.1 444.9 378.1 444.6 380.1 444.3 382.1 444.0 384.1 443.8 386.1 443.7 387.5 443.5 388.1 443.4 390.1 443.2M83.0 448.9 85.0 449.1 87.0 449.3 89.0 449.5 89.2 449.5 91.0 449.7 93.0 449.9 95.0 450.2 97.0 450.6 99.0 450.9 100.9 451.2 102.6 451.5 102.9 451.6 104.9 451.9 106.9 452.3 108.9 452.7 110.9 453.2 112.3 453.5 112.9 453.6 114.9 454.1 116.9 454.6 118.9 455.2 119.8 455.5 120.9 455.9 122.9 456.7 124.8 457.5 124.9 457.5 126.9 458.4 128.9 459.4 129.2 459.5 130.9 460.2 132.9 461.0 134.0 461.5 134.8 461.8 136.8 462.7 138.7 463.5 138.8 463.6 140.8 464.5 142.8 465.5 142.8 465.5 144.8 466.6 146.4 467.5 146.8 467.7 148.8 468.9 149.9 469.5 150.8 470.0 152.8 471.2 153.3 471.5 154.8 472.4 156.8 473.5 156.8 473.5 158.8 474.6 160.4 475.5 160.8 475.7 162.8 476.7 164.3 477.5 164.8 477.7 166.8 478.8 167.9 479.5 168.7 480.0 170.7 481.1 171.4 481.5 172.7 482.4 174.4 483.5 174.7 483.7 176.7 485.1 177.4 485.5M295.7 485.5 296.4 485.1 298.4 483.7 298.7 483.5 300.4 482.4 301.7 481.5 302.4 481.1 304.4 480.0 305.2 479.5 306.3 478.8 308.3 477.7 308.8 477.5 310.3 476.7 312.3 475.7 312.7 475.5 314.3 474.6 316.3 473.5 316.3 473.5 318.3 472.4 319.8 471.5 320.3 471.2 322.3 470.0 323.2 469.5 324.3 468.9 326.3 467.7 326.7 467.5 328.3 466.6 330.3 465.5 330.3 465.5 332.3 464.5 334.3 463.6 334.4 463.5 336.3 462.7 338.3 461.8 339.1 461.5 340.2 461.0 342.2 460.2 343.9 459.5 344.2 459.4 346.2 458.4 348.2 457.5 348.3 457.5 350.2 456.7 352.2 455.9 353.3 455.5 354.2 455.2 356.2 454.6 358.2 454.1 360.2 453.6 360.8 453.5 362.2 453.2 364.2 452.7 366.2 452.3 368.2 451.9 370.2 451.6 370.5 451.5 372.2 451.2 374.1 450.9 376.1 450.6 378.1 450.2 380.1 449.9 382.1 449.7 383.9 449.5 384.1 449.5 386.1 449.3 388.1 449.1 390.1 448.9M83.0 454.2 85.0 454.4 87.0 454.6 89.0 454.8 91.0 455.0 93.0 455.3 94.4 455.5 95.0 455.6 97.0 455.9 99.0 456.2 100.9 456.6 102.9 456.9 104.9 457.3 105.9 457.5 106.9 457.7 108.9 458.1 110.9 458.6 112.9 459.0 114.8 459.5 114.9 459.5 116.9 460.0 118.9 460.6 120.9 461.3 121.3 461.5 122.9 462.1 124.9 463.0 126.0 463.5 126.9 463.9 128.9 464.9 130.3 465.5 130.9 465.7 132.9 466.6 134.8 467.4 135.1 467.5 136.8 468.3 138.8 469.2 139.5 469.5 140.8 470.1 142.8 471.2 143.4 471.5 144.8 472.3 146.8 473.4 147.0 473.5 148.8 474.6 150.3 475.5 150.8 475.8 152.8 477.0 153.7 477.5 154.8 478.1 156.8 479.3 157.1 479.5 158.8 480.4 160.7 481.5 160.8 481.5 162.8 482.6 164.5 483.5 164.8 483.7 166.8 484.7 168.1 485.5M305.0 485.5 306.3 484.7 308.3 483.7 308.6 483.5 310.3 482.6 312.3 481.5 312.4 481.5 314.3 480.4 316.0 479.5 316.3 479.3 318.3 478.1 319.4 477.5 320.3 477.0 322.3 475.8 322.8 475.5 324.3 474.6 326.1 473.5 326.3 473.4 328.3 472.3 329.7 471.5 330.3 471.2 332.3 470.1 333.6 469.5 334.3 469.2 336.3 468.3 338.0 467.5 338.3 467.4 340.2 466.6 342.2 465.7 342.8 465.5 344.2 464.9 346.2 463.9 347.1 463.5 348.2 463.0 350.2 462.1 351.8 461.5 352.2 461.3 354.2 460.6 356.2 460.0 358.2 459.5 358.3 459.5 360.2 459.0 362.2 458.6 364.2 458.1 366.2 457.7 367.2 457.5 368.2 457.3 370.2 456.9 372.2 456.6 374.1 456.2 376.1 455.9 378.1 455.6 378.7 455.5 380.1 455.3 382.1 455.0 384.1 454.8 386.1 454.6 388.1 454.4 390.1 454.2M83.0 459.0 85.0 459.2 87.0 459.4 87.9 459.5 89.0 459.6 91.0 459.8 93.0 460.1 95.0 460.4 97.0 460.7 99.0 461.1 100.9 461.4 101.3 461.5 102.9 461.8 104.9 462.2 106.9 462.6 108.9 463.0 110.9 463.5 111.1 463.5 112.9 463.9 114.9 464.4 116.9 465.0 118.6 465.5 118.9 465.6 120.9 466.3 122.9 467.1 123.8 467.5 124.9 468.0 126.9 468.9 128.1 469.5 128.9 469.9 130.9 470.8 132.6 471.5 132.9 471.6 134.8 472.5 136.8 473.4 137.2 473.5 138.8 474.3 140.8 475.3 141.3 475.5 142.8 476.3 144.8 477.4 144.9 477.5 146.8 478.6 148.3 479.5 148.8 479.8 150.8 481.0 151.6 481.5 152.8 482.2 154.8 483.4 154.9 483.5 156.8 484.6 158.3 485.5M314.8 485.5 316.3 484.6 318.2 483.5 318.3 483.4 320.3 482.2 321.5 481.5 322.3 481.0 324.3 479.8 324.8 479.5 326.3 478.6 328.2 477.5 328.3 477.4 330.3 476.3 331.8 475.5 332.3 475.3 334.3 474.3 335.9 473.5 336.3 473.4 338.3 472.5 340.2 471.6 340.5 471.5 342.2 470.8 344.2 469.9 345.0 469.5 346.2 468.9 348.2 468.0 349.3 467.5 350.2 467.1 352.2 466.3 354.2 465.6 354.5 465.5 356.2 465.0 358.2 464.4 360.2 463.9 362.0 463.5 362.2 463.5 364.2 463.0 366.2 462.6 368.2 462.2 370.2 461.8 371.8 461.5 372.2 461.4 374.1 461.1 376.1 460.7 378.1 460.4 380.1 460.1 382.1 459.8 384.1 459.6 385.2 459.5 386.1 459.4 388.1 459.2 390.1 459.0M83.0 463.6 85.0 463.8 87.0 464.0 89.0 464.2 91.0 464.5 93.0 464.8 95.0 465.1 97.0 465.4 97.6 465.5 99.0 465.7 100.9 466.1 102.9 466.5 104.9 466.9 106.9 467.3 108.0 467.5 108.9 467.7 110.9 468.2 112.9 468.7 114.9 469.2 116.1 469.5 116.9 469.7 118.9 470.3 120.9 471.0 122.0 471.5 122.9 471.9 124.9 472.8 126.3 473.5 126.9 473.8 128.9 474.7 130.6 475.5 130.9 475.6 132.9 476.5 134.8 477.4 135.2 477.5 136.8 478.2 138.8 479.2 139.4 479.5 140.8 480.2 142.8 481.3 143.2 481.5 144.8 482.4 146.6 483.5 146.8 483.6 148.8 484.9 149.9 485.5M323.2 485.5 324.3 484.9 326.3 483.6 326.5 483.5 328.3 482.4 329.9 481.5 330.3 481.3 332.3 480.2 333.7 479.5 334.3 479.2 336.3 478.2 337.9 477.5 338.3 477.4 340.2 476.5 342.2 475.6 342.5 475.5 344.2 474.7 346.2 473.8 346.8 473.5 348.2 472.8 350.2 471.9 351.1 471.5 352.2 471.0 354.2 470.3 356.2 469.7 357.0 469.5 358.2 469.2 360.2 468.7 362.2 468.2 364.2 467.7 365.1 467.5 366.2 467.3 368.2 466.9 370.2 466.5 372.2 466.1 374.1 465.7 375.5 465.5 376.1 465.4 378.1 465.1 380.1 464.8 382.1 464.5 384.1 464.2 386.1 464.0 388.1 463.8 390.1 463.6M83.0 468.3 85.0 468.5 87.0 468.6 89.0 468.9 91.0 469.2 93.0 469.4 93.5 469.5 95.0 469.7 97.0 470.1 99.0 470.4 100.9 470.8 102.9 471.1 104.6 471.5 104.9 471.6 106.9 472.0 108.9 472.4 110.9 472.9 112.9 473.4 113.2 473.5 114.9 473.9 116.9 474.4 118.9 475.1 120.0 475.5 120.9 475.8 122.9 476.7 124.7 477.5 124.9 477.6 126.9 478.6 128.7 479.5 128.9 479.6 130.9 480.5 132.9 481.4 133.2 481.5 134.8 482.3 136.8 483.2 137.5 483.5 138.8 484.1 140.8 485.1 141.5 485.5M331.6 485.5 332.3 485.1 334.3 484.1 335.6 483.5 336.3 483.2 338.3 482.3 339.9 481.5 340.2 481.4 342.2 480.5 344.2 479.6 344.4 479.5 346.2 478.6 348.2 477.6 348.4 477.5 350.2 476.7 352.2 475.8 353.1 475.5 354.2 475.1 356.2 474.4 358.2 473.9 359.9 473.5 360.2 473.4 362.2 472.9 364.2 472.4 366.2 472.0 368.2 471.6 368.5 471.5 370.2 471.1 372.2 470.8 374.1 470.4 376.1 470.1 378.1 469.7 379.6 469.5 380.1 469.4 382.1 469.2 384.1 468.9 386.1 468.6 388.1 468.5 390.1 468.3M83.0 472.5 85.0 472.7 87.0 472.9 89.0 473.2 91.0 473.4 91.6 473.5 93.0 473.7 95.0 474.0 97.0 474.4 99.0 474.7 100.9 475.1 102.9 475.5 103.0 475.5 104.9 475.9 106.9 476.3 108.9 476.8 110.9 477.3 111.9 477.5 112.9 477.7 114.9 478.3 116.9 478.9 118.9 479.5 118.9 479.5 120.9 480.2 122.9 481.1 123.7 481.5 124.9 482.1 126.9 483.1 127.8 483.5 128.9 484.0 130.9 485.0 132.0 485.5M341.1 485.5 342.2 485.0 344.2 484.0 345.3 483.5 346.2 483.1 348.2 482.1 349.4 481.5 350.2 481.1 352.2 480.2 354.2 479.5 354.2 479.5 356.2 478.9 358.2 478.3 360.2 477.7 361.2 477.5 362.2 477.3 364.2 476.8 366.2 476.3 368.2 475.9 370.1 475.5 370.2 475.5 372.2 475.1 374.1 474.7 376.1 474.4 378.1 474.0 380.1 473.7 381.5 473.5 382.1 473.4 384.1 473.2 386.1 472.9 388.1 472.7 390.1 472.5M83.0 476.9 85.0 477.1 87.0 477.3 88.6 477.5 89.0 477.5 91.0 477.8 93.0 478.1 95.0 478.4 97.0 478.8 99.0 479.1 100.9 479.5 100.9 479.5 102.9 479.9 104.9 480.3 106.9 480.8 108.9 481.2 110.1 481.5 110.9 481.7 112.9 482.2 114.9 482.8 116.9 483.3 117.4 483.5 118.9 484.0 120.9 484.7 122.6 485.5M350.5 485.5 352.2 484.7 354.2 484.0 355.7 483.5 356.2 483.3 358.2 482.8 360.2 482.2 362.2 481.7 363.0 481.5 364.2 481.2 366.2 480.8 368.2 480.3 370.2 479.9 372.2 479.5 372.2 479.5 374.1 479.1 376.1 478.8 378.1 478.4 380.1 478.1 382.1 477.8 384.1 477.5 384.5 477.5 386.1 477.3 388.1 477.1 390.1 476.9M83.0 481.3 84.9 481.5 85.0 481.5 87.0 481.7 89.0 482.0 91.0 482.2 93.0 482.5 95.0 482.9 97.0 483.2 98.5 483.5 99.0 483.6 100.9 484.0 102.9 484.4 104.9 484.8 106.9 485.2 108.1 485.5M365.0 485.5 366.2 485.2 368.2 484.8 370.2 484.4 372.2 484.0 374.1 483.6 374.6 483.5 376.1 483.2 378.1 482.9 380.1 482.5 382.1 482.2 384.1 482.0 386.1 481.7 388.1 481.5 388.2 481.5 390.1 481.3" fill="none" stroke="#000" stroke-width="1" stroke-linejoin="round" clip-path="url(#clL)"/>
<path d="M415.1 63.1 417.1 63.0 419.1 63.0 421.1 63.1 423.1 63.1 425.1 63.1 427.1 63.2 429.1 63.2 431.1 63.3 433.1 63.4 435.1 63.4 436.0 63.5 437.1 63.6 439.1 63.7 441.1 63.8 443.1 63.9 445.1 64.0 447.1 64.1 449.1 64.1 451.0 64.2 453.0 64.3 455.0 64.4 457.0 64.5 459.0 64.7 461.0 64.8 463.0 65.0 465.0 65.1 467.0 65.2 469.0 65.3 471.0 65.4 472.3 65.5 473.0 65.5 475.0 65.7 477.0 65.9 479.0 66.0 481.0 66.2 483.0 66.4 484.9 66.5 486.9 66.6 488.9 66.8 490.9 66.9 492.9 67.0 494.9 67.2 496.9 67.4 498.6 67.5 498.9 67.5 500.9 67.7 502.9 67.8 504.9 68.0 506.9 68.1 508.9 68.2 510.9 68.3 512.9 68.4 514.9 68.6 516.9 68.7 518.8 68.9 520.8 69.0 522.8 69.1 524.8 69.2 526.8 69.3 528.8 69.4 530.8 69.5 531.7 69.5 532.8 69.6 534.8 69.7 536.8 69.8 538.8 69.8 540.8 69.9 542.8 70.0 544.8 70.0 546.8 70.1 548.8 70.1 550.8 70.2 552.7 70.2 554.7 70.3 556.7 70.3 558.7 70.4 560.7 70.4 562.7 70.4 564.7 70.4 566.7 70.4 568.7 70.4 570.7 70.4 572.7 70.4 574.7 70.4 576.7 70.4 578.7 70.4 580.7 70.3 582.7 70.3 584.7 70.2 586.6 70.2 588.6 70.1 590.6 70.1 592.6 70.0 594.6 70.0 596.6 69.9 598.6 69.8 600.6 69.8 602.6 69.7 604.6 69.6 605.7 69.5 606.6 69.5 608.6 69.4 610.6 69.3 612.6 69.2 614.6 69.1 616.6 69.0 618.6 68.9 620.5 68.7 622.5 68.6 624.5 68.4 626.5 68.3 628.5 68.2 630.5 68.1 632.5 68.0 634.5 67.8 636.5 67.7 638.5 67.5 638.8 67.5 640.5 67.4 642.5 67.2 644.5 67.0 646.5 66.9 648.5 66.8 650.5 66.6 652.5 66.5 654.4 66.4 656.4 66.2 658.4 66.0 660.4 65.9 662.4 65.7 664.4 65.5 665.1 65.5 666.4 65.4 668.4 65.3 670.4 65.2 672.4 65.1 674.4 65.0 676.4 64.8 678.4 64.7 680.4 64.5 682.4 64.4 684.4 64.3 686.4 64.2 688.3 64.1 690.3 64.1 692.3 64.0 694.3 63.9 696.3 63.8 698.3 63.7 700.3 63.6 701.4 63.5 702.3 63.4 704.3 63.4 706.3 63.3 708.3 63.2 710.3 63.2 712.3 63.1 714.3 63.1 716.3 63.1 718.3 63.0 720.3 63.0 722.2 63.1M415.1 96.4 417.1 96.4 419.1 96.4 421.1 96.4 423.1 96.4 425.1 96.4 427.1 96.5 429.1 96.5 431.1 96.6 433.1 96.7 435.1 96.7 437.1 96.8 439.1 96.8 441.1 96.9 443.1 96.9 445.1 97.0 447.1 97.2 449.1 97.3 451.0 97.4 452.0 97.5 453.0 97.6 455.0 97.7 457.0 97.8 459.0 97.9 461.0 98.0 463.0 98.1 465.0 98.2 467.0 98.4 469.0 98.6 471.0 98.7 473.0 98.9 475.0 99.0 477.0 99.1 479.0 99.3 481.0 99.4 482.0 99.5 483.0 99.6 484.9 99.7 486.9 99.9 488.9 100.0 490.9 100.2 492.9 100.4 494.9 100.5 496.9 100.6 498.9 100.8 500.9 100.9 502.9 101.0 504.9 101.2 506.9 101.3 508.9 101.5 509.2 101.5 510.9 101.6 512.9 101.7 514.9 101.8 516.9 102.0 518.8 102.1 520.8 102.2 522.8 102.3 524.8 102.4 526.8 102.5 528.8 102.6 530.8 102.7 532.8 102.8 534.8 102.9 536.8 102.9 538.8 103.0 540.8 103.1 542.8 103.1 544.8 103.2 546.8 103.3 548.8 103.3 550.8 103.4 552.7 103.4 554.7 103.5 556.7 103.5 558.4 103.5 558.7 103.5 560.7 103.5 562.7 103.6 564.7 103.6 566.7 103.6 568.7 103.6 570.7 103.6 572.7 103.6 574.7 103.6 576.7 103.5 578.7 103.5 579.0 103.5 580.7 103.5 582.7 103.5 584.7 103.4 586.6 103.4 588.6 103.3 590.6 103.3 592.6 103.2 594.6 103.1 596.6 103.1 598.6 103.0 600.6 102.9 602.6 102.9 604.6 102.8 606.6 102.7 608.6 102.6 610.6 102.5 612.6 102.4 614.6 102.3 616.6 102.2 618.6 102.1 620.5 102.0 622.5 101.8 624.5 101.7 626.5 101.6 628.2 101.5 628.5 101.5 630.5 101.3 632.5 101.2 634.5 101.0 636.5 100.9 638.5 100.8 640.5 100.6 642.5 100.5 644.5 100.4 646.5 100.2 648.5 100.0 650.5 99.9 652.5 99.7 654.4 99.6 655.4 99.5 656.4 99.4 658.4 99.3 660.4 99.1 662.4 99.0 664.4 98.9 666.4 98.7 668.4 98.6 670.4 98.4 672.4 98.2 674.4 98.1 676.4 98.0 678.4 97.9 680.4 97.8 682.4 97.7 684.4 97.6 685.4 97.5 686.4 97.4 688.3 97.3 690.3 97.2 692.3 97.0 694.3 96.9 696.3 96.9 698.3 96.8 700.3 96.8 702.3 96.7 704.3 96.7 706.3 96.6 708.3 96.5 710.3 96.5 712.3 96.4 714.3 96.4 716.3 96.4 718.3 96.4 720.3 96.4 722.2 96.4M415.1 126.3 417.1 126.3 419.1 126.4 421.1 126.4 423.1 126.5 425.1 126.5 427.1 126.5 429.1 126.5 431.1 126.6 433.1 126.6 435.1 126.6 437.1 126.7 439.1 126.8 441.1 126.9 443.1 127.0 445.1 127.1 447.1 127.2 449.1 127.3 451.0 127.4 453.0 127.5 453.4 127.5 455.0 127.6 457.0 127.7 459.0 127.9 461.0 128.0 463.0 128.1 465.0 128.3 467.0 128.4 469.0 128.5 471.0 128.7 473.0 128.8 475.0 128.9 477.0 129.1 479.0 129.2 481.0 129.4 482.3 129.5 483.0 129.5 484.9 129.7 486.9 129.8 488.9 130.0 490.9 130.1 492.9 130.3 494.9 130.4 496.9 130.6 498.9 130.7 500.9 130.9 502.9 131.0 504.9 131.1 506.9 131.3 508.9 131.4 510.6 131.5 510.9 131.5 512.9 131.6 514.9 131.8 516.9 131.9 518.8 132.0 520.8 132.1 522.8 132.2 524.8 132.3 526.8 132.4 528.8 132.5 530.8 132.6 532.8 132.7 534.8 132.8 536.8 132.9 538.8 133.0 540.8 133.0 542.8 133.1 544.8 133.1 546.8 133.2 548.8 133.3 550.8 133.3 552.7 133.3 554.7 133.4 556.7 133.4 558.7 133.4 560.7 133.5 562.7 133.5 564.7 133.5 566.7 133.5 567.7 133.5 568.7 133.5 569.7 133.5 570.7 133.5 572.7 133.5 574.7 133.5 576.7 133.5 578.7 133.4 580.7 133.4 582.7 133.4 584.7 133.3 586.6 133.3 588.6 133.3 590.6 133.2 592.6 133.1 594.6 133.1 596.6 133.0 598.6 133.0 600.6 132.9 602.6 132.8 604.6 132.7 606.6 132.6 608.6 132.5 610.6 132.4 612.6 132.3 614.6 132.2 616.6 132.1 618.6 132.0 620.5 131.9 622.5 131.8 624.5 131.6 626.5 131.5 626.8 131.5 628.5 131.4 630.5 131.3 632.5 131.1 634.5 131.0 636.5 130.9 638.5 130.7 640.5 130.6 642.5 130.4 644.5 130.3 646.5 130.1 648.5 130.0 650.5 129.8 652.5 129.7 654.4 129.5 655.1 129.5 656.4 129.4 658.4 129.2 660.4 129.1 662.4 128.9 664.4 128.8 666.4 128.7 668.4 128.5 670.4 128.4 672.4 128.3 674.4 128.1 676.4 128.0 678.4 127.9 680.4 127.7 682.4 127.6 684.0 127.5 684.4 127.5 686.4 127.4 688.3 127.3 690.3 127.2 692.3 127.1 694.3 127.0 696.3 126.9 698.3 126.8 700.3 126.7 702.3 126.6 704.3 126.6 706.3 126.6 708.3 126.5 710.3 126.5 712.3 126.5 714.3 126.5 716.3 126.4 718.3 126.4 720.3 126.3 722.2 126.3M415.1 153.3 417.1 153.3 419.1 153.4 421.1 153.4 423.1 153.4 425.1 153.5 427.1 153.5 427.5 153.5 429.1 153.5 431.1 153.6 433.1 153.6 435.1 153.6 437.1 153.7 439.1 153.8 441.1 153.8 443.1 153.9 445.1 154.0 447.1 154.1 449.1 154.2 451.0 154.3 453.0 154.5 455.0 154.6 457.0 154.7 459.0 154.8 461.0 155.0 463.0 155.1 465.0 155.2 467.0 155.4 469.0 155.5 469.0 155.5 471.0 155.6 473.0 155.8 475.0 155.9 477.0 156.1 479.0 156.2 481.0 156.4 483.0 156.5 484.9 156.7 486.9 156.8 488.9 157.0 490.9 157.1 492.9 157.3 494.9 157.4 496.0 157.5 496.9 157.6 498.9 157.7 500.9 157.9 502.9 158.0 504.9 158.1 506.9 158.3 508.9 158.4 510.9 158.5 512.9 158.7 514.9 158.8 516.9 158.9 518.8 159.0 520.8 159.2 522.8 159.3 524.8 159.4 526.8 159.5 527.2 159.5 528.8 159.6 530.8 159.7 532.8 159.8 534.8 159.9 536.8 159.9 538.8 160.0 540.8 160.1 542.8 160.2 544.8 160.2 546.8 160.3 548.8 160.3 550.8 160.4 552.7 160.4 554.7 160.5 556.7 160.5 558.7 160.5 560.7 160.5 562.7 160.6 564.7 160.6 566.7 160.6 568.7 160.6 570.7 160.6 572.7 160.6 574.7 160.6 576.7 160.5 578.7 160.5 580.7 160.5 582.7 160.5 584.7 160.4 586.6 160.4 588.6 160.3 590.6 160.3 592.6 160.2 594.6 160.2 596.6 160.1 598.6 160.0 600.6 159.9 602.6 159.9 604.6 159.8 606.6 159.7 608.6 159.6 610.2 159.5 610.6 159.5 612.6 159.4 614.6 159.3 616.6 159.2 618.6 159.0 620.5 158.9 622.5 158.8 624.5 158.7 626.5 158.5 628.5 158.4 630.5 158.3 632.5 158.1 634.5 158.0 636.5 157.9 638.5 157.7 640.5 157.6 641.4 157.5 642.5 157.4 644.5 157.3 646.5 157.1 648.5 157.0 650.5 156.8 652.5 156.7 654.4 156.5 656.4 156.4 658.4 156.2 660.4 156.1 662.4 155.9 664.4 155.8 666.4 155.6 668.4 155.5 668.4 155.5 670.4 155.4 672.4 155.2 674.4 155.1 676.4 155.0 678.4 154.8 680.4 154.7 682.4 154.6 684.4 154.5 686.4 154.3 688.3 154.2 690.3 154.1 692.3 154.0 694.3 153.9 696.3 153.8 698.3 153.8 700.3 153.7 702.3 153.6 704.3 153.6 706.3 153.6 708.3 153.5 709.9 153.5 710.3 153.5 712.3 153.5 714.3 153.4 716.3 153.4 718.3 153.4 720.3 153.3 722.2 153.3M415.1 178.5 417.1 178.5 419.1 178.6 421.1 178.6 423.1 178.6 425.1 178.6 427.1 178.7 429.1 178.7 431.1 178.7 433.1 178.7 435.1 178.8 437.1 178.8 439.1 178.9 441.1 179.0 443.1 179.0 445.1 179.1 447.1 179.2 449.1 179.3 451.0 179.4 452.5 179.5 453.0 179.5 455.0 179.6 457.0 179.7 459.0 179.8 461.0 180.0 463.0 180.1 465.0 180.2 467.0 180.3 469.0 180.4 471.0 180.6 473.0 180.7 475.0 180.8 477.0 181.0 479.0 181.1 481.0 181.2 483.0 181.4 484.7 181.5 484.9 181.5 486.9 181.7 488.9 181.8 490.9 181.9 492.9 182.1 494.9 182.2 496.9 182.3 498.9 182.5 500.9 182.6 502.9 182.7 504.9 182.9 506.9 183.0 508.9 183.1 510.9 183.2 512.9 183.4 514.9 183.5 515.1 183.5 516.9 183.6 518.8 183.7 520.8 183.8 522.8 183.9 524.8 184.0 526.8 184.1 528.8 184.2 530.8 184.3 532.8 184.4 534.8 184.5 536.8 184.6 538.8 184.6 540.8 184.7 542.8 184.8 544.8 184.8 546.8 184.9 548.8 184.9 550.8 185.0 552.7 185.0 554.7 185.1 556.7 185.1 558.7 185.1 560.7 185.2 562.7 185.2 564.7 185.2 566.7 185.2 568.7 185.2 570.7 185.2 572.7 185.2 574.7 185.2 576.7 185.2 578.7 185.1 580.7 185.1 582.7 185.1 584.7 185.0 586.6 185.0 588.6 184.9 590.6 184.9 592.6 184.8 594.6 184.8 596.6 184.7 598.6 184.6 600.6 184.6 602.6 184.5 604.6 184.4 606.6 184.3 608.6 184.2 610.6 184.1 612.6 184.0 614.6 183.9 616.6 183.8 618.6 183.7 620.5 183.6 622.3 183.5 622.5 183.5 624.5 183.4 626.5 183.2 628.5 183.1 630.5 183.0 632.5 182.9 634.5 182.7 636.5 182.6 638.5 182.5 640.5 182.3 642.5 182.2 644.5 182.1 646.5 181.9 648.5 181.8 650.5 181.7 652.5 181.5 652.7 181.5 654.4 181.4 656.4 181.2 658.4 181.1 660.4 181.0 662.4 180.8 664.4 180.7 666.4 180.6 668.4 180.4 670.4 180.3 672.4 180.2 674.4 180.1 676.4 180.0 678.4 179.8 680.4 179.7 682.4 179.6 684.4 179.5 684.9 179.5 686.4 179.4 688.3 179.3 690.3 179.2 692.3 179.1 694.3 179.0 696.3 179.0 698.3 178.9 700.3 178.8 702.3 178.8 704.3 178.7 706.3 178.7 708.3 178.7 710.3 178.7 712.3 178.6 714.3 178.6 716.3 178.6 718.3 178.6 720.3 178.5 722.2 178.5M415.1 201.2 417.1 201.2 419.1 201.3 421.1 201.3 423.1 201.3 425.1 201.3 427.1 201.4 429.1 201.4 431.1 201.4 433.1 201.5 434.7 201.5 435.1 201.5 437.1 201.6 439.1 201.6 441.1 201.7 443.1 201.8 445.1 201.9 447.1 202.0 449.1 202.1 451.0 202.2 453.0 202.3 455.0 202.4 457.0 202.5 459.0 202.6 461.0 202.7 463.0 202.9 465.0 203.0 467.0 203.1 469.0 203.3 471.0 203.4 472.6 203.5 473.0 203.5 475.0 203.7 477.0 203.8 479.0 204.0 481.0 204.1 483.0 204.2 484.9 204.4 486.9 204.5 488.9 204.7 490.9 204.8 492.9 205.0 494.9 205.1 496.9 205.3 498.9 205.4 500.1 205.5 500.9 205.6 502.9 205.7 504.9 205.8 506.9 206.0 508.9 206.1 510.9 206.2 512.9 206.4 514.9 206.5 516.9 206.6 518.8 206.8 520.8 206.9 522.8 207.0 524.8 207.1 526.8 207.2 528.8 207.3 530.8 207.4 532.5 207.5 532.8 207.5 534.8 207.6 536.8 207.7 538.8 207.8 540.8 207.9 542.8 207.9 544.8 208.0 546.8 208.1 548.8 208.1 550.8 208.2 552.7 208.2 554.7 208.3 556.7 208.3 558.7 208.3 560.7 208.3 562.7 208.4 564.7 208.4 566.7 208.4 568.7 208.4 570.7 208.4 572.7 208.4 574.7 208.4 576.7 208.3 578.7 208.3 580.7 208.3 582.7 208.3 584.7 208.2 586.6 208.2 588.6 208.1 590.6 208.1 592.6 208.0 594.6 207.9 596.6 207.9 598.6 207.8 600.6 207.7 602.6 207.6 604.6 207.5 604.9 207.5 606.6 207.4 608.6 207.3 610.6 207.2 612.6 207.1 614.6 207.0 616.6 206.9 618.6 206.8 620.5 206.6 622.5 206.5 624.5 206.4 626.5 206.2 628.5 206.1 630.5 206.0 632.5 205.8 634.5 205.7 636.5 205.6 637.3 205.5 638.5 205.4 640.5 205.3 642.5 205.1 644.5 205.0 646.5 204.8 648.5 204.7 650.5 204.5 652.5 204.4 654.4 204.2 656.4 204.1 658.4 204.0 660.4 203.8 662.4 203.7 664.4 203.5 664.8 203.5 666.4 203.4 668.4 203.3 670.4 203.1 672.4 203.0 674.4 202.9 676.4 202.7 678.4 202.6 680.4 202.5 682.4 202.4 684.4 202.3 686.4 202.2 688.3 202.1 690.3 202.0 692.3 201.9 694.3 201.8 696.3 201.7 698.3 201.6 700.3 201.6 702.3 201.5 702.7 201.5 704.3 201.5 706.3 201.4 708.3 201.4 710.3 201.4 712.3 201.3 714.3 201.3 716.3 201.3 718.3 201.3 720.3 201.2 722.2 201.2M415.1 223.2 417.1 223.2 419.1 223.3 421.1 223.3 423.1 223.3 425.1 223.3 427.1 223.4 429.1 223.4 431.1 223.4 433.1 223.5 434.8 223.5 435.1 223.5 437.1 223.6 439.1 223.6 441.1 223.7 443.1 223.8 445.1 223.9 447.1 224.0 449.1 224.1 451.0 224.2 453.0 224.3 455.0 224.4 457.0 224.5 459.0 224.6 461.0 224.7 463.0 224.8 465.0 224.9 467.0 225.1 469.0 225.2 471.0 225.3 473.0 225.4 473.8 225.5 475.0 225.6 477.0 225.7 479.0 225.8 481.0 226.0 483.0 226.1 484.9 226.2 486.9 226.4 488.9 226.5 490.9 226.6 492.9 226.8 494.9 226.9 496.9 227.0 498.9 227.1 500.9 227.3 502.9 227.4 504.6 227.5 504.9 227.5 506.9 227.6 508.9 227.8 510.9 227.9 512.9 228.0 514.9 228.1 516.9 228.2 518.8 228.3 520.8 228.4 522.8 228.5 524.8 228.6 526.8 228.7 528.8 228.7 530.8 228.8 532.8 228.9 534.8 229.0 536.8 229.1 538.8 229.1 540.8 229.2 542.8 229.2 544.8 229.3 546.8 229.3 548.8 229.4 550.8 229.4 552.7 229.5 554.7 229.5 554.8 229.5 556.7 229.5 558.7 229.6 560.7 229.6 562.7 229.6 564.7 229.6 566.7 229.6 568.7 229.6 570.7 229.6 572.7 229.6 574.7 229.6 576.7 229.6 578.7 229.6 580.7 229.5 582.6 229.5 582.7 229.5 584.7 229.5 586.6 229.4 588.6 229.4 590.6 229.3 592.6 229.3 594.6 229.2 596.6 229.2 598.6 229.1 600.6 229.1 602.6 229.0 604.6 228.9 606.6 228.8 608.6 228.7 610.6 228.7 612.6 228.6 614.6 228.5 616.6 228.4 618.6 228.3 620.5 228.2 622.5 228.1 624.5 228.0 626.5 227.9 628.5 227.8 630.5 227.6 632.5 227.5 632.8 227.5 634.5 227.4 636.5 227.3 638.5 227.1 640.5 227.0 642.5 226.9 644.5 226.8 646.5 226.6 648.5 226.5 650.5 226.4 652.5 226.2 654.4 226.1 656.4 226.0 658.4 225.8 660.4 225.7 662.4 225.6 663.6 225.5 664.4 225.4 666.4 225.3 668.4 225.2 670.4 225.1 672.4 224.9 674.4 224.8 676.4 224.7 678.4 224.6 680.4 224.5 682.4 224.4 684.4 224.3 686.4 224.2 688.3 224.1 690.3 224.0 692.3 223.9 694.3 223.8 696.3 223.7 698.3 223.6 700.3 223.6 702.3 223.5 702.6 223.5 704.3 223.5 706.3 223.4 708.3 223.4 710.3 223.4 712.3 223.3 714.3 223.3 716.3 223.3 718.3 223.3 720.3 223.2 722.2 223.2M415.1 245.0 417.1 245.0 419.1 245.0 421.1 245.0 423.1 245.0 425.1 245.1 427.1 245.1 429.1 245.1 431.1 245.1 433.1 245.1 435.1 245.1 437.1 245.2 439.1 245.2 441.1 245.2 443.1 245.3 445.1 245.3 447.1 245.3 449.1 245.4 451.0 245.4 453.0 245.5 453.7 245.5 455.0 245.5 457.0 245.6 459.0 245.7 461.0 245.7 463.0 245.8 465.0 245.8 467.0 245.9 469.0 246.0 471.0 246.0 473.0 246.1 475.0 246.2 477.0 246.3 479.0 246.3 481.0 246.4 483.0 246.5 484.9 246.6 486.9 246.7 488.9 246.8 490.9 246.9 492.9 246.9 494.9 247.0 496.9 247.1 498.9 247.2 500.9 247.3 502.9 247.4 504.9 247.5 505.2 247.5 506.9 247.6 508.9 247.7 510.9 247.8 512.9 247.9 514.9 247.9 516.9 248.0 518.8 248.1 520.8 248.2 522.8 248.3 524.8 248.4 526.8 248.5 528.8 248.5 530.8 248.6 532.8 248.7 534.8 248.8 536.8 248.8 538.8 248.9 540.8 249.0 542.8 249.0 544.8 249.1 546.8 249.1 548.8 249.2 550.8 249.2 552.7 249.2 554.7 249.3 556.7 249.3 558.7 249.3 560.7 249.4 562.7 249.4 564.7 249.4 566.7 249.4 568.7 249.4 570.7 249.4 572.7 249.4 574.7 249.4 576.7 249.4 578.7 249.3 580.7 249.3 582.7 249.3 584.7 249.2 586.6 249.2 588.6 249.2 590.6 249.1 592.6 249.1 594.6 249.0 596.6 249.0 598.6 248.9 600.6 248.8 602.6 248.8 604.6 248.7 606.6 248.6 608.6 248.5 610.6 248.5 612.6 248.4 614.6 248.3 616.6 248.2 618.6 248.1 620.5 248.0 622.5 247.9 624.5 247.9 626.5 247.8 628.5 247.7 630.5 247.6 632.2 247.5 632.5 247.5 634.5 247.4 636.5 247.3 638.5 247.2 640.5 247.1 642.5 247.0 644.5 246.9 646.5 246.9 648.5 246.8 650.5 246.7 652.5 246.6 654.4 246.5 656.4 246.4 658.4 246.3 660.4 246.3 662.4 246.2 664.4 246.1 666.4 246.0 668.4 246.0 670.4 245.9 672.4 245.8 674.4 245.8 676.4 245.7 678.4 245.7 680.4 245.6 682.4 245.5 683.7 245.5 684.4 245.5 686.4 245.4 688.3 245.4 690.3 245.3 692.3 245.3 694.3 245.3 696.3 245.2 698.3 245.2 700.3 245.2 702.3 245.1 704.3 245.1 706.3 245.1 708.3 245.1 710.3 245.1 712.3 245.1 714.3 245.0 716.3 245.0 718.3 245.0 720.3 245.0 722.2 245.0M415.1 266.2 417.1 266.2 419.1 266.1 421.1 266.1 423.1 266.1 425.1 266.1 427.1 266.1 429.1 266.1 431.1 266.1 433.1 266.1 435.1 266.0 437.1 266.0 439.1 266.0 441.1 265.9 443.1 265.9 445.1 265.9 447.1 265.8 449.1 265.8 451.0 265.8 453.0 265.7 455.0 265.7 457.0 265.7 459.0 265.6 461.0 265.6 463.0 265.6 465.0 265.5 467.0 265.5 469.0 265.5 471.0 265.5 473.0 265.5 475.0 265.5 477.0 265.5 479.0 265.5 481.0 265.5 483.0 265.5 484.9 265.5 486.9 265.5 488.9 265.6 490.9 265.6 492.9 265.6 494.9 265.7 496.9 265.7 498.9 265.8 500.9 265.8 502.9 265.9 504.9 265.9 506.9 266.0 508.9 266.0 510.9 266.1 512.9 266.1 514.9 266.2 516.9 266.3 518.8 266.4 520.8 266.4 522.8 266.5 524.8 266.6 526.8 266.7 528.8 266.7 530.8 266.8 532.8 266.9 534.8 267.0 536.8 267.0 538.8 267.1 540.8 267.2 542.8 267.2 544.8 267.3 546.8 267.4 548.8 267.4 550.8 267.5 551.8 267.5 552.7 267.5 554.7 267.6 556.7 267.6 558.7 267.6 560.7 267.7 562.7 267.7 564.7 267.7 566.7 267.7 568.7 267.7 570.7 267.7 572.7 267.7 574.7 267.7 576.7 267.7 578.7 267.6 580.7 267.6 582.7 267.6 584.7 267.5 585.6 267.5 586.6 267.5 588.6 267.4 590.6 267.4 592.6 267.3 594.6 267.2 596.6 267.2 598.6 267.1 600.6 267.0 602.6 267.0 604.6 266.9 606.6 266.8 608.6 266.7 610.6 266.7 612.6 266.6 614.6 266.5 616.6 266.4 618.6 266.4 620.5 266.3 622.5 266.2 624.5 266.1 626.5 266.1 628.5 266.0 630.5 266.0 632.5 265.9 634.5 265.9 636.5 265.8 638.5 265.8 640.5 265.7 642.5 265.7 644.5 265.6 646.5 265.6 648.5 265.6 650.5 265.5 652.5 265.5 654.4 265.5 656.4 265.5 658.4 265.5 660.4 265.5 662.4 265.5 664.4 265.5 666.4 265.5 668.4 265.5 670.4 265.5 672.4 265.5 674.4 265.6 676.4 265.6 678.4 265.6 680.4 265.7 682.4 265.7 684.4 265.7 686.4 265.8 688.3 265.8 690.3 265.8 692.3 265.9 694.3 265.9 696.3 265.9 698.3 266.0 700.3 266.0 702.3 266.0 704.3 266.1 706.3 266.1 708.3 266.1 710.3 266.1 712.3 266.1 714.3 266.1 716.3 266.1 718.3 266.1 720.3 266.2 722.2 266.2M415.1 289.0 417.1 288.8 419.1 288.6 421.1 288.5 423.1 288.4 425.1 288.3 427.1 288.2 429.1 288.0 431.1 287.8 433.1 287.5 433.5 287.5 435.1 287.3 437.1 287.1 439.1 286.8 441.1 286.5 443.1 286.3 445.1 286.0 447.1 285.7 448.9 285.5 449.1 285.5 451.0 285.3 453.0 285.1 455.0 284.9 457.0 284.8 459.0 284.7 461.0 284.6 463.0 284.5 465.0 284.5 467.0 284.4 469.0 284.4 471.0 284.3 473.0 284.3 475.0 284.3 477.0 284.2 479.0 284.2 481.0 284.2 483.0 284.2 484.9 284.1 486.9 284.1 488.9 284.1 490.9 284.1 492.9 284.1 494.9 284.1 496.9 284.1 498.9 284.0 500.9 284.0 502.9 284.0 504.9 284.0 506.9 284.0 508.9 284.0 510.9 284.1 512.9 284.1 514.9 284.1 516.9 284.1 518.8 284.1 520.8 284.1 522.8 284.2 524.8 284.2 526.8 284.2 528.8 284.3 530.8 284.3 532.8 284.3 534.8 284.4 536.8 284.4 538.8 284.5 540.8 284.5 542.8 284.6 544.8 284.6 546.8 284.7 548.8 284.7 550.8 284.7 552.7 284.8 554.7 284.8 556.7 284.9 558.7 284.9 560.7 284.9 562.7 285.0 564.7 285.0 566.7 285.0 568.7 285.0 570.7 285.0 572.7 285.0 574.7 285.0 576.7 284.9 578.7 284.9 580.7 284.9 582.7 284.8 584.7 284.8 586.6 284.7 588.6 284.7 590.6 284.7 592.6 284.6 594.6 284.6 596.6 284.5 598.6 284.5 600.6 284.4 602.6 284.4 604.6 284.3 606.6 284.3 608.6 284.3 610.6 284.2 612.6 284.2 614.6 284.2 616.6 284.1 618.6 284.1 620.5 284.1 622.5 284.1 624.5 284.1 626.5 284.1 628.5 284.0 630.5 284.0 632.5 284.0 634.5 284.0 636.5 284.0 638.5 284.0 640.5 284.1 642.5 284.1 644.5 284.1 646.5 284.1 648.5 284.1 650.5 284.1 652.5 284.1 654.4 284.2 656.4 284.2 658.4 284.2 660.4 284.2 662.4 284.3 664.4 284.3 666.4 284.3 668.4 284.4 670.4 284.4 672.4 284.5 674.4 284.5 676.4 284.6 678.4 284.7 680.4 284.8 682.4 284.9 684.4 285.1 686.4 285.3 688.3 285.5 688.5 285.5 690.3 285.7 692.3 286.0 694.3 286.3 696.3 286.5 698.3 286.8 700.3 287.1 702.3 287.3 703.9 287.5 704.3 287.5 706.3 287.8 708.3 288.0 710.3 288.2 712.3 288.3 714.3 288.4 716.3 288.5 718.3 288.6 720.3 288.8 722.2 289.0M415.1 322.7 417.1 322.4 419.1 322.0 420.8 321.5 421.1 321.4 423.1 320.6 425.1 319.7 425.6 319.5 427.1 318.7 429.1 317.6 429.3 317.5 431.1 316.5 433.1 315.6 433.3 315.5 435.1 314.8 437.1 314.0 438.6 313.5 439.1 313.3 441.1 312.7 443.1 312.1 444.9 311.5 445.1 311.5 447.1 310.9 449.1 310.3 451.0 309.8 452.1 309.5 453.0 309.3 455.0 308.7 457.0 308.2 459.0 307.7 460.0 307.5 461.0 307.3 463.0 306.8 465.0 306.4 467.0 306.0 469.0 305.6 469.8 305.5 471.0 305.3 473.0 305.0 475.0 304.7 477.0 304.5 479.0 304.2 481.0 304.0 483.0 303.8 484.9 303.6 485.6 303.5 486.9 303.4 488.9 303.2 490.9 303.0 492.9 302.9 494.9 302.8 496.9 302.7 498.9 302.6 500.9 302.5 502.9 302.4 504.9 302.3 506.9 302.2 508.9 302.1 510.9 302.0 512.9 302.0 514.9 301.9 516.9 301.8 518.8 301.7 520.8 301.7 522.8 301.6 524.8 301.5 526.2 301.5 526.8 301.5 528.8 301.4 530.8 301.4 532.8 301.4 534.8 301.3 536.8 301.3 538.8 301.3 540.8 301.3 542.8 301.3 544.8 301.3 546.8 301.3 548.8 301.3 550.8 301.3 552.7 301.3 554.7 301.4 556.7 301.4 558.7 301.4 560.7 301.4 562.7 301.4 564.7 301.4 566.7 301.4 568.7 301.4 570.7 301.4 572.7 301.4 574.7 301.4 576.7 301.4 578.7 301.4 580.7 301.4 582.7 301.4 584.7 301.3 586.6 301.3 588.6 301.3 590.6 301.3 592.6 301.3 594.6 301.3 596.6 301.3 598.6 301.3 600.6 301.3 602.6 301.3 604.6 301.4 606.6 301.4 608.6 301.4 610.6 301.5 611.2 301.5 612.6 301.5 614.6 301.6 616.6 301.7 618.6 301.7 620.5 301.8 622.5 301.9 624.5 302.0 626.5 302.0 628.5 302.1 630.5 302.2 632.5 302.3 634.5 302.4 636.5 302.5 638.5 302.6 640.5 302.7 642.5 302.8 644.5 302.9 646.5 303.0 648.5 303.2 650.5 303.4 651.8 303.5 652.5 303.6 654.4 303.8 656.4 304.0 658.4 304.2 660.4 304.5 662.4 304.7 664.4 305.0 666.4 305.3 667.6 305.5 668.4 305.6 670.4 306.0 672.4 306.4 674.4 306.8 676.4 307.3 677.4 307.5 678.4 307.7 680.4 308.2 682.4 308.7 684.4 309.3 685.3 309.5 686.4 309.8 688.3 310.3 690.3 310.9 692.3 311.5 692.5 311.5 694.3 312.1 696.3 312.7 698.3 313.3 698.8 313.5 700.3 314.0 702.3 314.8 704.1 315.5 704.3 315.6 706.3 316.5 708.1 317.5 708.3 317.6 710.3 318.7 711.8 319.5 712.3 319.7 714.3 320.6 716.3 321.4 716.6 321.5 718.3 322.0 720.3 322.4 722.2 322.7M415.1 331.0 417.1 331.4 417.6 331.5 419.1 332.1 421.1 332.9 422.4 333.5 423.1 333.9 425.1 335.0 426.2 335.5 427.1 336.1 429.1 337.0 430.3 337.5 431.1 337.9 433.1 338.8 434.7 339.5 435.1 339.7 437.1 340.8 438.3 341.5 439.1 342.1 440.7 343.5 441.1 343.9 442.4 345.5 443.1 346.5 443.8 347.5 445.0 349.5 445.1 349.7 446.1 351.5 447.1 353.4 447.1 353.5 448.2 355.5 449.1 357.3 449.1 357.5 450.2 359.5 451.0 361.0 451.3 361.5 452.6 363.5 453.0 364.1 454.2 365.5 455.0 366.4 456.3 367.5 457.0 368.1 459.0 369.2 459.9 369.5 461.0 369.8 463.0 370.0 465.0 369.7 465.7 369.5 467.0 369.0 469.0 367.6 469.1 367.5 470.7 365.5 471.0 365.1 471.7 363.5 472.4 361.5 472.6 359.5 472.0 357.5 471.0 355.5 471.0 355.5 469.4 353.5 469.0 352.8 467.9 351.5 467.0 349.8 466.8 349.5 466.5 347.5 466.4 345.5 466.5 343.5 466.7 341.5 467.0 340.3 467.2 339.5 468.0 337.5 469.0 335.9 469.3 335.5 471.0 333.6 471.1 333.5 473.0 331.9 473.5 331.5 475.0 330.5 476.6 329.5 477.0 329.3 479.0 328.2 480.4 327.5 481.0 327.2 483.0 326.4 484.9 325.6 485.2 325.5 486.9 324.9 488.9 324.3 490.9 323.7 491.8 323.5 492.9 323.2 494.9 322.7 496.9 322.2 498.9 321.8 500.6 321.5 500.9 321.4 502.9 321.1 504.9 320.8 506.9 320.5 508.9 320.2 510.9 320.0 512.9 319.7 514.7 319.5 514.9 319.5 516.9 319.3 518.8 319.1 520.8 318.9 522.8 318.8 524.8 318.7 526.8 318.6 528.8 318.5 530.8 318.3 532.8 318.2 534.8 318.0 536.8 317.9 538.8 317.7 540.8 317.6 542.8 317.5 543.1 317.5 544.8 317.4 546.8 317.3 548.8 317.3 550.8 317.3 552.7 317.2 554.7 317.2 556.7 317.2 558.7 317.2 560.7 317.3 562.7 317.3 564.7 317.3 566.7 317.4 568.7 317.4 570.7 317.4 572.7 317.3 574.7 317.3 576.7 317.3 578.7 317.2 580.7 317.2 582.7 317.2 584.7 317.2 586.6 317.3 588.6 317.3 590.6 317.3 592.6 317.4 594.3 317.5 594.6 317.5 596.6 317.6 598.6 317.7 600.6 317.9 602.6 318.0 604.6 318.2 606.6 318.3 608.6 318.5 610.6 318.6 612.6 318.7 614.6 318.8 616.6 318.9 618.6 319.1 620.5 319.3 622.5 319.5 622.7 319.5 624.5 319.7 626.5 320.0 628.5 320.2 630.5 320.5 632.5 320.8 634.5 321.1 636.5 321.4 636.8 321.5 638.5 321.8 640.5 322.2 642.5 322.7 644.5 323.2 645.6 323.5 646.5 323.7 648.5 324.3 650.5 324.9 652.2 325.5 652.5 325.6 654.4 326.4 656.4 327.2 657.0 327.5 658.4 328.2 660.4 329.3 660.8 329.5 662.4 330.5 663.9 331.5 664.4 331.9 666.3 333.5 666.4 333.6 668.1 335.5 668.4 335.9 669.4 337.5 670.2 339.5 670.4 340.3 670.7 341.5 670.9 343.5 671.0 345.5 670.9 347.5 670.6 349.5 670.4 349.8 669.5 351.5 668.4 352.8 668.0 353.5 666.4 355.5 666.4 355.5 665.4 357.5 664.8 359.5 665.0 361.5 665.7 363.5 666.4 365.1 666.7 365.5 668.3 367.5 668.4 367.6 670.4 369.0 671.7 369.5 672.4 369.7 674.4 370.0 676.4 369.8 677.5 369.5 678.4 369.2 680.4 368.1 681.1 367.5 682.4 366.4 683.2 365.5 684.4 364.1 684.8 363.5 686.1 361.5 686.4 361.0 687.2 359.5 688.3 357.5 688.3 357.3 689.2 355.5 690.3 353.5 690.3 353.4 691.3 351.5 692.3 349.7 692.4 349.5 693.6 347.5 694.3 346.5 695.0 345.5 696.3 343.9 696.7 343.5 698.3 342.1 699.1 341.5 700.3 340.8 702.3 339.7 702.7 339.5 704.3 338.8 706.3 337.9 707.1 337.5 708.3 337.0 710.3 336.1 711.2 335.5 712.3 335.0 714.3 333.9 715.0 333.5 716.3 332.9 718.3 332.1 719.8 331.5 720.3 331.4 722.2 331.0M415.1 364.1 416.0 365.5 417.1 367.5 417.1 367.5 418.2 369.5 419.1 371.1 419.3 371.5 420.4 373.5 421.1 374.7 421.5 375.5 422.7 377.5 423.1 378.2 423.9 379.5 425.1 381.3 425.2 381.5 426.6 383.5 427.1 384.2 428.1 385.5 429.1 386.7 429.8 387.5 431.1 389.0 431.6 389.5 433.1 391.0 433.6 391.5 435.1 392.8 435.9 393.5 437.1 394.4 438.5 395.5 439.1 395.9 441.1 397.2 441.7 397.5 443.1 398.3 445.1 399.2 445.7 399.5 447.1 400.1 449.1 400.8 451.0 401.3 451.7 401.5 453.0 401.8 455.0 402.1 457.0 402.3 459.0 402.4 461.0 402.4 463.0 402.3 465.0 402.0 467.0 401.6 467.3 401.5 469.0 401.0 471.0 400.3 472.9 399.5 473.0 399.5 475.0 398.4 476.4 397.5 477.0 397.1 479.0 395.6 479.1 395.5 481.0 393.7 481.2 393.5 482.9 391.5 483.0 391.4 484.3 389.5 484.9 388.5 485.5 387.5 486.5 385.5 486.9 384.4 487.3 383.5 487.9 381.5 488.4 379.5 488.8 377.5 488.9 376.3 489.0 375.5 489.2 373.5 489.2 371.5 489.2 369.5 489.2 367.5 489.0 365.5 488.9 365.3 488.7 363.5 488.4 361.5 488.0 359.5 487.8 357.5 487.8 355.5 487.9 353.5 488.4 351.5 488.9 350.2 489.3 349.5 490.5 347.5 490.9 346.9 492.3 345.5 492.9 344.9 494.9 343.5 494.9 343.5 496.9 342.4 498.7 341.5 498.9 341.4 500.9 340.5 502.9 339.6 503.2 339.5 504.9 338.8 506.9 338.1 508.9 337.5 508.9 337.5 510.9 337.0 512.9 336.5 514.9 336.0 516.9 335.6 517.5 335.5 518.8 335.3 520.8 335.0 522.8 334.8 524.8 334.6 526.8 334.4 528.8 334.3 530.8 334.1 532.8 334.0 534.8 333.8 536.8 333.6 538.1 333.5 538.8 333.4 540.8 333.3 542.8 333.1 544.8 333.0 546.8 332.8 548.8 332.7 550.8 332.7 552.7 332.6 554.7 332.6 556.7 332.6 558.7 332.6 560.7 332.5 562.7 332.5 564.7 332.5 566.7 332.4 568.7 332.4 570.7 332.4 572.7 332.5 574.7 332.5 576.7 332.5 578.7 332.6 580.7 332.6 582.7 332.6 584.7 332.6 586.6 332.7 588.6 332.7 590.6 332.8 592.6 333.0 594.6 333.1 596.6 333.3 598.6 333.4 599.3 333.5 600.6 333.6 602.6 333.8 604.6 334.0 606.6 334.1 608.6 334.3 610.6 334.4 612.6 334.6 614.6 334.8 616.6 335.0 618.6 335.3 619.9 335.5 620.5 335.6 622.5 336.0 624.5 336.5 626.5 337.0 628.5 337.5 628.5 337.5 630.5 338.1 632.5 338.8 634.2 339.5 634.5 339.6 636.5 340.5 638.5 341.4 638.7 341.5 640.5 342.4 642.5 343.5 642.5 343.5 644.5 344.9 645.1 345.5 646.5 346.9 646.9 347.5 648.1 349.5 648.5 350.2 649.0 351.5 649.5 353.5 649.6 355.5 649.6 357.5 649.4 359.5 649.0 361.5 648.7 363.5 648.5 365.3 648.4 365.5 648.2 367.5 648.2 369.5 648.2 371.5 648.2 373.5 648.4 375.5 648.5 376.3 648.6 377.5 649.0 379.5 649.5 381.5 650.1 383.5 650.5 384.4 650.9 385.5 651.9 387.5 652.5 388.5 653.1 389.5 654.4 391.4 654.5 391.5 656.2 393.5 656.4 393.7 658.3 395.5 658.4 395.6 660.4 397.1 661.0 397.5 662.4 398.4 664.4 399.5 664.5 399.5 666.4 400.3 668.4 401.0 670.1 401.5 670.4 401.6 672.4 402.0 674.4 402.3 676.4 402.4 678.4 402.4 680.4 402.3 682.4 402.1 684.4 401.8 685.7 401.5 686.4 401.3 688.3 400.8 690.3 400.1 691.7 399.5 692.3 399.2 694.3 398.3 695.7 397.5 696.3 397.2 698.3 395.9 698.9 395.5 700.3 394.4 701.5 393.5 702.3 392.8 703.8 391.5 704.3 391.0 705.8 389.5 706.3 389.0 707.6 387.5 708.3 386.7 709.3 385.5 710.3 384.2 710.8 383.5 712.2 381.5 712.3 381.3 713.5 379.5 714.3 378.2 714.7 377.5 715.9 375.5 716.3 374.7 717.0 373.5 718.1 371.5 718.3 371.1 719.2 369.5 720.3 367.5 720.3 367.5 721.4 365.5 722.2 364.1M415.1 416.3 417.1 417.5 417.2 417.5 419.1 418.6 420.9 419.5 421.1 419.6 423.1 420.6 425.1 421.5 425.1 421.5 427.1 422.4 429.1 423.2 430.0 423.5 431.1 423.9 433.1 424.6 435.1 425.2 436.0 425.5 437.1 425.8 439.1 426.3 441.1 426.8 443.1 427.2 445.1 427.5 445.1 427.5 447.1 427.8 449.1 428.0 451.0 428.1 453.0 428.2 455.0 428.2 457.0 428.2 459.0 428.1 461.0 427.9 463.0 427.7 464.0 427.5 465.0 427.3 467.0 427.0 469.0 426.5 471.0 426.0 472.5 425.5 473.0 425.4 475.0 424.7 477.0 423.9 477.9 423.5 479.0 423.0 481.0 422.0 482.0 421.5 483.0 421.0 484.9 419.8 485.3 419.5 486.9 418.4 488.2 417.5 488.9 416.9 490.7 415.5 490.9 415.3 492.9 413.5 492.9 413.4 494.8 411.5 494.9 411.3 496.4 409.5 496.9 408.9 497.9 407.5 498.9 405.9 499.1 405.5 500.2 403.5 500.9 402.0 501.1 401.5 501.9 399.5 502.5 397.5 502.9 396.2 503.1 395.5 503.5 393.5 503.9 391.5 504.3 389.5 504.7 387.5 504.9 386.5 505.1 385.5 505.4 383.5 505.7 381.5 505.8 379.5 505.7 377.5 505.5 375.5 505.3 373.5 505.1 371.5 505.3 369.5 505.6 367.5 506.2 365.5 506.9 363.8 507.0 363.5 508.1 361.5 508.9 360.3 509.5 359.5 510.9 358.1 511.5 357.5 512.9 356.4 514.4 355.5 514.9 355.2 516.9 354.3 518.8 353.5 518.8 353.5 520.8 352.8 522.8 352.3 524.8 351.8 526.1 351.5 526.8 351.4 528.8 351.0 530.8 350.7 532.8 350.4 534.8 350.1 536.8 349.9 538.8 349.7 540.8 349.6 542.0 349.5 542.8 349.4 544.8 349.3 546.8 349.2 548.8 349.0 550.8 348.9 552.7 348.7 554.7 348.6 556.7 348.5 558.7 348.5 560.7 348.5 562.7 348.5 564.7 348.5 566.7 348.6 568.7 348.6 570.7 348.6 572.7 348.5 574.7 348.5 576.7 348.5 578.7 348.5 580.7 348.5 582.7 348.6 584.7 348.7 586.6 348.9 588.6 349.0 590.6 349.2 592.6 349.3 594.6 349.4 595.4 349.5 596.6 349.6 598.6 349.7 600.6 349.9 602.6 350.1 604.6 350.4 606.6 350.7 608.6 351.0 610.6 351.4 611.3 351.5 612.6 351.8 614.6 352.3 616.6 352.8 618.6 353.5 618.6 353.5 620.5 354.3 622.5 355.2 623.0 355.5 624.5 356.4 625.9 357.5 626.5 358.1 627.9 359.5 628.5 360.3 629.3 361.5 630.4 363.5 630.5 363.8 631.2 365.5 631.8 367.5 632.1 369.5 632.3 371.5 632.1 373.5 631.9 375.5 631.7 377.5 631.6 379.5 631.7 381.5 632.0 383.5 632.3 385.5 632.5 386.5 632.7 387.5 633.1 389.5 633.5 391.5 633.9 393.5 634.3 395.5 634.5 396.2 634.9 397.5 635.5 399.5 636.3 401.5 636.5 402.0 637.2 403.5 638.3 405.5 638.5 405.9 639.5 407.5 640.5 408.9 641.0 409.5 642.5 411.3 642.6 411.5 644.5 413.4 644.5 413.5 646.5 415.3 646.7 415.5 648.5 416.9 649.2 417.5 650.5 418.4 652.1 419.5 652.5 419.8 654.4 421.0 655.4 421.5 656.4 422.0 658.4 423.0 659.5 423.5 660.4 423.9 662.4 424.7 664.4 425.4 664.9 425.5 666.4 426.0 668.4 426.5 670.4 427.0 672.4 427.3 673.4 427.5 674.4 427.7 676.4 427.9 678.4 428.1 680.4 428.2 682.4 428.2 684.4 428.2 686.4 428.1 688.3 428.0 690.3 427.8 692.3 427.5 692.3 427.5 694.3 427.2 696.3 426.8 698.3 426.3 700.3 425.8 701.4 425.5 702.3 425.2 704.3 424.6 706.3 423.9 707.4 423.5 708.3 423.2 710.3 422.4 712.3 421.5 712.3 421.5 714.3 420.6 716.3 419.6 716.5 419.5 718.3 418.6 720.2 417.5 720.3 417.5 722.2 416.3M415.1 475.8 417.1 476.1 419.1 476.3 421.1 476.5 423.1 476.7 425.1 476.9 427.1 477.1 429.1 477.2 431.1 477.3 433.1 477.4 435.1 477.4 437.1 477.5 439.1 477.5 441.1 477.4 443.1 477.4 445.1 477.3 447.1 477.2 449.1 477.1 451.0 476.9 453.0 476.7 455.0 476.5 457.0 476.2 459.0 475.9 461.0 475.6 461.3 475.5 463.0 475.2 465.0 474.8 467.0 474.3 469.0 473.9 470.4 473.5 471.0 473.3 473.0 472.8 475.0 472.2 477.0 471.5 477.1 471.5 479.0 470.8 481.0 470.1 482.5 469.5 483.0 469.3 484.9 468.5 486.9 467.6 487.2 467.5 488.9 466.7 490.9 465.7 491.3 465.5 492.9 464.6 494.9 463.5 494.9 463.5 496.9 462.3 498.3 461.5 498.9 461.1 500.9 459.8 501.3 459.5 502.9 458.4 504.1 457.5 504.9 456.9 506.7 455.5 506.9 455.3 508.9 453.7 509.1 453.5 510.9 451.9 511.3 451.5 512.9 450.1 513.5 449.5 514.9 448.1 515.4 447.5 516.9 446.0 517.3 445.5 518.8 443.8 519.1 443.5 520.7 441.5 520.8 441.4 522.3 439.5 522.8 438.8 523.8 437.5 524.8 436.1 525.3 435.5 526.6 433.5 526.8 433.2 527.9 431.5 528.8 430.1 529.2 429.5 530.4 427.5 530.8 426.7 531.5 425.5 532.6 423.5 532.8 423.1 533.6 421.5 534.6 419.5 534.8 419.1 535.6 417.5 536.4 415.5 536.8 414.6 537.3 413.5 538.0 411.5 538.6 409.5 538.8 408.7 539.0 407.5 539.2 405.5 539.0 403.5 538.8 401.9 538.7 401.5 538.5 399.5 538.4 397.5 538.8 395.5 538.8 395.5 539.6 393.5 540.8 391.6 540.9 391.5 542.7 389.5 542.8 389.5 544.8 388.0 545.5 387.5 546.8 386.8 548.8 386.0 550.2 385.5 550.8 385.3 552.7 384.8 554.7 384.4 556.7 384.1 558.7 383.8 560.7 383.6 561.8 383.5 562.7 383.4 564.7 383.3 566.7 383.2 568.7 383.2 570.7 383.2 572.7 383.3 574.7 383.4 575.6 383.5 576.7 383.6 578.7 383.8 580.7 384.1 582.7 384.4 584.7 384.8 586.6 385.3 587.2 385.5 588.6 386.0 590.6 386.8 591.9 387.5 592.6 388.0 594.6 389.5 594.7 389.5 596.5 391.5 596.6 391.6 597.8 393.5 598.6 395.5 598.6 395.5 599.0 397.5 598.9 399.5 598.7 401.5 598.6 401.9 598.4 403.5 598.2 405.5 598.4 407.5 598.6 408.7 598.8 409.5 599.4 411.5 600.1 413.5 600.6 414.6 601.0 415.5 601.8 417.5 602.6 419.1 602.8 419.5 603.8 421.5 604.6 423.1 604.8 423.5 605.9 425.5 606.6 426.7 607.0 427.5 608.2 429.5 608.6 430.1 609.5 431.5 610.6 433.2 610.8 433.5 612.1 435.5 612.6 436.1 613.6 437.5 614.6 438.8 615.1 439.5 616.6 441.4 616.7 441.5 618.3 443.5 618.6 443.8 620.1 445.5 620.5 446.0 622.0 447.5 622.5 448.1 623.9 449.5 624.5 450.1 626.1 451.5 626.5 451.9 628.3 453.5 628.5 453.7 630.5 455.3 630.7 455.5 632.5 456.9 633.3 457.5 634.5 458.4 636.1 459.5 636.5 459.8 638.5 461.1 639.1 461.5 640.5 462.3 642.5 463.5 642.5 463.5 644.5 464.6 646.1 465.5 646.5 465.7 648.5 466.7 650.2 467.5 650.5 467.6 652.5 468.5 654.4 469.3 654.9 469.5 656.4 470.1 658.4 470.8 660.3 471.5 660.4 471.5 662.4 472.2 664.4 472.8 666.4 473.3 667.0 473.5 668.4 473.9 670.4 474.3 672.4 474.8 674.4 475.2 676.1 475.5 676.4 475.6 678.4 475.9 680.4 476.2 682.4 476.5 684.4 476.7 686.4 476.9 688.3 477.1 690.3 477.2 692.3 477.3 694.3 477.4 696.3 477.4 698.3 477.5 700.3 477.5 702.3 477.4 704.3 477.4 706.3 477.3 708.3 477.2 710.3 477.1 712.3 476.9 714.3 476.7 716.3 476.5 718.3 476.3 720.3 476.1 722.2 475.8" fill="none" stroke="#000" stroke-width="1" stroke-linejoin="round" clip-path="url(#clR)"/>
<path d="M159.78 485.50v-5.8M159.78 57.50v5.8M236.55 485.50v-5.8M236.55 57.50v5.8M313.33 485.50v-5.8M313.33 57.50v5.8M83.00 399.90h5.8M390.10 399.90h-5.8M83.00 314.30h5.8M390.10 314.30h-5.8M83.00 228.70h5.8M390.10 228.70h-5.8M83.00 143.10h5.8M390.10 143.10h-5.8M491.92 485.50v-5.8M491.92 57.50v5.8M568.70 485.50v-5.8M568.70 57.50v5.8M645.48 485.50v-5.8M645.48 57.50v5.8M415.15 399.90h5.8M722.25 399.90h-5.8M415.15 314.30h5.8M722.25 314.30h-5.8M415.15 228.70h5.8M722.25 228.70h-5.8M415.15 143.10h5.8M722.25 143.10h-5.8M83.00 58.20h5.8M390.10 58.20h-5.8M415.15 58.20h5.8M722.25 58.20h-5.8" stroke="#000" stroke-width="0.9" fill="none"/>
<path d="M83.2 399.7C85.9 399.9 93.4 400.0 99.3 400.8C105.2 401.6 112.2 403.0 118.6 404.7C125.0 406.4 131.4 409.0 137.8 411.2C144.2 413.4 151.3 415.7 157.1 417.6C162.9 419.5 168.0 421.2 172.5 422.4C177.0 423.6 180.9 424.2 184.1 424.7C187.3 425.2 189.7 425.5 191.8 425.3C194.0 425.1 195.7 424.6 197.0 423.6C198.3 422.6 199.3 421.1 199.8 419.5C200.3 417.9 200.1 415.7 199.9 414.0C199.7 412.3 199.2 410.8 198.5 409.5C197.8 408.2 196.4 406.6 196.0 406.0" fill="none" stroke="#ff0000" stroke-width="3.9" stroke-linecap="butt"/>
<path d="M389.9 399.7C387.2 399.9 379.7 400.0 373.8 400.8C367.9 401.6 360.9 403.0 354.5 404.7C348.1 406.4 341.7 409.0 335.3 411.2C328.9 413.4 321.8 415.7 316.0 417.6C310.2 419.5 305.1 421.2 300.6 422.4C296.1 423.6 292.2 424.2 289.0 424.7C285.8 425.2 283.4 425.5 281.3 425.3C279.2 425.1 277.4 424.6 276.1 423.6C274.8 422.6 273.8 421.1 273.3 419.5C272.8 417.9 273.0 415.7 273.2 414.0C273.4 412.3 274.0 410.8 274.6 409.5C275.2 408.2 276.7 406.6 277.1 406.0" fill="none" stroke="#ff0000" stroke-width="3.9" stroke-linecap="butt"/>
<path d="M526.0 404.0C525.5 403.0 524.1 399.6 523.3 397.8C522.5 396.0 521.7 394.7 521.1 393.1C520.5 391.5 520.0 389.6 519.7 388.2C519.4 386.8 519.3 385.8 519.4 384.5C519.5 383.2 519.8 381.7 520.2 380.5C520.6 379.3 521.3 378.4 522.0 377.5C522.7 376.6 523.5 376.0 524.6 375.0C525.7 374.0 527.0 372.6 528.5 371.5C530.0 370.4 530.9 369.6 533.5 368.5C536.1 367.4 540.3 365.9 544.0 365.1C547.7 364.3 551.5 363.8 555.6 363.5C559.7 363.2 564.3 363.1 568.7 363.1C573.1 363.1 577.7 363.2 581.8 363.5C585.9 363.8 589.7 364.3 593.4 365.1C597.1 365.9 601.3 367.4 603.9 368.5C606.5 369.6 607.4 370.4 608.9 371.5C610.4 372.6 611.7 374.0 612.8 375.0C613.9 376.0 614.7 376.6 615.4 377.5C616.1 378.4 616.8 379.3 617.2 380.5C617.6 381.7 617.9 383.2 618.0 384.5C618.1 385.8 618.0 386.8 617.7 388.2C617.4 389.6 616.9 391.5 616.3 393.1C615.7 394.7 614.9 396.0 614.1 397.8C613.3 399.6 611.9 403.0 611.4 404.0" fill="none" stroke="#ff0000" stroke-width="3.9" stroke-linecap="butt"/>
<circle cx="194.65" cy="404.8" r="6.85" fill="#000"/>
<circle cx="277.75" cy="406.2" r="6.7" fill="#fff"/>
<circle cx="526.7" cy="405.0" r="6.85" fill="#000"/>
<circle cx="609.6" cy="406.1" r="6.7" fill="#fff"/>
<rect x="83.00" y="57.50" width="307.10" height="428.00" fill="none" stroke="#000" stroke-width="1.1"/>
<rect x="415.15" y="57.50" width="307.10" height="428.00" fill="none" stroke="#000" stroke-width="1.1"/>
<g opacity="0.999">
<text transform="matrix(1.0186 0 0 1.0000 124.21 35.70)">Oscillation,</text>
<text transform="matrix(1.0000 0 0 1.0400 234.62 35.70)">2</text>
<text transform="matrix(0.9506 0 0 1.0000 244.78 35.70)" class="i">π</text>
<text transform="matrix(1.0737 0 0 1.0000 258.60 35.70)" class="i">J</text>
<text transform="matrix(1.4842 0 0 1.0000 274.72 37.70)">=</text>
<text transform="matrix(1.4000 0 0 1.0000 296.70 37.45)">−</text>
<text transform="matrix(1.0353 0 0 1.0400 312.22 35.70)">0.02</text>
<text transform="matrix(1.0460 0 0 1.0000 446.88 35.70)">Circulation,</text>
<text transform="matrix(1.0000 0 0 1.0400 561.02 35.70)">2</text>
<text transform="matrix(0.9318 0 0 1.0000 570.28 35.70)" class="i">π</text>
<text transform="matrix(1.1474 0 0 1.0000 583.47 35.70)" class="i">J</text>
<text transform="matrix(1.5263 0 0 1.0000 601.37 37.70)">=</text>
<text transform="matrix(1.0090 0 0 1.0400 623.73 35.70)">15.4883</text>
<text transform="matrix(1.0107 0 0 1.0400 46.94 491.00)">30</text>
<text transform="matrix(0.9781 0 0 1.0400 47.58 405.40)">40</text>
<text transform="matrix(1.0243 0 0 1.0400 46.67 319.80)">50</text>
<text transform="matrix(1.0040 0 0 1.0400 47.07 234.20)">60</text>
<text transform="matrix(1.0313 0 0 1.0400 46.53 148.60)">70</text>
<text transform="matrix(0.9974 0 0 1.0400 47.20 63.00)">80</text>
<text transform="matrix(1.0267 0 0 1.0400 733.75 491.00)">67.1</text>
<text transform="matrix(1.0267 0 0 1.0400 733.24 405.40)">70.0</text>
<text transform="matrix(1.0267 0 0 1.0400 733.24 319.80)">72.0</text>
<text transform="matrix(1.0154 0 0 1.0400 733.25 234.20)">73.4</text>
<text transform="matrix(1.0154 0 0 1.0400 733.25 148.60)">74.4</text>
<text transform="matrix(1.0382 0 0 1.0400 733.22 63.00)">75.2</text>
<text transform="matrix(0.9886 0 0 1.0400 77.96 516.60)">0</text>
<text transform="matrix(0.9506 0 0 1.0000 144.18 516.60)" class="i">π</text>
<text transform="matrix(1.6519 0 0 1.5193 156.50 521.41)">/</text>
<text transform="matrix(0.9263 0 0 1.0400 166.65 516.60)">4</text>
<text transform="matrix(0.9976 0 0 1.0000 221.28 516.60)" class="i">π</text>
<text transform="matrix(1.6519 0 0 1.5193 233.20 521.41)">/</text>
<text transform="matrix(0.9576 0 0 1.0400 242.96 516.60)">2</text>
<text transform="matrix(1.0941 0 0 1.0400 291.51 516.60)">3</text>
<text transform="matrix(0.9506 0 0 1.0000 303.48 516.60)" class="i">π</text>
<text transform="matrix(1.6519 0 0 1.5193 315.80 521.41)">/</text>
<text transform="matrix(0.8842 0 0 1.0400 325.47 516.60)">4</text>
<text transform="matrix(0.9506 0 0 1.0000 383.58 516.60)" class="i">π</text>
<text transform="matrix(0.9692 0 0 1.0000 204.39 545.90)" class="i">ω</text>
<text transform="matrix(1.0658 0 0 1.0000 225.17 545.90)">(rad)</text>
<text transform="matrix(0.9886 0 0 1.0400 410.11 516.60)">0</text>
<text transform="matrix(0.9506 0 0 1.0000 476.33 516.60)" class="i">π</text>
<text transform="matrix(1.6519 0 0 1.5193 488.65 521.41)">/</text>
<text transform="matrix(0.9263 0 0 1.0400 498.80 516.60)">4</text>
<text transform="matrix(0.9976 0 0 1.0000 553.43 516.60)" class="i">π</text>
<text transform="matrix(1.6519 0 0 1.5193 565.35 521.41)">/</text>
<text transform="matrix(0.9576 0 0 1.0400 575.11 516.60)">2</text>
<text transform="matrix(1.0941 0 0 1.0400 623.66 516.60)">3</text>
<text transform="matrix(0.9506 0 0 1.0000 635.63 516.60)" class="i">π</text>
<text transform="matrix(1.6519 0 0 1.5193 647.95 521.41)">/</text>
<text transform="matrix(0.8842 0 0 1.0400 657.62 516.60)">4</text>
<text transform="matrix(0.9506 0 0 1.0000 715.73 516.60)" class="i">π</text>
<text transform="matrix(0.9692 0 0 1.0000 536.54 545.90)" class="i">ω</text>
<text transform="matrix(1.0658 0 0 1.0000 557.32 545.90)">(rad)</text>
<text transform="matrix(0.8000 0 0 1.0000 399.10 516.60)">,</text>
<text transform="translate(30.70 300.53) rotate(-90) scale(0.8548 1)" class="i">q</text>
<text transform="translate(30.70 284.36) rotate(-90) scale(0.9855 1)">(AU)</text>
<text transform="translate(807.80 300.76) rotate(-90) scale(1.1226 1)" class="i">I</text>
<text transform="translate(807.80 284.38) rotate(-90) scale(1.0048 1)">(deg)</text>
</g>
<circle cx="777.7" cy="480.00" r="2.65" fill="none" stroke="#000" stroke-width="0.85"/>
<circle cx="777.7" cy="394.40" r="2.65" fill="none" stroke="#000" stroke-width="0.85"/>
<circle cx="777.7" cy="308.80" r="2.65" fill="none" stroke="#000" stroke-width="0.85"/>
<circle cx="777.7" cy="223.20" r="2.65" fill="none" stroke="#000" stroke-width="0.85"/>
<circle cx="777.7" cy="137.60" r="2.65" fill="none" stroke="#000" stroke-width="0.85"/>
<circle cx="777.7" cy="52.00" r="2.65" fill="none" stroke="#000" stroke-width="0.85"/>
<path d="M17.30 298.90c-1.6 -0.3 -2.2 -1.6 -1.0 -2.8c1.0 -1.0 1.6 -2.0 0.2 -3.0" fill="none" stroke="#000" stroke-width="0.9" stroke-linecap="round"/>
<path d="M790.40 298.90c-1.6 -0.3 -2.2 -1.6 -1.0 -2.8c1.0 -1.0 1.6 -2.0 0.2 -3.0" fill="none" stroke="#000" stroke-width="0.9" stroke-linecap="round"/>
</svg></body></html>
